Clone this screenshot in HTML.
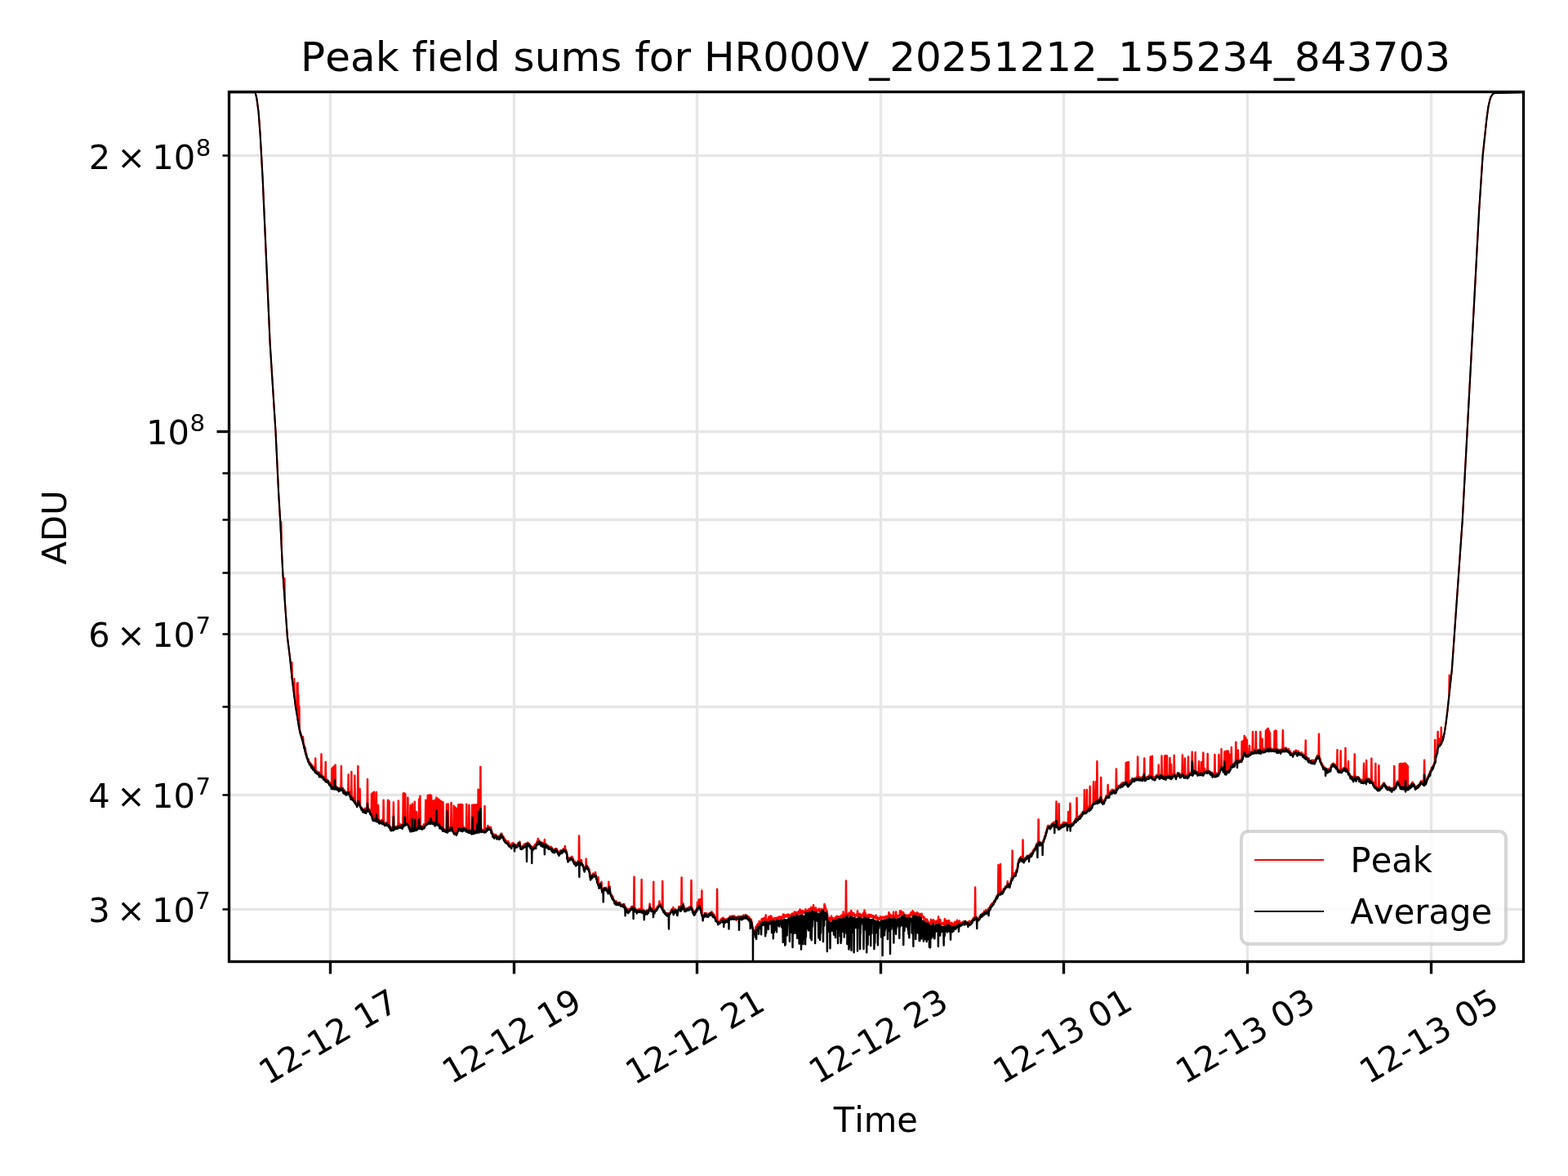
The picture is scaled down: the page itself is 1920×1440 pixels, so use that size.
<!DOCTYPE html>
<html lang="en"><head><meta charset="utf-8"><title>Peak field sums for HR000V_20251212_155234_843703</title>
<style>html,body{margin:0;padding:0;background:#fff;overflow:hidden}svg{display:block}text{font-family:'DejaVu Sans','Liberation Sans',sans-serif;fill:#000;font-kerning:none;font-variant-ligatures:none;font-feature-settings:"kern" 0,"liga" 0,"clig" 0}.t10{font-size:41.667px}.t12{font-size:50px}.t7{font-size:29.167px}.grid line{stroke:#e6e6e6;stroke-width:3.333}.sp{stroke:#000;stroke-width:3.333;fill:none;stroke-linecap:square}.mj line{stroke:#000;stroke-width:3.333}.mn line{stroke:#000;stroke-width:2.5}</style></head><body>
<svg width="1920" height="1440" viewBox="0 0 1920 1440">
<rect width="1920" height="1440" fill="#fff"/>
<defs><clipPath id="ax"><rect x="279.63" y="112.0" width="1584.9699999999998" height="1065.42"/></clipPath></defs>
<g class="grid" clip-path="url(#ax)">
<line x1="404.5" y1="112.0" x2="404.5" y2="1177.42"/>
<line x1="629.5" y1="112.0" x2="629.5" y2="1177.42"/>
<line x1="853.5" y1="112.0" x2="853.5" y2="1177.42"/>
<line x1="1078.5" y1="112.0" x2="1078.5" y2="1177.42"/>
<line x1="1302.5" y1="112.0" x2="1302.5" y2="1177.42"/>
<line x1="1527.5" y1="112.0" x2="1527.5" y2="1177.42"/>
<line x1="1752.5" y1="112.0" x2="1752.5" y2="1177.42"/>
<line x1="279.63" y1="528.5" x2="1864.6" y2="528.5"/>
<line x1="279.63" y1="1113.5" x2="1864.6" y2="1113.5"/>
<line x1="279.63" y1="973.5" x2="1864.6" y2="973.5"/>
<line x1="279.63" y1="865.5" x2="1864.6" y2="865.5"/>
<line x1="279.63" y1="776.5" x2="1864.6" y2="776.5"/>
<line x1="279.63" y1="701.5" x2="1864.6" y2="701.5"/>
<line x1="279.63" y1="636.5" x2="1864.6" y2="636.5"/>
<line x1="279.63" y1="579.5" x2="1864.6" y2="579.5"/>
<line x1="279.63" y1="190.5" x2="1864.6" y2="190.5"/>
</g>
<g clip-path="url(#ax)" fill="none" stroke-linejoin="round" stroke-linecap="round">
<polyline stroke="#f00" stroke-width="2.083" points="279.63,113.0 311.73,113.0 312.63,113.3 314.43,120.8 316.53,136.6 318.63,164.5 321.63,218.3 330.63,420.2 337.53,528.6 341.13,603.5 343.23,638.7 344.13,657.3 344,660.3 344.40,639.0 344.80,660.3 344.43,663.4 346.23,700.6 348.33,729.0 348.10,731.0 348.50,708.0 348.90,731.0 348.63,733.0 351.93,780.2 355.23,807.0 357.33,827.7 357.10,829.2 357.50,811.0 357.90,829.2 357.63,830.6 360.33,851.7 359.98,853.0 360.38,831.0 360.77,853.0 360.63,854.4 361.23,858.7 361.83,864.2 362.13,865.5 362.43,868.2 362.73,869.4 363.33,872.9 363.10,873.6 363.50,836.6 363.90,873.6 363.63,874.3 363.93,876.8 364.53,880.1 364.35,880.9 364.75,836.0 365.15,880.9 364.83,881.6 365.13,883.1 365.43,885.9 365.10,886.3 365.50,851.0 365.90,886.3 365.73,886.8 366.03,888.1 365.85,889.1 366.25,864.8 366.33,890.2"/>
<polyline stroke="#f00" stroke-width="2.45" points="365.90,886.3 365.73,886.8 366.03,888.1 365.85,889.1 366.25,864.8 366.65,889.1 366.33,890.2 366.63,891.0 367.23,896.2 367.53,896.1 367.83,897.6 368.13,897.7 368.73,900.8 369.03,900.6 369.33,901.5 369.63,903.7 369.93,904.1 370.53,906.2 370.83,906.2 370.60,906.7 371,902.2 371.40,906.7 371.13,907.2 371.43,908.4 371.73,911.3 372.03,911.4 372.33,912.4 373.23,917.7 373.53,917.2 373.75,915.4 374.15,918.9 373.83,920.6 374.13,919.9 374.43,921.8 374.73,922.6 375.03,922.9 375.33,925.1 376.23,928.8 376.53,929.7 376.83,929.5 377.13,930.0 377.73,929.6 378.03,931.9 378.33,931.8 378.63,932.8 378.93,933.2 379.23,934.3 379.53,934.0 379.83,936.7 380.43,935.2 381.03,937.5 381.33,935.8 381.63,937.3 381.93,937.1 382.23,938.0 382.53,938.0 382.83,938.9 383.43,940.0 383.73,938.7 384.03,940.8 384.63,940.5 384.93,941.3 385.23,943.1 385.53,942.0 385.83,941.8 386.13,943.5 385.85,943.3 386.25,928.5 386.65,943.3 386.43,943.1 386.73,944.2 387.03,944.2 387.33,945.5 387.63,944.2 387.93,944.7 388.23,946.1 388.53,946.9 388.83,945.9 389.13,947.0 389.43,946.7 389.73,946.6 390.03,945.5 390.33,948.8 390.63,948.3 390.93,945.8 391.23,948.5 391.53,947.7 391.83,947.6 392.13,948.2 392.43,949.5 392.73,949.1 393.03,949.2 393.33,949.5 393.10,949.5 393.50,923.5 393.90,949.5 393.63,949.5 393.93,950.5 394.23,948.6 394.53,949.4 394.83,950.6 395.13,950.0 395.43,951.3 395.73,951.1 396.03,951.9 396.33,951.7 396.63,952.6 396.93,952.3 397.23,953.1 397.83,951.6 398.13,953.2 398.43,953.5 398.73,953.3 398.35,954.0 398.75,932.9 399.15,954.0 399.03,954.7 399.33,954.6 399.63,955.6 399.93,954.3 400.23,954.6 400.83,956.7 401.13,955.2 401.43,956.5 401.73,956.4 402.03,956.6 402.33,958.0 402.93,958.9 403.23,958.3 403.53,959.3 403.83,958.4 404.13,960.6 404.43,959.4 405.03,961.9 405.33,961.3 405.63,962.0 405.93,961.7 406.10,963.3 406.50,941.0 406.90,963.3 406.53,962.0 407.13,963.5 407.43,966.1 407.73,963.6 407.35,963.8 407.75,939.8 408.15,963.8 408.03,964.1 408.33,964.6 408.63,962.2 408.93,964.6 408.60,964.4 409,938.5 409.40,964.4 409.23,964.2 409.53,965.1 409.83,965.0 409.50,964.6 410,954.0 410.50,964.6 410.13,964.2 410.43,964.6 410.23,963.9 410.62,936.6 411.02,963.9 410.73,963.2 411.03,962.7 411.33,963.4 411.63,963.7 411.93,963.3 412.23,964.2 412.53,964.6 412.83,965.7 413.13,964.4 413.43,964.4 413.73,965.4 414.03,965.5 414.33,966.0 414.63,967.1 414.93,965.3 415.23,966.6 415.53,967.0 415.83,966.8 416.13,964.5 416.73,966.5 417.03,965.4 417.33,965.6 417.63,965.1 417.48,965.6 417.88,937.9 418.27,965.6 417.93,966.1 418.23,965.2 418.53,964.7 418.83,965.0 419.13,966.6 419.43,966.3 419.73,965.1 420.03,965.2 420.33,968.0 420.63,966.6 420.93,968.4 421.23,968.0 421.53,969.1 421.83,968.7 422.13,967.7 422.43,971.1 422.73,970.3 423.03,970.6 423.33,972.3 423.63,972.0 423.93,972.3 424.23,970.9 424.83,970.8 425.13,969.7 425.43,970.5 425.73,969.9 426.03,969.0 426.33,968.9 426.23,969.6 426.62,948.5 427.02,969.6 426.63,970.4 426.93,970.0 427.23,970.9 427.53,971.3 427.83,971.4 428.13,969.5 428.43,972.8 428.73,973.7 429.03,973.0 429.33,973.4 429.63,975.1 429.93,973.9 430.23,976.2 429.98,976.2 430.38,945.0 430.77,976.2 430.53,976.1 430.83,977.2 431.13,976.5 431.73,977.6 432.03,976.5 432.33,977.5 432.63,979.5 432.93,978.6 433.23,978.8 433.83,981.7 434.13,981.0 433.98,981.2 434.38,949.8 434.77,981.2 434.43,981.3 435.03,982.8 435.33,981.7 435.63,983.7 435.93,984.2 436.23,985.1 436.53,985.5 436.83,985.6 437.13,987.1 437.73,984.7 438.03,984.6 438.33,981.9 437.98,980.9 438.38,938.1 438.77,980.9 438.63,979.8 438.93,979.8 439.23,981.1 439.53,981.0 439.83,983.7 440.13,984.1 440.43,985.8 440.23,985.3 440.62,966.0 441.02,985.3 440.73,984.8 441.03,986.3 441.33,986.8 441.63,988.2 441.93,988.6 442.23,989.4 442.53,989.8 442.83,988.9 443.13,990.4 443.73,991.2 444.03,992.1 444.33,990.6 444.63,991.6 444.93,991.9 445.23,991.4 445.53,991.0 445.83,992.6 446.13,992.5 446.43,993.1 446.73,991.0 447.03,989.8 447.33,992.1 447.93,990.6 448.23,991.8 448.53,991.3 448.83,990.0 449.13,991.3 449.43,989.9 449.73,991.6 449.50,990.9 450,954.1 450.40,986.8 450,982.8 450.50,990.9 450.03,990.1 450.33,989.9 450.63,991.6 450.93,991.7 451.53,990.0 451.83,991.3 452.13,991.5 452.43,992.2 452.73,992.3 453.03,992.0 453.33,993.4 453.63,995.5 453.93,994.4 454.53,996.3 454.83,998.0 454.60,998.2 455,972.2 455.40,998.2 455.13,998.3 455.43,998.7 455.73,1001.4 456.03,1001.0 456.33,1002.0 456.10,1002.0 456.50,970.8 456.90,1002.0 456.63,1002.1 456.93,1002.1 457.23,1003.5 457.53,1002.6 457.83,1003.0 457.73,1001.9 458.12,969.8 458.52,1001.9 458.13,1000.8 458.43,1003.7 458.73,1002.2 459.03,1002.8 459.33,1001.5 459.63,1002.5 459.93,1002.6 460.23,1003.5 460.53,1003.3 460.83,1001.2 460.38,1002.1 460.48,999.3 460.88,970.0 461.27,999.3 460.88,996.5 461.38,1002.1 461.13,1003.1 461.43,1003.1 461.73,1002.9 462.63,1004.3 462.93,1002.9 462.73,1003.2 463.12,986.0 463.52,1003.2 463.23,1003.4 463.83,1005.2 464.13,1004.2 464.43,1005.3 464.73,1004.6 465.03,1005.9 465.33,1005.7 465.93,1007.0 466.23,1005.3 466.53,1006.2 466.83,1004.6 467.43,1007.3 467.73,1004.7 468.03,1005.5 468.33,1003.4 468.63,1006.2 468.93,1007.8 469.23,1005.6 469.53,1006.9 469.23,1007.5 469.62,979.8 470.02,1007.5 469.83,1008.1 470.13,1006.7 470.43,1007.7 470.73,1007.3 471.33,1008.5 471.63,1009.5 472.23,1008.9 472.53,1008.8 472.83,1009.7 473.13,1009.2 473.43,1009.0 473.73,1007.2 474.03,1008.4 474.33,1007.7 474.63,1009.9 474.93,1008.9 474.60,1009.5 475,979.8 475.40,1009.5 475.23,1010.0 475.53,1008.7 475.83,1008.7 476.13,1009.8 476.43,1011.5 476.10,1011.2 476.50,981.0 476.90,1011.2 476.73,1011.0 477.03,1012.6 477.33,1013.7 477.63,1012.9 477.93,1014.5 478.23,1012.3 478.53,1013.2 478.83,1013.7 479.13,1014.0 479.43,1013.2 480.03,1015.3 480.33,1015.3 480.63,1015.0 480.93,1013.7 481.23,1015.3 481.53,1014.5 481.83,1013.0 481.38,1013.6 481.88,982.5 482.27,1006.3 481.88,999.0 482.38,1013.6 482.13,1014.3 482.43,1013.0 482.73,1013.5 483.03,1013.2 483.33,1013.3 483.93,1014.8 484.23,1013.1 484.83,1012.8 485.13,1013.2 485.43,1013.3 485.73,1011.8 486.03,1012.9 486.33,1014.6 486.63,1013.2 486.93,1013.3 487.23,1012.2 487.53,1013.8 487.83,1012.4 487.48,1011.9 487.88,980.4 488.27,1011.9 488.13,1011.5 488.43,1010.9 489.03,1012.6 489.33,1010.5 489.63,1010.2 489.93,1009.1 490.23,1011.5 490.53,1010.1 490.83,1010.4 491.13,1010.1 491.43,1010.3 491.73,1011.6 492.03,1010.3 492.33,1011.1 492.63,1010.3 492.93,1010.3 493.23,1010.8 493.53,1010.6 493.35,1009.7 493.75,971.6 494.15,1009.7 493.83,1008.9 494.13,1009.6 494.43,1008.5 494.73,1009.6 494.60,1008.9 495,971.2 495.40,1008.9 495.03,1008.3 495.33,1007.8 495.12,1008.3 495.62,999.6 496.12,1008.3 495.63,1008.9 495.93,1007.5 496.23,1007.8 495.85,1007.9 496.25,972.2 496.65,1007.9 496.53,1008.0 496.83,1006.8 497.13,1007.1 497.43,1008.0 497.73,1009.5 498.03,1008.3 498.33,1008.6 498.63,1008.2 498.93,1008.4 499.23,1009.8 498.98,1009.0 499.38,976.6 499.77,1009.0 499.53,1008.2 499.83,1008.4 500.13,1010.6 500.43,1009.7 500.73,1010.2 501.03,1012.5 501.93,1016.5 502.23,1013.0 502.10,1013.9 502.50,986.0 502.90,1013.9 502.53,1014.8 502.83,1014.9 503.13,1015.6 503.43,1014.8 503.73,1015.6 504.03,1016.0 504.33,1016.1 504.63,1015.1 504.25,1015.4 504.75,1002.1 504.60,1008.8 505,984.1 505.40,1008.8 505.25,1015.4 504.93,1015.7 505.23,1014.7 505.53,1014.5 505.83,1014.7 506.13,1015.4 506.43,1013.0 507.03,1015.7 507.33,1014.6 507.63,1014.0 507.93,1014.6 507.62,1015.1 507.35,1008.9 507.75,981.6 508.15,1008.9 508.12,1002.8 508.62,1015.1 508.23,1015.6 508.53,1014.2 508.83,1013.7 509.13,1014.8 509.43,1013.9 509.73,1013.5 509.60,1014.1 510,994.1 510.40,1014.1 510.03,1014.7 510.33,1013.2 510.63,1013.5 510.93,1014.7 511.23,1013.6 511.53,1014.4 511.83,1011.8 512.13,1011.9 512.73,1012.8 513.03,1011.2 512.62,1012.0 513.12,978.5 513.52,1007.1 513.12,1002.1 513.62,1012.0 513.33,1012.8 513.63,1012.0 513.93,1011.9 514.23,1012.2 513.98,1012.1 514.38,974.8 514.77,1012.1 514.53,1012.0 514.83,1011.3 515.13,1012.1 515.43,1011.4 515.73,1013.5 516.03,1012.2 516.33,1012.4 516.63,1012.2 516.93,1012.7 517.23,1012.7 517.53,1012.1 517.83,1011.2 518.13,1012.7 518.43,1011.5 518.73,1009.8 519.03,1009.2 519.33,1009.9 519.63,1009.6 519.93,1009.0 520.23,1009.2 520.53,1010.0 520.83,1010.4 521.13,1009.3 520.85,1009.2 521.25,979.8 521.65,1009.2 521.43,1009.1 521.73,1009.5 522.03,1010.0 522.33,1008.9 523.23,1006.3 523.53,1007.2 523.35,1007.5 523.75,974.1 524.15,1007.5 523.83,1007.7 524.43,1005.9 524.73,1006.6 525.03,1005.9 524.85,1005.6 525.25,973.8 525.65,1005.6 525.33,1005.3 525.63,1004.0 525.93,1005.9 526.23,1004.7 526.53,1006.2 526.35,1005.5 526.75,973.5 527.15,1005.5 526.83,1004.8 527.13,1005.5 527.43,1005.0 527,1006.0 527.50,1000.9 528,1006.0 527.73,1006.9 528.03,1006.7 527.73,1006.1 528.12,974.1 528.52,1006.1 528.33,1005.6 528.63,1006.8 528.93,1004.7 529.23,1006.3 529.53,1005.4 529.83,1005.8 530.13,1005.6 530.43,1006.6 530.23,1005.7 530.62,980.4 531.02,1005.7 530.73,1004.8 531.33,1007.7 531.63,1004.9 531.93,1006.7 532.23,1005.9 532.10,1005.5 532.50,979.8 532.90,1005.5 532.53,1005.0 532.83,1007.6 533.13,1007.1 533.43,1008.6 533.73,1006.3 534.03,1008.1 534.33,1009.2 533.88,1007.9 534.38,976.6 534.77,999.7 534.38,991.5 534.88,1007.9 534.63,1006.5 534.93,1008.6 535.23,1008.7 535.53,1008.4 535.83,1009.4 535.60,1009.2 536,977.9 536.40,1009.2 536.13,1008.9 536.43,1008.0 536.73,1008.3 537.03,1009.1 537.33,1010.8 537.10,1010.3 537.50,979.1 537.90,1010.3 537.63,1009.7 537.93,1010.8 538.23,1010.3 538.53,1011.2 538.83,1011.4 538.60,1011.9 539,980.4 539.40,1011.9 539.13,1012.3 539.43,1013.1 539.73,1011.5 540.03,1011.3 540.33,1012.4 540.23,1012.6 540.62,981.2 541.02,1012.6 540.63,1012.8 540.93,1013.3 541.23,1014.2 541.53,1013.4 541.83,1014.0 542.13,1014.2 542.43,1015.3 542.10,1014.8 542.50,982.2 542.90,1014.8 542.73,1014.2 543.03,1015.7 543.33,1016.5 543.63,1014.9 543.93,1016.5 544.23,1015.9 544.53,1015.6 544.83,1017.5 545.13,1017.0 545.43,1015.9 545.73,1016.8 546.03,1015.9 546.33,1015.5 546.63,1017.6 546.48,1017.3 546.88,984.8 547.27,1017.3 546.93,1016.9 547.23,1018.4 547.53,1017.3 547.25,1017.3 547.75,992.1 548.25,1017.3 547.83,1017.2 548.13,1016.7 548.43,1016.8 548.73,1015.8 548.35,1015.9 548.75,984.5 549.15,1015.9 549.03,1016.0 549.33,1014.6 549.63,1014.3 549.93,1014.5 550.23,1014.9 550.53,1015.1 550.83,1014.9 551.43,1016.6 551.73,1012.4 552.03,1015.4 552.33,1014.8 552.10,1014.0 552.50,982.9 552.90,1014.0 552.63,1013.3 552.93,1013.7 553.23,1012.1 553.83,1016.2 554.13,1014.5 555.03,1017.8 555.33,1017.9 555.23,1018.0 555.62,986.6 556.02,1018.0 555.63,1018.0 555.93,1019.6 556.23,1019.2 556.53,1021.7 557.13,1020.0 556.85,1019.7 557.25,988.5 557.65,1019.7 557.43,1019.3 557.73,1019.6 558.03,1019.5 558.33,1019.9 558.63,1020.6 558.35,1019.8 558.75,989.8 559.15,1019.8 558.93,1018.9 559.23,1019.4 559.53,1018.6 559.83,1017.2 560.13,1018.3 560.43,1017.0 560.73,1016.2 561.03,1014.8 560.85,1014.4 561.25,985.4 561.65,1014.4 561.33,1014.0 561.63,1014.0 561.93,1012.3 562.23,1013.9 562.10,1013.4 562.50,985.0 562.90,1013.4 562.53,1012.9 562.83,1014.0 563.13,1014.7 563.43,1014.1 563.73,1014.0 563.35,1014.1 563.75,985.2 564.15,1014.1 564.03,1014.1 564.33,1015.0 564.63,1014.2 564.93,1015.2 564.60,1015.6 565,985.1 565.40,1015.6 565.23,1016.0 565.53,1013.5 566.13,1015.0 565.85,1014.4 566.25,985.4 566.65,1014.4 566.43,1013.8 566.73,1013.7 567.03,1013.5 567.33,1015.0 567.63,1012.5 567.93,1014.0 568.23,1013.9 568.53,1014.3 568.83,1013.8 569.13,1014.7 569.43,1014.4 569.73,1014.3 570.03,1017.2 570.63,1014.6 570.93,1015.1 571.23,1016.2 570.85,1016.7 571.25,984.8 571.65,1016.7 571.83,1016.0 572.13,1016.9 572.43,1016.6 572.73,1017.5 573.03,1016.3 573.33,1016.3 573.63,1017.3 573.93,1017.4 574.23,1017.4 573.98,1017.9 574.38,985.8 574.77,1017.9 574.53,1018.5 575.13,1017.9 575.43,1016.9 575.73,1018.4 576.03,1018.6 576.33,1017.5 576.63,1018.0 576.93,1017.2 577.23,1018.3 577.53,1018.1 577.83,1016.9 577.73,1017.6 578.12,985.8 578.52,1017.6 578.13,1018.4 578.43,1018.1 578,1018.1 578.50,999.6 579,1018.1 578.73,1018.1 579.03,1019.2 579.33,1018.8 579.63,1019.1 579.35,1018.6 579.75,985.5 580.15,1018.6 579.93,1018.1 580.23,1019.4 580.53,1017.6 580.83,1018.6 581.13,1016.7 580.85,1017.4 581.25,985.4 581.65,1017.4 581.43,1018.0 581.73,1016.9 582.03,1016.4 582.33,1018.0 582.10,1017.7 582.50,985.5 582.90,1017.7 582.63,1017.5 582.93,1017.6 583.23,1017.2 583.53,1017.3 583.35,1017.1 583.75,985.4 584.15,1017.1 583.83,1017.0 584.13,1016.8 583.88,1016.9 584.38,1007.8 584.88,1016.9 584.43,1017.0 584.73,1018.7 585.03,1016.0 585.23,1015.7 585.62,966.6 586.02,1015.7 585.63,1015.9 585.93,1016.1 586.23,1017.0 585.75,1017.2 586.25,992.8 586.75,1017.2 586.53,1017.4 586.83,1017.3 586.60,1016.8 587,967.2 587.40,1016.8 587.13,1016.2 587.73,1017.7 588.03,1016.7 588.33,1017.2 588,1016.2 587.98,1002.6 588.38,938.9 588.77,1002.6 589,1016.2 588.63,1015.3 588.93,1016.7 589.23,1016.6 589.53,1015.0 589.83,1016.2 590.13,1016.7 590.43,1015.6 590.73,1017.2 591.03,1017.4 591.33,1017.0 591.63,1016.8 591.93,1016.8 592.53,1018.1 592.83,1016.0 593.13,1017.2 593.43,1017.2 593.10,1016.7 593.50,987.0 593.90,1016.7 593.73,1016.2 594.03,1015.8 594.33,1016.5 594.63,1015.3 594.93,1016.7 595.23,1016.0 595.53,1014.9 595.83,1015.3 596.13,1014.2 596.43,1013.8 596.73,1014.9 597.33,1011.0 597.63,1013.1 597.93,1012.1 598.23,1012.4 598.53,1014.5 598.83,1013.4 599.13,1014.2 599.43,1012.6 600.03,1013.4 600.33,1014.8 600.93,1012.9 601.23,1015.2 601.53,1015.2 602.13,1018.3 602.43,1020.5 602.73,1019.8 603.03,1022.1 603.33,1020.8 603.63,1023.1 603.93,1023.5 604.23,1021.4 604.53,1022.3 604.83,1022.4 605.13,1023.2 605.43,1022.3 605.73,1022.2 606.03,1021.9 606.33,1022.7 606.63,1022.2 606.93,1022.1 607.23,1022.4 607.53,1023.5 607.83,1022.7 608.13,1023.6 608.43,1024.0 609.03,1025.5 609.33,1025.4 609.63,1024.4 609.93,1026.6 610.23,1026.7 610.53,1026.4 610.83,1025.8 611.13,1023.5 611.43,1024.4 611.73,1024.8 612.03,1024.6 612.33,1023.5 612.63,1023.4 612.93,1022.1 613.23,1023.0 613.53,1020.8 613.83,1021.9 614.13,1022.6 614.43,1020.7 614.73,1023.3 615.03,1024.4 615.33,1023.8 615.63,1023.5 615.93,1024.1 616.23,1024.0 616.53,1026.1 616.83,1025.2 617.13,1026.8 617.43,1026.3 617.73,1028.2 618.03,1027.2 618.33,1028.6 618.63,1028.4 618.93,1030.1 619.23,1029.3 619.53,1029.7 619.83,1031.1 620.13,1029.6 620.43,1029.8 620.73,1031.0 621.03,1030.5 621.33,1033.0 621.63,1032.1 621.93,1032.5 622.23,1032.3 622.53,1030.3 622.83,1034.2 623.13,1033.4 623.43,1032.1 624.33,1035.6 624.63,1035.2 624.93,1035.5 625.23,1035.5 625.53,1034.3 625.83,1034.4 626.13,1034.8 626.43,1033.5 626.73,1034.5 627.03,1034.8 627.33,1032.2 627.63,1033.8 627.93,1033.6 628.23,1033.8 628.53,1034.9 628.83,1032.4 629.13,1035.2 629.43,1034.4 629.73,1036.1 630.03,1034.0 630.33,1034.8 630.63,1034.6 630.93,1035.3 631.23,1034.4 631.53,1034.7 632.13,1036.2 632.43,1034.8 632.73,1035.4 633.03,1034.7 633.33,1035.1 633.63,1035.1 633.93,1032.8 634.23,1032.8 634.53,1032.9 634.83,1032.0 635.13,1033.6 635.43,1033.4 635.73,1032.2 636.03,1031.6 635.85,1031.1 636.25,1031.0 636.65,1031.1 636.33,1030.5 636.63,1032.4 637.23,1038.0 637.53,1038.1 637.83,1038.4 638.13,1039.3 638.43,1039.2 638.73,1036.8 639.03,1037.6 639.33,1037.8 639.63,1035.7 639.93,1036.4 640.23,1036.7 640.53,1036.0 640.83,1036.6 641.43,1034.4 641.73,1034.5 642.03,1033.5 642.33,1033.9 642.63,1035.2 642.93,1034.8 643.23,1034.7 643.53,1035.1 643.83,1032.9 644.43,1033.5 644.73,1034.7 645.03,1033.6 645.33,1033.3 645.63,1033.6 646.23,1031.8 645.85,1032.8 646.25,1031.6 646.65,1032.8 646.53,1033.7 646.83,1033.0 647.13,1033.9 647.43,1032.8 647.73,1033.3 648.03,1034.9 648.33,1034.7 648.63,1035.5 648.93,1034.5 649.53,1036.0 649.83,1036.4 650.13,1036.0 650.43,1036.5 650.73,1036.5 651.33,1037.1 651.63,1037.9 651.93,1036.7 652.23,1038.1 652.53,1037.5 652.83,1038.0 653.13,1037.5 653.43,1037.5 653.73,1036.9 654.03,1036.7 654.33,1035.4 654.63,1037.3 654.93,1034.8 655.23,1034.1 655.53,1035.6 655.83,1035.4 656.43,1033.9 656.73,1032.7 657.03,1034.5 657.33,1031.0 657.63,1033.7 657.93,1029.9 658.23,1029.8 658.53,1029.8 658.35,1029.5 658.75,1027.0 659.15,1029.5 658.83,1029.2 659.13,1030.2 659.43,1029.3 659.73,1029.9 660.03,1029.1 660.33,1031.6 660.63,1030.6 660.93,1030.4 661.53,1032.1 661.83,1031.9 662.13,1031.2 662.43,1032.1 663.03,1032.6 663.33,1032.1 663.63,1033.0 663.93,1031.7 664.23,1032.8 664.53,1032.1 664.83,1032.9 665.13,1032.5 665.43,1033.6 665.73,1032.9 666.03,1034.2 666.33,1032.7 666.63,1034.4 666.48,1033.7 666.88,1027.9 667.27,1033.7 666.93,1033.0 667.23,1031.9 667.83,1034.9 668.13,1034.5 668.43,1034.8 668.73,1034.3 669.03,1035.1 669.33,1034.2 669.63,1036.6 669.93,1036.7 670.53,1035.4 670.83,1035.5 671.13,1036.7 671.43,1036.7 671.73,1035.9 672.03,1037.4 672.33,1037.7 673.53,1037.5 674.13,1037.2 674.43,1038.8 674.73,1036.7 675.03,1038.1 675.33,1038.8 675.63,1040.1 675.93,1038.1 676.23,1039.5 676.83,1040.9 677.13,1042.6 677.43,1040.7 677.73,1042.8 678.03,1041.8 678.33,1042.0 678.93,1040.6 679.23,1039.6 679.53,1041.2 679.83,1040.5 680.13,1039.4 680.43,1040.2 680.73,1039.2 681.03,1039.2 681.63,1041.1 681.93,1039.5 682.23,1041.6 682.53,1042.7 682.83,1041.8 683.73,1045.4 684.03,1043.6 684.33,1043.0 684.63,1043.6 684.93,1043.5 685.23,1043.7 685.53,1043.5 685.83,1041.7 686.13,1043.6 686.43,1041.5 686.73,1042.9 687.03,1042.9 687.63,1042.3 687.93,1042.2 688.23,1041.0 688.53,1040.8 688.83,1043.0 689.13,1042.3 689.43,1042.0 689.73,1041.3 690.03,1039.2 690.33,1041.8 690.63,1039.9 690.93,1039.8 691.23,1040.3 691.53,1039.4 691.83,1041.3 691.48,1039.9 691.88,1036.0 692.43,1041.8 692.73,1041.5 693.03,1040.7 693.33,1042.4 693.63,1043.0 693.93,1044.2 694.23,1046.7 694.53,1048.2 694.83,1051.6 695.13,1052.9 695.43,1053.0 695.73,1052.3 696.03,1050.3 696.33,1051.9 696.63,1050.3 697.23,1050.9 697.53,1051.0 697.83,1050.5 698.13,1050.8 698.43,1050.8 698.73,1050.4 699.03,1050.1 699.63,1050.3 699.93,1048.9 700.23,1048.8 700.53,1051.5 700.83,1051.3 701.13,1050.0 701.43,1053.3 701.73,1053.9 702.03,1052.1 702.63,1054.3 702.93,1054.2 703.53,1056.0 703.83,1057.3 704.13,1055.0 704.43,1057.5 704.73,1058.8 705.03,1056.3 705.33,1058.2 705.93,1056.9 706.23,1057.7 706.53,1057.9 706.83,1057.4 707.13,1057.9 707.43,1055.3 707.73,1054.1 708.03,1055.2 708.33,1055.7 708.63,1056.4 708.93,1055.8 708.73,1055.3 709.12,1023.5 709.52,1055.3 709.23,1054.8 709.53,1056.3 709.83,1055.4 710.13,1055.2 710.43,1054.7 710.73,1055.1 711.03,1055.1 711.33,1054.7 711.88,1052.9 712.27,1054.1 711.93,1054.9 712.53,1057.8 712.83,1057.9 713.13,1058.3 713.43,1059.3 713.73,1058.9 714.03,1060.4 714.33,1061.1 714.63,1061.5 714.93,1061.6 715.23,1062.0 715.53,1064.7 715.83,1063.2 716.13,1063.5 716.43,1063.6 716.73,1061.9 717.03,1062.6 717.63,1059.9 717.35,1060.2 717.75,1051.6 718.15,1060.2 717.93,1060.5 718.23,1060.4 718.53,1059.9 718.83,1061.2 719.13,1060.3 719.43,1061.8 719.73,1062.5 720.03,1061.9 720.63,1064.9 720.93,1063.6 721.23,1063.7 721.53,1065.0 721.83,1067.1 722.43,1069.6 722.73,1072.7 723.03,1074.4 723.33,1073.6 723.93,1074.5 724.23,1073.7 724.53,1073.2 724.83,1073.2 725.13,1071.8 725.43,1072.7 725.73,1073.1 726.03,1070.7 726.33,1069.4 726.63,1070.4 726.93,1070.1 727.53,1071.9 727.83,1071.4 728.13,1072.4 728.43,1071.3 728.73,1071.0 728.60,1070.2 729,1067.9 729.40,1070.2 729.03,1069.4 729.33,1071.3 729.63,1071.5 730.23,1074.2 730.53,1076.9 731.13,1078.0 731.43,1077.9 731.73,1079.7 732.03,1080.9 732.33,1082.8 732.10,1083.2 732.50,1074.1 732.90,1083.2 732.63,1083.5 732.93,1084.5 733.23,1083.8 733.83,1086.2 734.13,1082.6 734.43,1082.6 735.03,1083.6 735.33,1082.7 735.63,1082.3 735.93,1084.8 736.10,1084.4 736.50,1079.8 736.90,1084.4 736.53,1084.7 736.83,1086.6 737.13,1089.9 737.43,1091.4 738.03,1089.1 738.33,1089.2 738.63,1089.9 738.93,1090.0 739.23,1088.3 739.83,1087.4 740.13,1087.2 740.43,1087.9 740.73,1087.3 741.03,1087.6 741.33,1087.6 741.63,1087.8 741.93,1086.7 742.23,1087.1 742.53,1088.4 742.83,1088.6 743.13,1089.3 743.43,1088.8 743.73,1088.7 744.03,1089.7 744.33,1090.2 744.63,1091.3 744.93,1091.3 745.23,1090.7 744.98,1089.9 745.38,1079.8 745.77,1089.9 745.53,1089.1 746.13,1085.8 746.43,1085.1 746.73,1089.0 747.03,1091.5 747.33,1092.9 747.63,1095.0 747.93,1094.7 748.23,1094.5 748.53,1096.0 748.83,1096.1 749.13,1096.7 749.43,1098.7 749.73,1097.3 750.03,1099.5 750.33,1098.7 750.63,1098.4 750.93,1101.0 751.23,1101.1 751.83,1102.4 752.13,1103.7 752.43,1103.7 752.73,1103.5 753.03,1103.9 753.33,1104.6 753.63,1104.0 753.93,1105.0 754.23,1103.2 754.53,1105.0 754.83,1105.3 755.13,1106.1 755.43,1104.7 756.03,1106.0 756.33,1108.0 756.63,1105.9 756.93,1106.3 757.23,1105.4 757.53,1107.6 757.83,1105.8 758.13,1105.8 758.43,1106.2 758.73,1105.0 759.03,1105.6 759.33,1106.4 759.63,1106.3 759.93,1108.0 760.23,1107.1 760.53,1109.6 760.83,1108.3 761.13,1107.8 761.43,1108.6 761.73,1108.9 762.03,1108.2 762.33,1108.3 762.93,1107.1 763.23,1107.5 763.53,1108.8 763.83,1107.1 764.13,1107.9 764.43,1107.2 765.03,1109.7 765.33,1109.7 765.63,1111.4 765.93,1111.8 766.23,1111.2 766.53,1112.0 766.83,1113.1 767.13,1113.4 767.43,1113.4 767.73,1112.7 768.03,1115.8 768.33,1115.3 768.63,1115.9 768.93,1115.2 769.23,1116.7 769.53,1115.1 769.83,1115.0 770.13,1113.0 770.43,1113.9 771.03,1114.0 771.33,1113.9 771.63,1112.9 771.93,1113.6 772.23,1112.5 772.53,1112.3 772.83,1112.2 773.13,1110.7 773.43,1110.1 773.73,1113.2 774.03,1110.1 774.63,1111.6 774.93,1110.4 775.23,1111.8 775.53,1109.4 775.83,1111.0 776.13,1111.4 776.43,1112.6 776.10,1112.4 776.50,1073.8 776.90,1112.4 776.73,1112.1 777.03,1110.7 777.33,1112.5 777.63,1112.6 777.93,1112.1 778.23,1113.2 778.53,1115.1 778.83,1114.6 779.13,1114.7 779.43,1115.4 779.73,1114.7 780.03,1114.3 780.33,1115.6 780.63,1115.5 780.93,1115.8 781.23,1113.6 781.53,1113.7 781.83,1114.7 782.43,1113.9 782.73,1113.1 783.03,1113.8 783.33,1113.0 783.63,1115.4 783.93,1114.8 784.23,1113.5 784.53,1115.3 784.83,1113.6 785.13,1114.9 785.43,1114.6 785.23,1114.4 785.62,1077.0 786.02,1114.4 785.73,1114.2 786.03,1115.6 786.33,1113.3 786.63,1114.5 786.93,1114.6 787.23,1113.6 787.53,1114.0 787.83,1115.4 788.13,1115.6 788.43,1114.7 788.73,1116.1 789.03,1116.2 789.33,1116.5 789.63,1115.9 789.93,1116.1 790.23,1116.8 790.53,1116.0 790.83,1115.7 791.13,1115.3 791.43,1116.6 791.73,1117.0 792.03,1114.5 792.33,1115.6 792.93,1116.8 793.53,1114.7 793.83,1115.6 794.13,1116.0 794.43,1113.6 794.73,1112.9 795.03,1112.8 795.33,1109.4 795.23,1109.9 795.62,1106.6 796.02,1109.9 795.63,1110.4 795.93,1111.5 796.23,1111.7 796.53,1111.7 796.83,1111.9 797.13,1112.3 797.43,1112.3 797.73,1113.2 798.03,1112.9 798.33,1113.9 798.63,1114.0 798.93,1113.9 799.23,1114.2 799.53,1114.7 799.83,1113.9 800.13,1115.5 799.85,1115.4 800.25,1079.8 800.65,1115.4 800.43,1115.3 800.73,1115.8 801.03,1115.2 801.33,1115.5 801.63,1116.0 801.93,1116.0 802.23,1115.1 802.83,1114.1 803.13,1113.7 803.43,1112.9 804.03,1111.8 804.33,1113.1 804.63,1111.1 804.93,1111.0 805.23,1109.9 805.83,1110.7 806.13,1108.7 806.43,1109.0 806.73,1108.3 807.03,1108.6 807.33,1107.4 807.10,1107.4 807.50,1103.5 807.90,1107.4 807.63,1107.3 807.93,1107.5 808.23,1106.5 808.53,1109.0 808.83,1109.8 809.13,1108.2 809.43,1109.8 809.73,1109.5 810.03,1110.9 810.33,1110.0 810.93,1112.7 811.23,1112.7 810.85,1112.8 811.25,1078.9 811.65,1112.8 811.53,1113.0 811.83,1113.4 812.13,1113.6 812.43,1114.8 812.73,1114.4 813.03,1116.7 813.33,1116.3 813.63,1116.1 813.93,1115.5 814.23,1117.8 814.53,1118.4 814.83,1118.1 815.13,1118.7 815.43,1118.9 815.73,1118.4 816.03,1118.4 816.33,1118.9 816.63,1119.9 816.93,1118.7 817.23,1118.1 817.53,1119.6 817.83,1119.7 818.43,1119.8 818.73,1118.5 819.03,1118.6 819.33,1118.7 819.63,1118.8 819.93,1119.0 820.23,1118.8 820.83,1117.1 821.13,1116.0 821.43,1115.9 821.73,1114.6 822.03,1114.8 822.33,1115.1 822.63,1114.8 822.93,1113.1 823.23,1114.7 823.53,1113.0 823.83,1116.1 824.13,1116.6 823.98,1116.8 824.38,1111.0 824.77,1116.8 824.43,1117.1 824.73,1117.2 825.03,1116.3 825.33,1118.0 825.63,1115.7 825.93,1115.5 826.23,1115.7 826.53,1113.6 826.83,1114.7 827.13,1113.5 827.43,1115.2 827.73,1114.3 828.03,1115.3 828.33,1114.7 828.63,1118.1 828.93,1116.2 829.23,1117.1 829.53,1117.3 829.83,1115.0 830.43,1114.0 830.73,1113.9 831.03,1112.7 831.33,1110.1 831.63,1110.6 831.93,1111.5 832.23,1111.9 832.53,1110.3 832.83,1110.8 833.43,1111.1 833.73,1110.8 834.03,1112.3 834.23,1111.3 834.62,1074.5 835.02,1111.3 834.63,1111.9 834.93,1111.4 835.23,1113.0 835.53,1110.5 835.83,1107.0 836.13,1108.1 836.43,1106.2 836.73,1109.7 837.33,1108.9 837.93,1112.0 838.23,1114.3 838.53,1114.1 838.83,1115.0 839.13,1113.8 839.43,1113.7 839.73,1112.6 840.03,1113.1 840.63,1113.1 840.93,1112.3 841.23,1112.6 841.53,1112.3 841.83,1112.7 842.13,1111.8 842.43,1111.7 842.73,1111.3 843.03,1111.3 843.33,1111.5 843.63,1110.8 843.93,1112.4 844.23,1112.0 844.53,1111.4 844.83,1111.5 845.13,1109.9 845.43,1110.2 845.73,1110.1 846.33,1111.0 846.10,1111.4 846.50,1077.9 846.90,1111.4 846.63,1111.7 846.93,1110.6 847.53,1113.9 847.83,1113.5 848.13,1114.7 848.43,1113.7 848.73,1115.6 849.03,1116.1 849.33,1115.4 849.63,1118.2 849.93,1119.3 850.23,1118.6 850.53,1117.3 850.83,1116.9 851.13,1116.1 851.43,1116.6 851.73,1116.0 852.03,1116.2 852.33,1114.7 852.63,1114.9 852.93,1113.5 853.23,1112.7 853.53,1112.7 853.83,1111.6 853.60,1111.4 854,1104.8 854.40,1111.4 854.13,1111.1 854.43,1111.9 854.73,1111.3 855.03,1109.7 855.33,1109.2 855.23,1109.2 855.62,1101.6 856.02,1109.2 855.63,1109.2 855.93,1108.3 856.23,1108.9 856.53,1109.0 856.83,1109.1 857.13,1110.3 857.43,1112.2 857.10,1113.3 857.50,1101.0 857.90,1113.3 857.73,1114.4 858.03,1114.1 858.33,1113.5 858.63,1114.8 858.93,1116.7 859.23,1117.6 858.98,1118.4 859.38,1090.4 859.77,1118.4 859.53,1119.1 859.83,1121.7 860.13,1120.6 860.73,1123.1 861.33,1122.4 861.63,1122.4 861.93,1121.3 862.23,1121.6 862.53,1120.4 862.83,1120.1 863.13,1118.0 863.43,1118.2 863.73,1118.1 864.03,1119.1 864.33,1118.3 864.63,1118.3 864.93,1118.7 865.23,1120.9 865.53,1118.6 865.83,1120.2 866.13,1120.3 866.43,1121.6 866.73,1121.3 867.03,1120.5 867.33,1121.1 867.63,1121.2 868.23,1118.4 868.53,1118.5 868.83,1119.2 869.13,1118.2 869.73,1119.3 870.03,1118.3 870.33,1119.6 870.63,1117.6 870.93,1116.5 871.53,1118.3 871.83,1116.8 872.43,1120.0 872.73,1119.3 873.03,1120.9 873.33,1118.8 873.63,1120.7 873.93,1119.4 874.23,1119.8 874.53,1120.4 874.83,1122.7 875.13,1122.6 875.43,1124.1 875.73,1122.9 876.03,1122.9 876.33,1125.5 876.63,1124.9 876.93,1124.8 877.23,1127.2 877.53,1128.0 877.73,1127.3 878.12,1088.8 878.52,1127.3 878.13,1127.8 878.43,1128.3 878.73,1127.4 879.03,1127.7 879.63,1130.1 879.93,1128.3 880.23,1130.0 880.53,1130.0 881.13,1128.9 881.43,1128.0 881.73,1128.8 882.03,1127.9 882.33,1125.7 882.63,1127.5 882.93,1126.3 883.23,1126.4 883.53,1127.8 884.13,1124.4 884.43,1125.7 884.73,1125.2 885.03,1126.9 885.33,1123.6 885.63,1126.7 886.23,1126.1 886.53,1126.8 886.83,1127.9 887.13,1125.1 887.43,1126.2 887.73,1126.7 888.03,1126.8 888.33,1126.6 888.63,1127.3 888.93,1127.1 889.23,1126.7 889.53,1125.6 889.83,1127.7 890.13,1128.2 890.43,1127.7 890.73,1126.8 891.03,1127.1 891.33,1124.7 891.63,1126.2 892.23,1124.9 892.53,1125.6 892.83,1124.3 893.13,1123.8 893.73,1122.0 894.03,1123.0 894.33,1124.7 894.63,1124.7 894.93,1122.6 895.23,1123.1 895.53,1124.1 895.83,1122.0 896.13,1122.3 896.43,1121.5 896.73,1123.8 897.03,1121.9 897.33,1122.0 897.63,1122.3 897.93,1121.8 898.23,1124.6 898.53,1123.7 898.83,1124.6 899.13,1121.4 899.43,1123.8 900.03,1122.6 900.63,1125.1 900.93,1124.9 901.23,1123.7 901.53,1126.8 902.13,1123.1 902.43,1122.9 902.73,1122.9 903.03,1123.2 903.33,1122.7 903.63,1122.4 903.93,1123.6 904.23,1122.2 904.53,1122.6 904.83,1121.9 905.13,1122.1 905.43,1123.4 905.73,1122.6 906.03,1123.3 906.33,1122.7 906.63,1123.8 906.93,1122.9 907.23,1124.0 907.53,1122.1 907.83,1124.2 908.13,1123.7 908.43,1122.7 908.73,1123.0 909.03,1121.8 909.33,1123.0 909.63,1123.1 909.93,1122.3 910.23,1123.4 910.53,1120.6 910.83,1122.0 911.13,1120.9 911.43,1121.3 911.73,1122.2 912.03,1121.3 912.33,1122.3 912.63,1120.8 912.93,1120.8 913.23,1121.3 913.53,1120.5 914.13,1122.0 914.43,1123.0 914.73,1121.7 915.03,1121.9 915.33,1121.6 915.63,1121.9 915.93,1123.2 916.23,1123.5 916.53,1123.9 916.83,1123.7 917.13,1125.0 917.43,1123.0 917.73,1124.6 918.03,1125.4 918.33,1124.9 918.63,1125.7 918.93,1125.5 919.23,1125.6 919.53,1126.3 919.83,1125.9 920.13,1127.2 920.43,1129.4 920.73,1129.7 921.03,1132.8 921.63,1136.7 921.93,1136.6 922.23,1139.2 922.53,1138.4 922.83,1139.8 923.13,1140.8 923.43,1139.7 923.73,1139.6 924.03,1139.4 924.33,1139.8 924.93,1138.9 925.23,1137.5 925.53,1134.7 925.83,1136.3 926.13,1134.9 926.43,1135.3 926.73,1134.3 927.03,1132.5 927.33,1133.0 927.63,1132.0 927.93,1132.6 928.23,1131.1 928.53,1132.8 929.13,1130.9 929.43,1131.2 929.73,1127.9 930.03,1130.4 930.33,1130.0 930.63,1130.1 930.93,1129.1 931.23,1130.0 932.43,1127.9 932.73,1125.3 933.03,1129.0 933.33,1125.7 933.63,1125.3 934.23,1127.1 934.53,1124.6 934.83,1127.0 935.13,1125.1 935.43,1127.4 935.73,1127.0 936.03,1124.5 936.33,1126.2 936.63,1123.3 936.93,1124.4 937.23,1124.6 937.53,1125.5 937.35,1125.1 937.75,1120.4 938.15,1125.1 937.83,1124.8 938.43,1126.7 938.73,1127.1 939.03,1125.4 939.33,1126.4 939.63,1126.1 939.93,1128.6 940.23,1126.8 940.53,1129.3 940.83,1128.0 941.13,1128.4 941.43,1122.4 941.73,1127.7 942.03,1127.6 942.33,1126.4 942.63,1126.9 942.93,1126.8 943.23,1126.3 943.53,1121.4 943.83,1125.3 944.13,1124.9 944.43,1126.2 944.73,1122.0 945.03,1127.1 945.33,1126.6 945.63,1126.9 945.93,1126.8 946.23,1125.2 946.53,1125.5 946.83,1124.7 947.13,1126.5 947.43,1125.8 947.73,1126.2 948.03,1126.3 948.33,1125.4 948.63,1124.7 948.35,1125.2 948.75,1124.1 949.15,1125.2 948.93,1125.7 949.23,1124.8 949.53,1124.7 949.83,1124.2 950.13,1125.0 950.43,1125.6 950.73,1123.8 951.03,1125.0 951.33,1124.8 951.63,1124.8 951.93,1124.4 952.23,1125.4 952.53,1123.5 952.83,1124.8 953.13,1125.5 953.43,1124.6 953.73,1124.6 954.03,1122.4 954.33,1124.6 954.63,1124.5 954.93,1124.3 955.53,1124.5 956.13,1122.5 956.73,1123.4 957.03,1125.3 957.63,1123.1 957.93,1122.5 958.53,1123.8 959.13,1119.4 959.43,1121.6 959.73,1122.7 960.03,1119.8 960.33,1122.2 960.63,1122.5 960.93,1121.9 961.23,1122.9 961.83,1121.8 962.13,1122.6 962.43,1121.9 962.73,1120.2 963.03,1120.9 963.33,1121.0 963.63,1122.2 963.93,1120.2 964.23,1122.5 964.83,1120.8 965.13,1119.5 965.73,1123.0 966.03,1120.9 966.33,1121.5 966.63,1120.3 966.93,1121.6 967.23,1121.7 967.53,1122.2 967.83,1121.0 968.13,1122.8 968.43,1121.6 968.73,1121.4 969.03,1121.8 969.33,1119.5 969.63,1118.9 970.23,1120.1 970.53,1119.6 970.83,1118.4 971.13,1121.1 971.43,1121.4 972.03,1120.1 972.33,1121.2 972.93,1116.6 973.23,1119.3 973.83,1119.9 974.13,1119.8 974.43,1119.9 974.73,1117.3 975.03,1116.9 975.33,1119.3 975.63,1118.9 975.93,1117.5 976.23,1118.9 976.83,1116.9 977.13,1119.0 977.43,1119.0 977.73,1118.4 978.03,1116.1 978.33,1118.5 978.63,1118.3 978.93,1117.1 979.23,1118.4 979.53,1113.6 979.83,1118.3 980.13,1116.9 980.43,1118.1 980.73,1117.1 981.03,1114.9 981.33,1118.6 981.93,1116.8 982.23,1116.8 982.53,1118.8 982.83,1115.0 983.13,1117.0 983.43,1115.4 983.73,1117.8 984.03,1115.7 984.33,1116.6 984.63,1117.0 984.93,1116.7 985.23,1115.9 985.53,1116.6 985.83,1117.9 986.13,1116.9 986.43,1113.3 986.73,1116.1 987.03,1115.4 987.33,1116.7 987.63,1115.1 987.93,1115.8 988.23,1116.2 988.53,1116.1 988.83,1115.1 989.13,1114.6 989.43,1116.5 989.73,1114.7 990.03,1115.1 990.63,1112.9 990.93,1115.2 991.23,1114.5 991.53,1114.4 991.83,1113.5 992.13,1114.4 992.43,1112.8 992.73,1111.9 993.03,1115.0 993.33,1111.0 993.63,1113.5 993.93,1114.8 994.23,1114.3 994.53,1112.0 994.83,1113.4 995.13,1115.6 995.43,1113.9 995.73,1113.0 996.03,1108.2 996.63,1112.6 996.93,1114.1 997.23,1114.7 997.53,1112.1 997.83,1114.8 998.13,1111.9 998.73,1114.4 999.03,1111.6 999.33,1114.5 999.93,1115.6 1000.23,1114.7 1000.53,1114.6 1000.83,1114.7 1001.13,1115.7 1001.43,1114.1 1001.73,1113.8 1002.03,1113.7 1002.33,1115.1 1002.63,1115.2 1002.93,1112.8 1003.23,1113.5 1003.53,1113.0 1003.83,1116.8 1004.13,1113.9 1004.73,1114.5 1005.03,1115.4 1005.33,1113.6 1005.63,1113.5 1005.93,1114.6 1006.23,1113.2 1006.83,1114.9 1007.13,1114.2 1007.43,1114.0 1007.73,1114.2 1008.33,1113.3 1008.63,1113.2 1008.93,1113.8 1009.23,1111.9 1009.53,1106.9 1009.83,1112.3 1010.13,1113.7 1009.85,1112.4 1010.25,1108.9 1010.65,1112.4 1010.43,1111.2 1010.73,1112.4 1011.03,1111.7 1011.33,1113.7 1011.63,1114.3 1011.93,1115.5 1012.23,1114.7 1012.83,1116.9 1013.13,1119.1 1013.43,1122.7 1013.73,1125.1 1014.03,1125.6 1014.33,1126.5 1014.63,1125.1 1014.93,1128.5 1015.23,1123.8 1015.53,1126.4 1015.83,1126.9 1016.13,1126.7 1016.73,1124.0 1017.03,1126.8 1017.33,1126.1 1017.63,1126.5 1017.93,1125.7 1017.73,1125.8 1018.12,1121.6 1018.52,1125.8 1018.23,1125.9 1018.53,1126.2 1018.83,1123.7 1019.13,1125.5 1019.43,1126.4 1019.73,1126.4 1020.03,1124.3 1020.33,1126.2 1020.63,1126.5 1020.93,1125.7 1021.23,1125.6 1021.53,1125.3 1021.83,1125.4 1022.13,1124.6 1022.43,1125.3 1022.73,1124.7 1023.03,1122.9 1023.33,1125.0 1023.63,1125.2 1023.93,1123.6 1024.53,1123.5 1024.83,1121.7 1025.13,1123.5 1025.43,1124.3 1025.73,1122.5 1026.03,1122.3 1026.33,1125.7 1026.63,1123.9 1026.93,1123.1 1027.23,1123.9 1027.53,1122.6 1028.13,1123.4 1028.43,1123.4 1028.73,1122.0 1029.03,1123.2 1029.33,1123.0 1029.63,1122.0 1029.93,1122.2 1030.23,1122.9 1030.53,1120.4 1030.83,1123.7 1031.13,1122.3 1031.43,1123.2 1031.73,1120.9 1032.03,1121.5 1032.33,1121.5 1032.63,1116.4 1032.93,1120.4 1033.23,1120.4 1033.53,1122.7 1033.83,1120.1 1034.13,1122.5 1034.43,1122.7 1034.73,1121.4 1035.03,1123.0 1035.33,1119.5 1035.63,1121.0 1035.93,1119.1 1035.60,1120.2 1036,1078.5 1036.40,1120.2 1036.23,1121.2 1036.53,1120.0 1036.83,1121.8 1037.13,1120.2 1037.43,1121.2 1037.73,1121.0 1038.03,1119.2 1038.33,1120.2 1038.63,1120.7 1038.93,1120.3 1039.23,1121.1 1039.53,1120.5 1039.83,1117.4 1040.13,1119.6 1040.43,1121.1 1040.73,1121.8 1041.03,1121.1 1041.33,1118.7 1041.63,1118.8 1041.93,1120.3 1042.23,1119.4 1041.85,1120.3 1042.25,1115.0 1042.65,1120.3 1042.53,1121.2 1042.83,1120.9 1043.13,1120.4 1043.43,1121.3 1043.73,1119.8 1044.03,1117.8 1044.33,1121.2 1044.63,1120.2 1044.93,1120.3 1045.53,1118.1 1045.83,1120.4 1046.13,1121.0 1046.43,1119.6 1046.73,1120.9 1047.03,1121.4 1047.33,1120.8 1047.63,1120.5 1047.93,1121.7 1048.23,1121.5 1048.83,1120.5 1049.13,1121.0 1049.43,1121.2 1049.73,1120.6 1049.60,1118.8 1050,1115.4 1050.40,1118.8 1050.03,1117.0 1050.33,1120.2 1050.63,1121.8 1051.53,1119.8 1052.13,1121.8 1052.43,1119.0 1053.03,1121.8 1053.33,1118.9 1053.63,1121.0 1053.93,1121.7 1054.23,1120.3 1054.53,1120.3 1054.83,1120.8 1055.13,1121.6 1055.43,1120.6 1055.73,1120.8 1056.03,1121.8 1056.33,1121.4 1056.63,1121.7 1056.93,1118.2 1057.23,1121.8 1057.53,1120.1 1057.83,1122.0 1058.13,1123.1 1058.43,1121.6 1058.10,1121.1 1058.50,1114.5 1058.90,1121.1 1058.73,1120.6 1059.03,1123.7 1059.63,1117.9 1059.93,1121.1 1060.23,1123.2 1060.53,1122.1 1060.83,1121.5 1061.13,1122.3 1061.43,1121.7 1061.73,1120.7 1062.03,1120.8 1062.33,1123.2 1063.23,1120.4 1063.53,1122.8 1064.13,1119.8 1064.43,1120.9 1064.73,1120.9 1065.03,1120.6 1065.33,1121.2 1065.63,1122.3 1065.93,1121.4 1066.23,1120.1 1066.53,1123.0 1066.83,1122.2 1067.13,1122.0 1067.43,1121.2 1067.73,1121.9 1068.03,1120.9 1068.33,1122.8 1068.63,1121.7 1068.93,1121.8 1069.23,1121.2 1069.53,1123.7 1069.83,1122.7 1070.13,1124.3 1070.43,1123.7 1070.73,1122.5 1071.03,1123.4 1071.33,1122.6 1071.63,1122.8 1071.93,1123.9 1072.23,1124.1 1072.53,1120.6 1072.83,1124.9 1073.13,1124.9 1073.43,1124.5 1073.73,1123.6 1074.03,1124.2 1074.33,1124.0 1074.63,1123.1 1074.93,1126.2 1075.23,1125.4 1075.53,1124.1 1075.83,1125.2 1076.13,1125.7 1076.43,1124.5 1076.73,1124.1 1077.03,1125.4 1077.33,1125.6 1077.63,1124.5 1077.93,1122.1 1078.23,1124.0 1078.53,1124.8 1079.13,1125.0 1079.43,1124.4 1079.73,1124.0 1080.33,1124.1 1080.63,1122.4 1080.93,1122.8 1081.23,1124.0 1081.53,1124.1 1081.83,1124.0 1082.13,1123.9 1082.73,1122.8 1083.03,1123.7 1083.33,1123.2 1083.63,1123.4 1083.93,1124.3 1084.23,1124.2 1084.53,1122.0 1084.83,1122.9 1085.13,1122.5 1085.43,1122.6 1085.73,1121.8 1086.03,1124.6 1086.33,1122.6 1086.63,1121.9 1086.93,1121.6 1087.23,1122.8 1087.53,1123.0 1087.83,1121.9 1088.13,1121.4 1088.43,1117.1 1088.73,1122.7 1089.03,1120.9 1089.33,1122.4 1089.63,1121.6 1089.93,1120.3 1090.23,1119.7 1090.53,1121.3 1090.83,1121.4 1091.13,1121.9 1091.43,1123.1 1092.03,1121.0 1092.33,1121.2 1092.63,1122.5 1092.93,1123.3 1093.23,1122.2 1093.53,1123.5 1093.83,1123.9 1094.13,1116.6 1094.43,1123.0 1094.73,1122.1 1095.03,1123.1 1095.63,1123.6 1095.93,1122.0 1096.23,1122.1 1096.53,1123.0 1096.83,1122.7 1097.13,1116.4 1097.43,1123.9 1097.73,1120.3 1098.33,1122.9 1098.63,1121.6 1098.93,1122.1 1099.23,1122.2 1099.53,1121.4 1099.83,1121.5 1100.13,1121.1 1100.73,1122.1 1101.03,1122.1 1101.33,1121.3 1101.63,1120.9 1101.93,1115.4 1102.23,1119.4 1102.53,1120.6 1102.83,1119.9 1103.13,1118.6 1103.43,1115.5 1103.73,1118.9 1104.03,1119.0 1104.33,1118.3 1104.63,1117.0 1104.93,1119.4 1105.23,1119.2 1105.83,1119.7 1106.13,1119.3 1105.85,1120.0 1106.25,1117.2 1106.65,1120.0 1106.43,1120.6 1106.73,1120.1 1107.03,1122.0 1107.33,1120.1 1107.63,1119.8 1107.93,1120.0 1108.23,1121.8 1108.53,1121.9 1108.83,1121.6 1109.13,1120.5 1109.43,1121.4 1109.73,1121.6 1110.03,1123.7 1110.33,1122.5 1110.63,1123.4 1111.23,1120.4 1111.83,1121.5 1112.13,1121.3 1112.43,1122.6 1112.73,1120.5 1113.03,1121.9 1113.33,1121.8 1113.63,1121.1 1113.93,1121.8 1114.23,1119.8 1114.53,1120.6 1114.83,1119.3 1115.13,1121.2 1115.43,1117.2 1115.73,1120.2 1116.03,1120.4 1116.33,1119.5 1116.63,1119.6 1116.93,1118.0 1117.23,1120.2 1117.53,1115.3 1117.83,1118.9 1118.13,1120.0 1118.43,1119.6 1119.03,1117.5 1119.33,1117.2 1119.63,1118.9 1119.93,1119.0 1120.23,1118.6 1120.53,1118.2 1120.83,1120.0 1121.13,1119.8 1121.43,1119.2 1122.33,1119.0 1122.63,1119.3 1122.93,1117.2 1123.23,1119.3 1123.53,1120.3 1123.83,1120.0 1124.13,1118.4 1124.43,1121.5 1124.73,1120.5 1125.03,1118.7 1125.63,1120.8 1125.93,1120.4 1126.23,1122.4 1126.53,1121.6 1127.13,1119.1 1127.43,1121.2 1127.73,1120.6 1128.03,1122.5 1128.33,1121.4 1128.63,1118.8 1128.93,1122.7 1129.23,1123.1 1129.53,1122.7 1129.83,1121.9 1130.13,1122.5 1130.43,1122.6 1130.73,1124.3 1131.03,1125.0 1131.33,1124.5 1131.63,1122.9 1131.93,1125.1 1132.23,1125.6 1132.53,1124.8 1132.83,1125.0 1133.13,1126.2 1133.43,1127.8 1134.03,1126.2 1134.33,1125.9 1134.63,1126.2 1134.93,1127.4 1135.23,1125.7 1135.53,1129.4 1136.13,1128.9 1136.43,1128.2 1136.73,1129.7 1137.03,1130.6 1137.33,1130.4 1137.63,1130.5 1137.93,1131.5 1138.23,1132.1 1138.53,1130.8 1138.83,1130.8 1139.13,1131.1 1139.43,1131.3 1139.73,1131.1 1140.03,1125.8 1140.33,1129.9 1140.63,1130.7 1140.93,1127.2 1141.23,1130.2 1141.83,1129.3 1142.13,1129.7 1142.43,1128.7 1142.73,1130.4 1143.03,1126.2 1143.33,1129.9 1143.63,1127.9 1143.93,1129.7 1144.53,1128.8 1144.83,1130.8 1145.13,1128.0 1145.43,1128.2 1146.03,1130.5 1146.33,1130.9 1146.63,1130.6 1146.93,1129.0 1147.23,1128.7 1147.53,1127.2 1147.83,1129.2 1148.13,1128.8 1148.43,1127.9 1148.73,1129.0 1149.03,1122.5 1149.33,1127.9 1149.63,1129.6 1150.23,1128.4 1150.53,1128.6 1150.83,1129.6 1151.13,1129.3 1151.43,1126.1 1151.73,1131.8 1152.03,1129.4 1152.33,1130.6 1152.93,1130.8 1153.23,1130.8 1153.53,1131.5 1153.83,1131.7 1154.13,1131.3 1154.43,1131.2 1154.73,1129.9 1155.33,1132.0 1155.63,1132.3 1155.93,1132.3 1156.23,1129.7 1156.53,1130.1 1156.83,1125.1 1157.13,1131.5 1157.43,1132.4 1157.73,1130.8 1158.03,1130.6 1158.33,1132.4 1159.23,1127.2 1159.83,1130.8 1160.13,1130.8 1160.43,1129.5 1160.73,1129.6 1161.33,1130.3 1161.10,1128.7 1161.50,1127.2 1161.90,1128.7 1161.63,1127.1 1161.93,1130.4 1162.23,1127.3 1162.53,1130.9 1162.83,1131.7 1163.13,1131.9 1163.43,1130.2 1163.73,1130.9 1164.03,1132.4 1164.33,1133.0 1164.63,1132.1 1164.93,1130.0 1165.23,1131.9 1165.53,1129.8 1165.83,1132.4 1166.13,1133.7 1166.43,1132.5 1166.73,1133.0 1167.03,1133.3 1167.33,1134.3 1167.63,1130.9 1167.93,1132.8 1168.23,1133.6 1168.53,1132.9 1168.83,1133.8 1169.13,1128.7 1169.43,1132.1 1169.73,1129.5 1170.03,1130.0 1170.33,1130.9 1170.63,1132.6 1170.93,1131.5 1171.23,1128.5 1171.53,1132.3 1171.83,1130.9 1172.13,1126.8 1172.73,1129.9 1173.33,1129.4 1173.63,1130.4 1173.93,1130.8 1174.23,1129.8 1174.53,1129.1 1174.83,1127.5 1175.13,1130.4 1175.43,1131.9 1176.03,1129.9 1176.33,1130.3 1176.63,1130.4 1176.93,1131.4 1177.23,1129.9 1177.53,1131.8 1177.83,1130.4 1178.13,1130.4 1178.43,1129.1 1178.73,1130.2 1179.03,1130.0 1179.33,1130.2 1179.63,1129.0 1179.93,1129.6 1180.23,1128.1 1180.53,1128.4 1180.83,1130.9 1181.13,1128.6 1181.43,1128.2 1181.73,1129.4 1182.03,1128.5 1182.33,1130.6 1182.63,1128.6 1182.93,1129.3 1183.23,1128.8 1183.53,1130.1 1183.83,1129.5 1184.13,1131.9 1184.43,1129.3 1184.73,1130.5 1185.03,1130.9 1185.33,1129.3 1185.63,1129.8 1185.93,1129.5 1186.23,1128.7 1186.53,1130.3 1186.83,1127.7 1187.13,1128.9 1187.43,1129.0 1187.73,1130.1 1188.03,1129.7 1188.33,1130.6 1188.63,1130.7 1189.23,1128.0 1189.53,1128.9 1189.83,1127.2 1190.43,1126.7 1190.73,1127.4 1191.03,1127.8 1191.63,1124.6 1191.93,1125.5 1192.23,1125.6 1192.53,1123.6 1192.83,1124.2 1193.13,1123.3 1193.43,1123.1 1193.73,1123.4 1194.03,1123.2 1193.72,1122.7 1194.12,1086.6 1194.53,1122.7 1194.33,1122.2 1194.63,1123.1 1194.93,1122.4 1195.23,1123.5 1195.53,1124.1 1195.83,1123.9 1196.13,1123.3 1196.73,1125.5 1197.03,1126.2 1197.33,1126.5 1197.63,1126.6 1197.93,1126.8 1198.23,1124.6 1198.53,1125.5 1198.83,1123.5 1199.13,1125.2 1199.43,1124.1 1199.73,1122.1 1200.03,1123.1 1200.33,1123.0 1200.63,1121.1 1200.93,1121.6 1201.23,1121.7 1201.53,1122.2 1201.83,1120.0 1202.13,1121.4 1202.43,1119.1 1202.73,1119.0 1203.03,1120.5 1203.33,1119.8 1203.63,1118.3 1203.93,1119.9 1204.23,1118.9 1204.83,1117.7 1205.13,1115.7 1205.43,1117.6 1205.73,1118.1 1206.03,1117.1 1206.33,1117.6 1206.63,1116.7 1206.93,1117.7 1207.23,1114.1 1207.53,1116.6 1207.83,1115.3 1208.13,1116.0 1208.73,1116.4 1209.03,1115.9 1209.33,1116.1 1209.63,1114.1 1209.93,1114.8 1210.23,1112.5 1210.53,1114.1 1210.83,1112.0 1211.13,1113.7 1212.03,1110.8 1212.33,1110.9 1212.93,1108.6 1213.23,1109.6 1213.53,1108.1 1213.83,1108.7 1214.13,1107.1 1214.43,1106.5 1214.73,1108.9 1215.03,1107.2 1215.33,1107.3 1215.63,1105.7 1215.93,1105.5 1216.23,1105.1 1216.53,1106.3 1216.83,1104.8 1217.13,1104.0 1217.73,1103.1 1218.03,1103.4 1218.33,1102.1 1218.63,1101.6 1218.93,1102.1 1219.53,1100.7 1219.83,1101.1 1220.13,1099.0 1220.43,1097.6 1220.73,1096.7 1221.03,1097.5 1221.33,1097.2 1221.63,1097.4 1221.93,1095.0 1222.23,1094.6 1222.10,1094.8 1222.50,1059.1 1222.90,1094.8 1222.53,1095.1 1222.83,1094.6 1223.13,1093.2 1223.43,1093.7 1223.73,1094.0 1224.03,1093.1 1224.33,1095.1 1224.93,1092.3 1224.60,1092.5 1225,1057.9 1225.40,1092.5 1225.23,1092.7 1225.53,1091.6 1225.83,1094.4 1226.13,1092.4 1226.43,1092.2 1226.73,1093.0 1227.03,1092.0 1227.33,1091.6 1227.63,1091.8 1227.93,1092.2 1228.23,1091.7 1228.53,1089.3 1228.83,1088.6 1229.13,1089.8 1229.43,1088.6 1229.73,1088.0 1230.03,1088.7 1230.63,1086.5 1230.93,1086.9 1231.23,1085.3 1231.53,1085.2 1231.83,1086.8 1232.13,1084.8 1232.43,1085.1 1232.73,1084.2 1233.03,1083.8 1233.33,1082.9 1233.63,1082.6 1233.35,1083.4 1233.75,1079.1 1234.15,1083.4 1233.93,1084.2 1234.23,1084.7 1234.53,1083.2 1234.83,1082.8 1235.13,1082.0 1235.43,1083.0 1236.03,1086.3 1236.63,1083.6 1236.93,1083.2 1237.53,1079.6 1237.83,1078.4 1238.13,1077.9 1238.43,1076.7 1238.73,1074.1 1239.03,1074.0 1239.33,1075.7 1239.22,1075.5 1239.62,1041.6 1240.03,1075.5 1239.63,1075.4 1239.93,1074.8 1240.23,1073.5 1240.53,1072.7 1240.83,1072.7 1241.13,1072.6 1241.43,1071.6 1241.73,1072.6 1242.33,1069.2 1242.63,1071.3 1242.93,1071.2 1243.23,1070.0 1243.53,1070.7 1243.83,1070.4 1244.13,1066.3 1244.43,1067.7 1244.73,1065.4 1245.03,1066.0 1245.33,1064.6 1245.63,1064.1 1246.23,1058.7 1246.53,1057.3 1246.83,1057.0 1247.43,1052.9 1247.73,1053.3 1248.03,1052.6 1248.33,1053.4 1248.63,1052.0 1248.93,1051.1 1249.23,1051.1 1249.53,1049.8 1249.83,1050.3 1250.13,1049.0 1250.73,1050.9 1251.03,1050.1 1251.33,1050.6 1251.63,1051.5 1251.93,1053.8 1252.23,1053.7 1252.10,1053.6 1252.50,1028.5 1252.90,1053.6 1252.53,1053.5 1252.83,1054.1 1253.13,1053.8 1253.43,1052.5 1253.73,1051.9 1254.03,1053.7 1254.33,1052.0 1254.63,1052.9 1254.93,1051.0 1255.23,1051.8 1255.53,1050.4 1255.83,1051.5 1256.13,1051.1 1256.43,1050.4 1256.73,1050.2 1257.03,1048.7 1257.33,1049.0 1257.63,1048.9 1257.93,1047.7 1258.23,1048.9 1258.53,1048.7 1258.83,1048.8 1259.13,1048.2 1259.43,1048.4 1259.73,1048.8 1260.03,1048.5 1260.33,1048.6 1260.63,1046.7 1260.93,1048.3 1261.23,1046.6 1261.53,1047.8 1261.83,1045.4 1262.43,1046.2 1262.73,1046.0 1263.03,1045.0 1263.33,1044.4 1263.63,1045.3 1263.93,1045.2 1264.23,1043.2 1264.53,1042.4 1264.83,1042.4 1265.13,1042.3 1265.43,1040.5 1265.73,1040.6 1266.03,1041.4 1266.33,1039.7 1266.63,1039.2 1266.93,1040.6 1267.23,1039.8 1267.53,1039.7 1267.83,1037.8 1268.43,1036.2 1269.03,1033.7 1269.33,1034.7 1269.63,1033.5 1269.93,1034.1 1270.23,1034.0 1270.53,1031.7 1270.83,1031.5 1271.13,1032.5 1271.43,1033.2 1271.22,1033.1 1271.62,1003.2 1272.03,1033.1 1271.73,1033.0 1272.03,1030.9 1272.33,1031.2 1272.63,1032.3 1272.93,1030.8 1273.23,1030.9 1273.53,1033.1 1273.83,1031.7 1274.13,1031.6 1274.43,1034.2 1274.73,1032.8 1275.03,1033.1 1275.63,1033.9 1276.23,1032.2 1276.53,1032.0 1277.13,1031.2 1277.43,1029.2 1277.73,1030.5 1278.03,1028.8 1278.63,1026.8 1278.93,1025.4 1279.23,1024.8 1279.53,1023.6 1279.83,1023.1 1280.13,1023.3 1280.43,1020.1 1280.73,1020.9 1281.03,1020.6 1281.33,1017.8 1281.93,1015.7 1282.23,1014.9 1282.53,1012.8 1283.13,1011.0 1283.43,1011.2 1283.73,1012.4 1284.03,1011.0 1284.33,1012.3 1284.63,1012.4 1284.93,1012.0 1285.23,1012.2 1285.53,1011.5 1285.83,1011.8 1286.13,1012.8 1286.43,1012.8 1286.73,1012.6 1287.03,1013.3 1287.33,1011.4 1287.93,1009.1 1288.23,1009.4 1288.53,1009.0 1288.83,1008.9 1289.13,1007.7 1289.43,1010.2 1289.73,1007.8 1290.03,1009.3 1290.33,1008.1 1290.63,1007.9 1290.93,1006.6 1291.23,1009.3 1291.53,1009.5 1291.83,1009.1 1292.13,1009.1 1292.43,1008.4 1292.73,1009.5 1293.03,1009.4 1293.33,1008.7 1293,1009.3 1293.10,1006.7 1293.50,981.4 1293.90,1006.7 1293.50,1004.0 1294,1009.3 1293.63,1009.9 1293.93,1010.5 1294.23,1010.2 1294.53,1012.4 1294.83,1010.9 1295.13,1013.7 1295.43,1013.2 1295.73,1011.9 1296.03,1013.7 1296.22,1013.5 1296.62,984.1 1297.03,1013.5 1296.63,1013.6 1297.53,1011.0 1297.83,1012.7 1298.43,1011.5 1298.73,1013.4 1299.33,1010.0 1299.63,1010.9 1299.93,1011.2 1300.23,1009.5 1300.53,1010.4 1300.83,1009.7 1301.13,1008.6 1301.43,1009.9 1301.73,1009.8 1302.03,1007.0 1302.33,1009.2 1302.63,1008.2 1302.93,1008.1 1303.23,1006.8 1303.53,1007.1 1303.83,1009.2 1304.43,1007.9 1304.73,1008.2 1305.03,1007.6 1305.33,1008.3 1305.63,1007.8 1305.93,1008.8 1306.23,1007.8 1306.53,1009.0 1306.83,1009.6 1307.13,1008.8 1307.43,1009.3 1307.73,1009.5 1308.03,1009.0 1307.72,1008.7 1308.12,994.1 1308.53,1008.7 1308.33,1008.4 1308.63,1010.5 1308.93,1009.7 1309.23,1009.4 1309.53,1010.6 1309.83,1008.9 1309.97,1009.0 1310.38,983.8 1310.78,1009.0 1310.43,1008.9 1310.73,1008.6 1311.03,1009.3 1311.33,1008.8 1311.63,1010.4 1311.93,1008.7 1312.23,1010.2 1312.53,1008.5 1312.83,1008.9 1313.13,1009.2 1313.43,1008.4 1313.73,1009.6 1314.03,1008.1 1314.33,1007.5 1314.63,1008.0 1314.93,1006.3 1315.23,1006.9 1315.53,1006.7 1315.83,1005.9 1316.13,1005.9 1316.43,1003.9 1316.73,1004.7 1317.03,1003.0 1317.33,1002.1 1317.63,1003.3 1317.93,1005.0 1318.10,1003.7 1318.50,977.0 1318.90,1003.7 1318.53,1004.8 1318.83,1002.2 1319.13,1003.7 1319.43,1003.0 1319.73,1001.9 1320.03,1000.1 1320.33,1002.1 1320.93,1001.3 1321.23,1001.3 1321.53,999.5 1321.83,1001.4 1322.43,998.5 1322.73,1000.5 1323.03,998.5 1323.63,998.4 1323.93,996.7 1324.23,996.4 1324.53,996.6 1324.83,995.5 1325.13,995.9 1325.43,996.9 1325.73,994.5 1326.03,995.1 1326.33,994.3 1326.63,995.1 1326.93,993.1 1327.23,992.8 1327.53,993.3 1327.83,995.1 1327.47,993.9 1327.88,967.2 1328.28,993.9 1328.13,992.8 1328.43,992.2 1328.73,992.9 1329.03,994.3 1329.33,994.6 1329.63,993.9 1329.93,994.2 1330.23,992.5 1330.53,993.4 1330.83,992.4 1330.47,992.0 1330.88,967.0 1331.28,992.0 1331.13,991.5 1331.43,992.3 1331.73,991.8 1332.03,990.1 1332.33,990.1 1332.63,988.0 1332.93,988.7 1333.23,990.5 1333.53,988.5 1333.83,988.6 1334.13,990.2 1334.43,987.4 1334.22,988.0 1334.62,962.9 1335.03,988.0 1334.73,988.6 1335.03,989.7 1335.33,988.7 1335.63,988.3 1335.93,987.6 1336.23,988.0 1336.53,986.6 1336.83,987.0 1337.13,986.1 1337.43,985.7 1337.73,986.1 1338.03,984.3 1338.33,983.4 1338.63,983.6 1338.93,983.4 1338.60,983.2 1339,957.2 1339.40,983.2 1339.23,982.9 1339.53,981.5 1339.83,983.2 1340.13,981.0 1340.43,980.7 1340.73,982.8 1341.03,983.0 1341.33,981.4 1341.63,980.8 1341.47,981.6 1341.88,957.2 1342.28,981.6 1341.93,982.4 1342.23,980.0 1342.53,980.8 1342.83,980.4 1343.13,981.2 1342.97,981.1 1343.38,932.2 1343.78,981.1 1343.43,981.0 1343.73,980.1 1344.03,981.5 1344.33,981.2 1344.63,980.5 1344.93,980.2 1345.23,980.4 1345.53,979.4 1345.83,980.1 1346.43,980.1 1347.03,977.2 1347.33,976.7 1347.93,977.5 1347.72,977.6 1348.12,952.0 1348.53,977.6 1348.23,977.7 1348.53,978.3 1348.83,980.5 1349.43,980.0 1349.73,981.2 1350.03,979.8 1350.63,982.0 1350.93,981.5 1351.23,981.6 1351.53,982.6 1351.83,983.1 1352.13,980.7 1352.43,979.9 1352.73,979.4 1353.03,978.4 1353.33,978.9 1353.63,978.4 1354.23,975.4 1354.53,974.5 1354.83,975.4 1355.13,974.7 1355.43,975.4 1355.73,973.8 1356.03,974.1 1356.33,974.0 1356.22,974.5 1356.62,961.0 1357.03,974.5 1356.63,974.9 1357.53,973.5 1357.83,973.4 1358.13,970.9 1358.43,972.5 1358.73,971.0 1359.03,971.9 1359.33,970.9 1359.63,970.6 1359.93,968.6 1360.23,971.3 1360.53,969.3 1360.83,969.0 1361.13,968.2 1361.43,968.9 1361.73,966.8 1362.03,969.4 1362.33,968.7 1362.63,968.1 1362.93,969.2 1363.23,968.4 1363.53,968.3 1363.83,967.5 1364.13,968.5 1364.43,967.6 1364.73,968.0 1365.03,969.4 1365.63,968.8 1365.93,970.1 1366.23,968.1 1366.53,969.8 1366.83,966.8 1366.47,966.3 1366.88,941.6 1367.28,966.3 1367.43,966.8 1367.73,963.9 1368.03,963.1 1368.33,964.6 1368.63,964.1 1368.93,964.9 1369.53,962.3 1369.83,963.4 1370.13,962.9 1370.43,963.9 1371.03,961.6 1371.33,961.6 1371.63,961.8 1371.93,961.2 1372.23,961.4 1372.53,961.1 1372.83,959.7 1373.13,960.5 1373.43,960.7 1373.73,958.7 1374.03,958.5 1374.33,960.2 1374.63,959.9 1374.93,960.2 1375.23,960.8 1375.53,959.2 1375.83,958.4 1376.13,959.4 1376.43,958.6 1376.73,959.4 1377.03,959.5 1377.33,958.7 1377.63,958.8 1377.93,958.0 1378.23,957.9 1378.53,956.5 1378.35,957.6 1378.75,934.1 1379.15,957.6 1378.83,958.7 1379.13,957.4 1379.43,958.2 1379.73,958.6 1380.03,959.6 1379.85,959.8 1380.25,933.5 1380.65,959.8 1380.33,960.0 1380.63,959.4 1380.93,962.0 1381.23,960.9 1381.53,960.3 1381.83,960.3 1381.47,960.7 1381.88,932.9 1382.28,960.7 1382.13,961.0 1382.43,960.7 1382.73,960.1 1383.03,960.4 1383.33,957.3 1383.63,959.6 1383.93,958.2 1384.53,956.6 1384.83,957.0 1385.13,955.1 1385.43,956.2 1385.73,954.9 1386.03,955.6 1386.33,953.2 1386.63,954.9 1387.23,953.5 1387.53,955.4 1387.83,955.3 1388.13,953.6 1388.43,954.0 1388.73,955.4 1389.03,954.2 1389.33,953.6 1389.63,953.3 1389.93,953.4 1390.23,954.3 1390.53,954.4 1390.83,953.2 1391.13,952.5 1391.43,952.5 1391.73,951.5 1392.03,953.1 1392.33,952.6 1392.93,954.0 1392.72,953.6 1393.12,926.6 1393.53,953.6 1393.23,953.2 1393.53,952.0 1393.83,952.2 1394.43,951.1 1394.73,954.4 1395.33,951.9 1395.63,953.9 1395.93,951.6 1396.23,953.1 1396.53,953.4 1396.83,952.8 1397.13,952.9 1397.43,953.9 1397.73,952.9 1398.03,954.2 1398.33,951.8 1398.93,954.2 1399.23,951.2 1399.53,950.5 1399.83,950.6 1400.13,949.4 1400.73,949.1 1401.03,948.0 1400.85,948.1 1401.25,928.5 1401.65,948.1 1401.33,948.1 1401.93,954.6 1402.23,954.9 1402.53,953.2 1402.83,953.2 1403.13,952.4 1403.43,953.0 1403.73,952.8 1404.33,951.2 1404.63,951.2 1404.93,952.0 1405.23,950.9 1405.53,951.9 1405.83,950.7 1406.13,950.5 1406.43,951.6 1406.73,950.3 1407.03,951.8 1407.33,949.0 1407.63,950.7 1407.93,950.1 1408.23,950.2 1408.53,950.6 1408.35,949.7 1408.75,926.6 1409.15,949.7 1408.83,948.7 1409.13,952.0 1409.43,949.9 1409.73,952.4 1410.03,951.3 1410.33,951.0 1410.63,949.8 1410.47,951.3 1410.88,925.8 1411.28,951.3 1410.93,952.7 1411.23,952.0 1411.53,952.7 1411.83,950.7 1412.13,950.7 1412.73,953.0 1413.33,954.0 1413.63,952.5 1413.93,951.9 1414.23,953.1 1414.53,951.2 1414.83,951.5 1415.13,952.8 1415.43,950.3 1415.73,950.5 1416.33,949.2 1416.93,948.8 1417.23,948.7 1417.53,950.2 1417.83,950.0 1418.13,948.8 1418.43,951.1 1418.73,950.3 1418.35,950.3 1418.75,936.6 1419.15,950.3 1419.03,950.4 1419.33,950.2 1419.63,951.7 1419.93,951.4 1420.23,950.6 1420.53,950.4 1420.83,951.8 1421.13,950.3 1421.43,950.1 1421.73,952.2 1422.03,950.2 1422.33,950.2 1422.10,950.0 1422.50,925.4 1422.90,950.0 1422.63,949.8 1422.93,949.8 1423.23,949.2 1423.53,950.7 1423.83,950.5 1424.13,949.7 1424.43,950.5 1424.73,952.1 1425.03,951.1 1425.33,951.1 1425.63,950.7 1425.93,950.8 1426.23,951.9 1425.85,952.0 1426.25,925.4 1426.65,952.0 1426.53,952.1 1426.83,951.4 1427.13,951.9 1427.43,950.4 1427.22,950.5 1427.62,925.2 1428.03,950.5 1427.73,950.7 1428.33,951.7 1428.63,950.3 1428.93,951.3 1428.60,950.5 1429,925.4 1429.40,950.5 1429.53,951.3 1429.83,951.3 1430.13,950.0 1430.43,950.7 1430.73,951.1 1431.03,950.0 1431.33,950.4 1431.63,950.4 1431.93,951.3 1432.23,951.7 1432.10,951.0 1432.50,927.9 1432.90,951.0 1432.53,950.3 1432.83,950.6 1433.13,951.8 1433.43,950.9 1434.03,951.9 1433.72,951.5 1434.12,936.0 1434.53,951.5 1434.33,951.0 1434.63,951.6 1434.93,950.6 1435.23,950.1 1435.53,949.4 1435.83,947.9 1436.13,949.1 1436.43,947.7 1436.73,949.6 1437.03,949.3 1437.33,948.8 1437.63,949.1 1437.35,949.3 1437.75,925.0 1438.15,949.3 1437.93,949.6 1438.23,946.5 1438.53,948.3 1438.83,949.6 1439.13,949.2 1439.43,949.8 1439.73,951.3 1440.03,951.2 1440.33,949.3 1440.63,951.1 1440.93,948.8 1441.23,949.2 1441.53,949.0 1441.83,946.8 1442.13,949.1 1442.43,947.8 1442.73,947.6 1443.03,948.2 1443.33,947.6 1443.63,948.6 1443.93,948.8 1444.23,946.8 1444.53,947.9 1444.83,949.8 1445.13,948.5 1445.43,950.0 1445.73,949.7 1446.03,950.7 1446.33,948.6 1446.63,949.4 1446.93,948.6 1447.53,947.3 1447.83,947.5 1447.47,947.8 1447.88,924.5 1448.28,947.8 1448.13,948.1 1448.43,948.4 1448.73,947.9 1449.03,949.8 1449.33,949.0 1449.63,948.8 1449.93,950.1 1450.23,948.5 1450.53,950.5 1450.83,949.4 1450.47,949.6 1450.88,928.5 1451.28,949.6 1451.13,949.8 1451.43,949.8 1451.73,950.2 1452.03,949.3 1452.33,949.5 1452.63,950.2 1452.93,949.5 1453.23,949.9 1453.53,949.9 1454.13,949.5 1454.43,949.5 1454.73,949.8 1454.60,949.5 1455,926.6 1455.40,949.5 1455.03,949.2 1455.33,948.8 1455.63,951.4 1455.93,948.8 1456.23,949.1 1456.53,948.1 1456.83,948.0 1457.13,947.1 1457.43,947.4 1457.73,946.7 1458.03,946.8 1458.33,945.7 1458.63,947.5 1458.93,946.6 1459.23,946.8 1459.53,947.2 1459.83,947.1 1459.50,947.1 1459.35,939.3 1459.75,920.8 1460,931.5 1460.50,947.1 1460.13,947.0 1460.43,948.0 1461.03,944.9 1461.33,945.8 1461.63,943.8 1461.93,945.0 1462.23,945.7 1462.53,945.5 1462.83,942.9 1463.13,943.7 1463.43,942.7 1463.73,944.2 1463.35,944.8 1463.75,921.2 1464.15,944.8 1464.33,944.1 1464.63,946.1 1464.93,945.4 1465.23,947.6 1465.53,945.3 1465.83,945.4 1466.13,947.4 1466.73,947.1 1467.03,946.0 1467.33,946.8 1467.63,946.3 1467.93,948.0 1467.72,947.6 1468.12,932.2 1468.53,947.6 1468.23,947.3 1468.53,946.3 1468.83,946.2 1469.13,945.8 1469.43,946.5 1470.33,947.9 1470.63,946.7 1470.93,948.1 1471.23,945.6 1470.85,946.3 1471.25,932.9 1471.65,946.3 1471.53,947.0 1471.83,947.4 1472.13,946.4 1472.73,947.1 1473.03,945.9 1473.33,946.3 1472.97,946.6 1473.38,921.6 1473.78,946.6 1473.63,946.9 1473.93,944.9 1474.23,946.6 1474.83,944.3 1474.60,944.9 1475,941.0 1475.40,944.9 1475.13,945.6 1475.43,945.8 1475.73,945.0 1476.03,945.4 1476.33,945.4 1476.63,945.0 1476.93,945.0 1477.23,945.5 1477.53,945.3 1477.83,944.7 1478.13,943.1 1478.43,943.5 1478.73,944.1 1478.35,944.7 1478.75,922.9 1479.15,944.7 1479.03,945.3 1479.33,944.7 1479.63,945.6 1479.93,944.5 1480.23,944.7 1480.53,944.4 1480.83,945.9 1481.13,944.2 1481.43,945.8 1482.03,945.7 1482.33,947.2 1482.93,947.4 1483.23,947.1 1483.53,946.5 1483.83,946.8 1484.13,946.0 1485.03,949.3 1485.33,947.4 1485.63,949.4 1485.93,950.0 1486.23,949.5 1486.53,950.0 1486.83,948.7 1487.13,948.5 1487.43,949.1 1487.10,949.5 1487.50,924.1 1487.90,949.5 1487.73,949.8 1488.33,949.2 1488.63,949.6 1488.93,948.1 1489.23,949.3 1489.53,947.0 1489.83,949.6 1490.13,949.4 1490.43,950.0 1490.73,947.3 1491.03,947.5 1491.63,946.5 1491.93,945.7 1492.23,948.0 1492.10,947.5 1492.50,924.1 1492.90,947.5 1492.53,947.0 1492.83,946.2 1493.13,944.1 1493.73,945.4 1494.03,943.1 1494.33,942.8 1494.63,940.4 1494.93,941.3 1495.23,939.6 1495.53,938.9 1495.22,939.1 1495.62,917.2 1496.03,939.1 1495.83,939.2 1496.13,939.3 1496.43,940.7 1496.73,940.6 1497.03,941.0 1497.33,941.1 1497.63,941.5 1497.93,943.4 1498.23,943.9 1498.53,943.2 1498.83,943.5 1499.13,943.5 1498.88,943.9 1499.38,920.4 1499.78,937.7 1499.38,931.5 1499.88,943.9 1499.43,944.4 1499.73,945.6 1500.03,945.0 1500.33,944.7 1500.63,946.3 1500.93,945.9 1500.60,944.8 1501,920.0 1501.40,944.8 1501.23,943.7 1501.83,945.9 1502.13,945.1 1502.43,944.6 1502.10,944.7 1502.50,919.5 1502.90,944.7 1502.73,944.9 1503.03,943.5 1503.33,943.3 1503.63,944.0 1503.35,944.1 1503.75,919.8 1504.15,944.1 1503.93,944.1 1504.23,945.2 1504.53,943.7 1504.83,943.9 1505.13,944.5 1504.97,943.4 1505.38,923.5 1505.78,943.4 1505.43,942.2 1506.33,941.1 1506.63,940.4 1506.93,940.3 1507.23,938.1 1507.53,937.4 1507.83,937.8 1507.47,936.9 1507.88,915.0 1508.28,936.9 1508.13,936.0 1508.43,938.4 1508.73,936.4 1509.03,936.5 1509.33,937.3 1509.63,936.9 1509.93,937.0 1510.23,936.4 1510.53,935.3 1510.83,936.1 1511.13,935.5 1511.43,934.3 1512.03,935.4 1512.33,933.4 1512.93,932.5 1513.23,933.1 1512.97,931.7 1513.38,908.8 1513.78,931.7 1513.53,930.4 1513.83,932.0 1514.43,931.4 1514.73,930.7 1515.03,931.2 1515.33,932.9 1515.63,931.5 1515.93,930.9 1515.60,931.4 1516,918.5 1516.40,931.4 1516.23,931.9 1516.53,930.1 1516.83,932.0 1517.13,931.0 1517.43,933.0 1517.73,932.8 1518.03,931.5 1518.33,931.3 1518.63,930.7 1518.93,931.4 1519.23,931.6 1519.53,929.9 1519.83,929.8 1520.13,931.4 1520.43,930.5 1520.22,930.6 1520.62,907.9 1521.03,930.6 1520.73,930.7 1521.63,926.7 1522.23,925.7 1521.85,925.2 1522.25,907.2 1522.65,925.2 1522.53,924.6 1522.83,921.8 1523.13,921.1 1523.43,921.5 1523.73,920.8 1523.35,921.0 1523.75,901.0 1524.15,921.0 1524.03,921.2 1524.33,922.9 1524.93,924.6 1525.23,923.5 1524.85,924.1 1525.25,902.9 1525.65,924.1 1525.53,924.6 1525.83,924.0 1526.13,923.7 1526.43,924.8 1526.73,922.7 1526.47,922.5 1526.88,906.0 1527.28,922.5 1527.03,922.2 1527.33,925.6 1527.63,924.0 1527.93,924.7 1528.23,924.0 1529.13,922.6 1529.43,924.2 1529.73,922.9 1529.60,923.1 1530,912.9 1530.40,923.1 1530.03,923.3 1530.33,923.3 1530.63,922.7 1530.93,922.6 1531.23,923.4 1531.53,922.1 1531.83,921.8 1532.13,921.2 1532.43,922.2 1532.73,921.8 1533.03,920.2 1533.33,920.8 1533.93,919.9 1533.60,919.6 1534,896.0 1534.40,919.6 1534.23,919.3 1534.53,921.4 1534.83,920.2 1535.13,917.9 1535.43,920.3 1535.73,920.7 1536.03,919.3 1536.33,919.0 1536.63,919.3 1536.93,920.0 1537.23,918.9 1537.53,919.8 1537.83,918.4 1537.47,919.5 1537.88,896.0 1538.28,919.5 1538.13,920.6 1538.43,918.9 1539.33,920.9 1539.63,919.6 1539.93,919.7 1540.23,921.3 1540.53,919.3 1540.83,918.8 1541.13,918.8 1541.43,919.4 1541.73,919.1 1542.03,919.1 1542.63,917.3 1542.93,917.7 1543.23,918.4 1542.97,918.5 1543.38,896.0 1543.78,918.5 1543.53,918.7 1543.83,920.4 1544.13,920.7 1544.43,921.8 1544.73,920.0 1545.03,920.1 1545.22,919.9 1545.62,904.8 1546.03,919.9 1545.63,920.0 1545.93,920.0 1546.53,916.8 1546.83,919.5 1547.13,917.0 1547.43,918.7 1547.73,918.7 1548.03,918.9 1548.33,917.4 1548.63,918.4 1548.93,918.6 1549.23,918.6 1549.53,918.9 1549.83,917.0 1549.60,917.2 1550,894.8 1550.40,917.2 1550.13,917.4 1550.73,917.6 1551.03,918.4 1551.33,918.1 1551.10,917.8 1551.50,892.9 1551.90,917.8 1551.63,917.5 1551.93,918.7 1552.23,917.7 1552.53,916.3 1552.35,917.3 1552.75,892.0 1553.15,917.3 1552.83,918.3 1553.13,916.2 1553.43,916.3 1553.73,917.0 1553.60,917.0 1554,894.8 1554.40,917.0 1554.03,917.0 1554.33,917.3 1554.63,917.4 1554.93,916.8 1554.60,916.9 1555,897.2 1555.40,916.9 1555.23,916.9 1555.53,918.1 1556.43,917.0 1556.73,917.7 1557.03,916.9 1557.33,916.7 1557.63,918.6 1557.93,918.4 1558.23,917.5 1558.53,919.1 1558.83,917.7 1559.13,918.3 1559.43,918.2 1559.73,917.9 1560.03,917.9 1560.22,918.8 1560.62,895.4 1561.03,918.8 1560.63,918.6 1560.93,916.3 1561.23,918.3 1561.53,916.1 1561.83,917.0 1561.47,917.6 1561.88,894.5 1562.28,917.6 1562.43,917.0 1562.73,918.9 1562.35,918.3 1562.75,895.0 1563.15,918.3 1563.03,917.7 1563.33,918.6 1563.63,918.5 1564.23,919.5 1564.53,917.4 1564.83,918.7 1565.13,919.0 1565.43,919.8 1565.73,919.5 1566.33,918.2 1566.63,918.1 1566.93,918.8 1567.23,919.8 1567.53,919.8 1567.83,920.6 1568.13,919.5 1568.43,919.7 1568.73,917.7 1569.03,918.8 1569.33,918.0 1569.63,917.7 1569.93,919.0 1570.23,917.7 1570.53,917.5 1570.83,917.3 1570.47,916.7 1570.88,894.1 1571.28,916.7 1571.13,916.0 1571.43,915.6 1571.73,918.2 1572.03,916.6 1572.33,916.6 1572.63,916.8 1572.93,916.2 1573.23,916.4 1573.53,915.9 1573.83,916.8 1574.13,916.5 1574.43,917.4 1574.73,917.8 1575.03,915.7 1575.33,917.4 1575.63,916.8 1575.93,919.1 1576.23,917.8 1576.53,918.6 1576.83,917.7 1577.13,919.4 1577.43,918.0 1577.73,917.9 1578.03,917.1 1578.33,919.3 1578.63,919.3 1578.93,920.0 1579.23,919.4 1579.53,920.4 1579.83,920.7 1580.13,920.2 1580.43,922.9 1580.73,923.5 1581.03,922.2 1581.93,923.5 1582.23,922.5 1582.83,925.2 1583.13,923.9 1583.43,923.3 1583.73,922.3 1584.03,922.2 1584.33,920.2 1584.63,921.4 1584.93,921.8 1585.23,920.7 1585.53,920.0 1585.83,919.9 1586.13,920.0 1586.73,918.8 1587.03,921.9 1587.33,921.0 1587.63,919.0 1587.93,922.2 1588.23,920.7 1588.53,922.0 1588.83,921.2 1589.13,921.0 1589.43,922.3 1589.73,921.4 1590.03,919.8 1590.33,922.3 1590.63,921.9 1590.93,922.0 1591.23,921.9 1591.83,923.5 1592.43,922.7 1592.73,922.6 1593.03,922.1 1593.33,924.2 1593.63,921.3 1594.23,923.2 1594.83,924.2 1595.13,923.9 1595.43,926.1 1595.73,925.8 1596.03,923.6 1596.33,924.7 1596.63,924.6 1596.93,927.2 1597.23,925.8 1597.53,925.0 1597.83,926.1 1598.13,925.4 1598.43,926.6 1598.73,927.3 1598.35,926.6 1598.75,906.6 1599.15,926.6 1599.03,925.9 1599.33,927.2 1599.63,927.3 1599.93,926.6 1600.23,928.0 1600.53,927.5 1600.83,928.9 1601.13,928.7 1601.43,928.9 1601.73,930.8 1602.03,930.9 1602.33,930.3 1602.63,928.4 1602.93,931.6 1603.23,931.2 1603.53,932.0 1604.13,931.6 1604.43,931.6 1604.73,933.1 1605.03,933.2 1605.33,933.1 1605.63,931.2 1606.23,932.3 1606.53,930.7 1606.83,933.3 1607.13,931.6 1607.43,933.4 1607.73,932.2 1608.03,933.1 1608.33,931.5 1608.63,930.9 1608.93,932.4 1609.23,932.0 1609.53,932.2 1609.83,932.9 1610.13,933.3 1610.43,933.0 1610.73,930.8 1611.03,929.6 1611.33,929.9 1611.63,928.4 1611.93,927.5 1612.23,927.4 1612.53,928.0 1612.83,927.1 1613.13,924.9 1613.43,928.0 1613.73,925.1 1614.03,926.0 1614.33,925.0 1614.63,926.3 1614.93,925.6 1614.60,926.3 1615,898.8 1615.40,926.3 1615.23,927.0 1615.53,927.2 1615.83,928.0 1616.13,930.2 1616.43,928.6 1616.73,930.2 1617.03,931.1 1617.33,933.2 1617.63,933.8 1617.93,933.9 1618.23,935.7 1618.53,936.0 1619.13,935.4 1619.43,938.8 1619.73,937.8 1620.03,937.5 1620.33,938.6 1620.63,939.3 1620.93,938.7 1621.23,940.1 1621.83,939.7 1622.13,941.2 1622.43,940.2 1622.73,941.9 1623.03,941.2 1623.33,941.2 1623.63,942.6 1623.93,941.6 1624.53,943.6 1624.83,942.4 1625.13,942.5 1625.43,943.9 1625.73,944.2 1626.03,941.4 1626.33,943.4 1626.63,943.7 1626.93,942.2 1627.23,943.3 1627.53,942.0 1627.83,941.6 1628.13,941.7 1628.43,942.4 1629.03,940.5 1629.33,940.3 1629.63,940.3 1629.93,937.3 1630.23,939.2 1630.53,938.8 1630.83,936.1 1631.13,936.3 1631.43,936.0 1631.73,935.1 1632.03,936.3 1632.33,935.1 1632.63,934.8 1632.93,935.2 1633.23,936.0 1633.53,935.4 1634.13,936.0 1634.43,938.1 1634.73,937.5 1635.03,936.3 1635.33,938.1 1635.63,936.1 1635.93,938.7 1636.23,939.7 1636.53,940.0 1636.83,940.7 1637.13,940.9 1637.43,940.7 1637.10,941.1 1637.50,918.2 1637.90,941.1 1637.73,941.6 1638.03,942.1 1638.33,941.6 1638.63,943.3 1638.93,942.7 1639.53,945.3 1639.83,945.2 1640.13,945.6 1640.43,943.2 1640.73,943.1 1641.03,944.0 1641.33,942.8 1641.22,943.4 1641.62,919.5 1642.03,943.4 1641.63,944.0 1641.93,943.0 1642.23,943.8 1642.53,943.2 1642.83,944.8 1643.13,944.4 1643.43,943.9 1643.73,942.0 1644.03,943.7 1644.33,942.2 1644.63,941.2 1644.93,942.3 1645.23,942.6 1645.53,940.3 1645.83,941.9 1646.13,940.8 1646.43,940.6 1646.73,940.9 1647.03,940.3 1647.33,940.4 1647.10,941.3 1647.50,916.0 1647.90,941.3 1647.63,942.2 1647.93,939.7 1648.23,942.8 1648.53,941.3 1648.83,943.7 1649.13,942.1 1649.43,944.6 1649.73,942.4 1650.03,945.7 1650.33,944.8 1650.63,945.0 1650.93,945.5 1650.60,946.3 1651,932.2 1651.40,946.3 1651.23,947.1 1651.53,946.6 1651.83,947.7 1652.13,947.8 1652.43,947.3 1652.73,950.1 1653.03,949.1 1653.33,950.0 1653.63,950.4 1653.93,950.6 1654.23,952.1 1654.53,951.3 1654.83,950.9 1655.13,951.4 1655.43,951.3 1655.73,950.8 1656.03,952.9 1656.33,951.4 1656.63,953.3 1656.93,952.6 1657.23,953.4 1657.83,952.2 1658.13,954.0 1658.43,951.4 1658.73,950.5 1658.35,950.9 1658.75,923.5 1659.15,950.9 1659.03,951.2 1659.33,951.6 1659.63,950.1 1660.23,953.7 1660.53,954.7 1660.83,954.3 1661.13,953.0 1661.43,953.0 1661.73,951.8 1662.03,952.2 1662.33,951.3 1662.63,951.4 1662.93,951.4 1663.23,952.5 1663.83,952.0 1664.13,954.1 1664.43,953.5 1664.73,953.4 1665.03,953.9 1665.33,955.5 1665.63,954.8 1665.93,955.3 1666.23,954.7 1666.53,955.3 1667.43,955.1 1667.73,955.9 1668.03,955.2 1668.33,956.9 1668.63,957.2 1668.93,956.0 1669.23,957.2 1669.53,956.4 1669.83,957.4 1669.60,957.4 1670,934.8 1670.40,957.4 1670.13,957.5 1670.43,955.6 1670.73,954.7 1671.03,956.8 1671.33,956.6 1671.93,955.4 1672.23,955.0 1672.53,953.3 1672.83,956.3 1672.72,954.7 1673.12,931.0 1673.53,954.7 1673.13,953.1 1673.43,954.9 1673.73,954.3 1674.03,954.5 1674.33,953.0 1674.63,953.4 1674.93,954.6 1675.23,953.4 1675.53,954.5 1675.83,953.5 1676.13,954.8 1676.43,955.2 1676.73,954.9 1677.03,955.5 1677.33,954.2 1677.63,954.9 1677.93,955.3 1678.23,956.9 1678.53,955.5 1678.83,956.2 1679.13,957.4 1678.97,957.1 1679.38,928.8 1679.78,957.1 1679.43,956.8 1679.73,957.6 1680.03,956.3 1680.33,958.3 1680.63,958.0 1681.23,959.5 1681.53,957.8 1681.83,960.7 1682.13,959.9 1682.43,961.6 1682.73,960.9 1683.03,961.8 1683.33,960.8 1683.63,961.6 1683.93,963.6 1684.23,962.4 1683.97,963.0 1684.38,935.0 1684.78,963.0 1684.53,963.5 1684.83,963.5 1685.13,962.9 1685.43,963.9 1685.73,964.2 1686.03,965.0 1686.33,964.5 1686.63,964.6 1686.93,966.4 1687.23,966.7 1687.83,964.8 1687.97,965.3 1688.38,937.2 1688.78,965.3 1688.43,964.9 1688.73,966.2 1689.03,964.9 1689.33,964.3 1689.63,964.3 1689.93,963.7 1690.23,964.2 1690.53,963.1 1690.83,964.1 1691.13,964.4 1691.43,963.9 1691.73,962.7 1692.03,963.3 1692.63,960.9 1692.93,961.4 1693.23,961.6 1694.13,958.9 1694.73,958.7 1695.03,959.0 1695.33,960.4 1695.63,960.7 1695.93,961.5 1696.23,961.1 1696.53,962.3 1696.83,962.6 1697.13,963.5 1697.43,964.0 1697.73,965.9 1698.03,963.2 1698.33,964.5 1698.63,963.9 1698.93,964.8 1699.23,964.7 1699.53,965.8 1699.83,964.6 1700.13,964.3 1700.43,965.2 1700.73,965.3 1701.03,963.5 1701.33,966.7 1701.63,964.6 1701.93,966.5 1702.23,966.4 1702.53,966.5 1703.13,964.9 1703.43,965.0 1703.73,966.6 1704.03,965.3 1704.33,966.1 1704.63,965.5 1704.93,965.4 1705.23,966.5 1705.53,964.8 1705.83,965.2 1706.13,964.9 1706.43,965.0 1706.73,964.6 1707.03,963.7 1706.85,963.9 1707.25,937.9 1707.65,963.9 1707.93,965.5 1708.53,963.5 1708.83,963.3 1709.13,962.2 1709.43,963.0 1709.73,960.8 1710.03,959.4 1710.33,962.6 1710.63,958.1 1710.93,957.5 1711.23,956.4 1711.53,957.9 1711.83,957.6 1712.13,958.0 1712.43,959.9 1712.73,960.7 1713.03,960.4 1713.33,959.8 1713.63,961.5 1713.35,961.3 1713.75,935.4 1714.15,961.3 1713.93,961.1 1714.23,962.3 1714.53,962.8 1714.83,962.2 1714.60,963.1 1715,935.0 1715.40,963.1 1715.13,964.1 1715.43,963.4 1715.73,963.3 1716.03,962.6 1715.85,963.3 1716.25,935.2 1716.65,963.3 1716.33,964.1 1716.63,962.8 1716.93,963.5 1717.23,962.6 1717.10,962.5 1717.50,935.0 1717.90,962.5 1717.53,962.4 1717.83,962.3 1718.13,961.9 1718.43,962.8 1718.73,964.0 1718.35,963.9 1718.75,935.2 1719.15,963.9 1719.03,963.7 1719.33,962.1 1719.63,962.3 1719.93,964.3 1720.23,963.9 1719.85,963.7 1720.25,934.5 1720.65,963.7 1720.53,963.5 1720.83,963.4 1720.50,963.5 1721,955.2 1721.50,963.5 1721.13,963.6 1721.43,962.2 1721.73,963.7 1721.35,964.8 1721.75,935.4 1722.15,964.8 1722.03,965.9 1722.33,965.6 1722.63,964.2 1722.93,965.2 1722.72,965.1 1723.12,937.2 1723.53,965.1 1723.23,965.0 1723.53,963.9 1723.35,963.7 1723.75,937.9 1724.15,963.7 1723.83,963.4 1724.13,963.5 1724.43,963.9 1724.73,964.6 1725.03,963.5 1725.63,962.7 1725.93,963.7 1726.23,963.8 1726.53,962.5 1726.83,962.0 1727.13,962.1 1727.43,962.0 1727.73,962.2 1728.03,961.7 1728.33,960.1 1728.63,960.3 1728.93,959.7 1729.23,960.3 1728.97,959.4 1729.38,957.9 1729.78,959.4 1729.53,958.6 1729.83,957.8 1730.13,959.2 1730.43,959.3 1731.03,960.4 1731.33,960.3 1731.63,961.5 1731.93,961.0 1732.23,961.4 1732.53,963.2 1732.83,963.0 1733.13,964.5 1733.73,964.0 1734.03,964.0 1734.33,963.3 1734.63,963.9 1734.93,964.1 1735.23,963.4 1735.53,963.3 1735.83,962.2 1736.13,963.7 1736.43,962.9 1736.73,963.0 1737.03,961.0 1737.33,961.2 1737.63,960.3 1737.93,961.6 1738.23,959.8 1738.53,961.2 1738.83,959.3 1739.13,958.0 1739.43,959.0 1739.73,958.9 1739.35,957.9 1739.75,956.6 1740.15,957.9 1740.03,957.0 1740.33,956.9 1740.63,957.5 1740.93,956.8 1741.23,957.1 1741.53,956.4 1741.83,957.9 1742.13,957.5 1742.43,958.8 1742.73,959.1 1743.03,959.9 1743.33,959.5 1743.63,959.3 1743.93,960.4 1743.62,959.5 1744.12,930.8 1744.53,953.6 1744.12,947.8 1744.62,959.5 1744.23,958.6 1744.53,957.2 1745.43,958.3 1745.73,958.4 1746.03,956.5 1746.33,957.7 1746.63,956.4 1746.93,955.9 1747.23,953.9 1747.53,953.7 1747.83,951.5 1748.13,952.5 1748.43,951.3 1748.73,951.4 1749.03,951.1 1749.33,948.9 1749.63,949.6 1749.93,949.1 1750.23,947.4 1750.53,948.4 1750.83,945.7 1751.13,944.5 1751.73,945.6 1752.03,944.1 1752.33,941.8 1752.63,942.2 1752.93,943.0 1753.23,941.0 1753.53,940.9 1753.83,939.7 1754.13,941.4 1754.43,940.7 1754.73,937.9 1755.03,936.9 1755.33,937.8 1755.93,935.6 1756.23,934.8 1756.53,933.6 1756.83,933.6 1757.13,932.7 1756.85,932.4 1757.25,906.0 1757.65,932.4 1757.43,932.1 1757.73,930.4 1758.03,927.8 1757.62,927.1 1758.12,924.0 1758.62,927.1 1758.33,926.4 1758.93,923.8 1759.53,920.1 1759.83,919.0 1760.43,916.2 1760.22,916.1 1760.62,896.0 1761.03,916.1 1760.73,916.0 1761.03,914.3 1761.33,911.9 1761.63,912.2 1762.23,911.4 1762.10,911.7 1762.50,904.8 1762.90,911.7 1762.53,912.1 1762.83,910.5 1763.13,911.6 1763.43,911.2 1763.73,910.6 1764.03,911.0 1764.33,910.7 1764.63,909.7 1764.35,909.5 1764.75,890.8 1765.15,909.5 1764.93,909.2 1765.23,908.1 1765.53,908.1 1765.83,907.9 1766.13,906.4 1766.43,906.7 1766.73,904.1 1767.03,903.8 1767.33,902.2"/>
<polyline stroke="#f00" stroke-width="2.083" points="1768.53,897.9 1770.63,884.5 1772.43,870.3 1774.53,849.4 1774.22,847.9 1774.62,826.6 1775.03,847.9 1774.83,846.4 1777.83,820.1 1790.73,637.2 1811.13,257.8 1815.63,190.1 1820.43,145.2 1822.53,129.9 1824.33,122.1 1825.53,118.6 1827.33,115.7 1827.63,115.4 1830.03,113.7 1864.53,113.0"/>
<polyline stroke="#000" stroke-width="2.083" points="279.63,113.2 311.73,113.2 312.63,113.6 314.43,121.0 316.53,136.9 318.63,164.8 321.63,218.5 330.63,420.5 337.53,528.9 341.13,603.8 343.23,638.9 346.23,700.8 351.93,780.4 354.93,804.4 357.63,831.0 361.23,859.7 361.83,865.0 362.13,866.0 363.33,873.9 363.63,875.0 363.93,877.2 364.23,878.3 364.83,883.4 365.13,884.5 365.43,886.3 366.03,888.8"/>
<polyline stroke="#000" stroke-width="2.45" points="366.03,888.8 366.63,892.7 366.93,893.9 367.23,895.6 367.53,898.2 367.83,897.6 368.73,901.4 369.03,902.3 369.33,902.5 369.63,904.4 369.93,905.2 370.23,906.5 370.53,906.4 370.83,908.6 371.13,909.9 371.43,910.6 371.73,912.3 372.03,913.4 372.33,916.2 372.63,914.0 372.93,916.7 373.23,917.7 373.53,919.9 373.83,920.6 374.13,921.9 374.43,923.9 374.73,922.9 375.33,926.3 375.63,926.4 375.93,928.6 376.23,929.2 376.83,928.8 377.13,932.6 377.43,932.3 377.73,932.9 378.03,933.3 378.33,934.0 378.63,935.5 379.23,935.1 379.53,936.7 379.83,936.5 380.13,936.1 380.43,936.4 380.73,938.7 381.03,938.6 381.33,940.2 381.63,938.4 381.93,938.6 382.53,941.3 382.83,940.9 383.13,941.2 383.43,942.9 383.73,940.9 384.03,940.8 385.23,944.3 385.53,944.2 385.83,945.5 386.13,943.8 386.43,946.6 386.73,944.6 387.03,946.7 387.33,945.2 387.63,946.7 387.93,946.7 388.53,947.8 388.83,947.2 389.43,948.2 389.73,947.0 390.03,947.8 390.33,947.3 390.93,951.3 391.53,949.0 391.83,949.4 392.13,951.2 392.73,949.3 393.03,950.1 393.63,950.6 393.93,952.3 394.23,952.0 394.53,950.8 394.83,951.9 395.13,951.6 395.43,951.7 395.73,951.7 396.03,954.8 396.33,953.2 396.63,954.2 396.93,954.7 397.23,953.8 397.53,954.9 397.83,955.1 398.13,955.0 398.43,957.0 398.73,955.6 399.03,955.3 399.63,957.6 399.93,957.1 400.23,956.0 400.53,956.0 400.83,956.2 401.13,956.8 401.43,958.0 401.73,958.7 402.03,956.3 402.33,958.9 402.63,958.4 402.93,960.5 403.23,961.2 403.53,960.2 403.83,960.9 404.13,960.8 404.43,962.4 404.73,960.9 405.33,962.5 405.63,964.5 405.93,966.0 406.23,964.2 406.53,963.4 406.83,964.9 407.13,964.4 407.43,966.0 407.73,964.6 408.03,965.2 408.33,965.5 408.63,965.9 408.93,965.4 409.23,966.5 409.53,965.4 409.83,963.7 409.50,964.9 410,955.0 410.50,964.9 410.13,966.1 410.43,964.9 410.73,964.6 411.03,966.5 411.33,964.2 411.63,965.1 411.93,964.4 412.23,966.5 412.53,965.2 412.83,966.0 413.13,964.8 413.43,967.5 413.73,965.5 414.03,967.5 414.63,968.3 414.93,969.1 415.23,966.4 415.53,967.7 415.83,967.3 416.13,967.5 416.43,968.0 417.03,966.1 417.33,966.6 417.63,968.0 417.93,965.5 418.23,966.5 418.53,965.4 418.83,967.4 419.13,965.4 419.43,967.1 420.03,968.5 420.33,971.0 420.63,970.8 420.93,968.8 421.23,972.0 421.53,969.4 421.83,969.1 422.13,969.8 422.43,971.7 422.73,972.4 423.03,970.3 423.33,973.0 423.63,972.7 423.93,973.6 424.23,972.3 424.53,973.2 424.83,972.6 425.13,970.7 425.43,972.7 425.73,971.3 426.03,971.5 426.33,971.9 426.63,970.4 426.93,971.6 427.23,971.5 427.53,971.8 427.83,973.4 428.13,973.9 428.43,975.3 428.73,975.8 429.03,975.1 429.33,974.8 429.63,978.9 429.93,978.3 430.23,976.7 430.53,976.4 431.43,979.5 431.73,979.8 432.03,979.7 432.33,979.5 432.63,980.4 432.93,980.4 433.23,981.2 433.53,981.6 433.83,982.6 434.13,980.9 434.43,982.8 434.73,983.3 435.03,983.0 435.33,984.4 435.63,984.1 436.23,985.5 436.53,986.0 436.83,986.1 437.13,988.0 437.43,987.6 437.73,986.6 438.03,985.1 438.63,981.1 438.93,982.5 439.23,982.4 439.53,982.0 439.83,982.5 440.13,985.6 440.43,985.6 440.73,987.1 441.03,987.6 441.63,989.2 441.93,988.7 442.53,991.7 442.83,991.9 443.13,990.2 443.43,991.0 443.73,991.5 444.33,994.4 444.63,994.0 444.93,992.1 445.23,993.6 445.53,994.2 445.83,993.1 446.13,995.1 446.43,992.8 446.73,994.3 447.03,995.3 447.33,992.0 447.93,993.6 448.23,995.9 448.53,991.4 448.83,993.4 449.13,993.1 449.43,992.5 449.73,992.1 449.50,992.2 450,983.8 450.50,992.2 450.03,992.3 450.33,992.4 450.63,991.5 450.93,994.1 451.23,991.6 451.53,992.2 451.83,991.9 452.13,992.6 452.43,993.7 452.73,993.5 453.03,994.6 453.33,997.0 453.63,997.0 453.93,996.4 454.23,998.0 454.53,997.3 454.83,999.1 455.13,998.5 455.73,1000.8 456.03,1003.6 456.33,1003.6 456.63,1004.8 456.93,1005.1 457.23,1005.1 457.53,1004.9 457.83,1005.1 458.13,1004.3 458.43,1003.1 458.73,1003.1 459.03,1004.9 459.33,1005.2 459.63,1004.5 459.93,1002.7 460.23,1005.7 460.53,1004.6 460.83,1004.4 460.38,1004.5 460.88,997.5 461.38,1004.5 461.13,1004.6 461.43,1004.3 461.73,1006.3 462.03,1006.4 462.33,1004.0 462.93,1005.7 463.23,1006.9 463.53,1003.8 463.83,1007.2 464.13,1008.1 464.43,1006.6 464.73,1007.2 465.03,1008.6 465.33,1007.8 465.63,1006.3 466.23,1006.6 466.53,1006.2 466.83,1007.5 467.13,1007.0 467.73,1008.1 468.03,1009.1 468.63,1005.8 468.93,1008.9 469.23,1007.9 469.53,1009.3 469.83,1008.2 470.13,1009.1 470.43,1009.0 470.73,1009.4 471.03,1010.9 471.33,1009.5 471.63,1010.5 471.93,1010.8 472.23,1010.2 472.53,1008.5 472.83,1010.7 473.13,1007.8 473.73,1009.8 474.03,1010.6 474.33,1010.9 474.63,1010.8 474.93,1010.5 475.23,1010.1 475.53,1012.0 475.83,1011.2 476.13,1013.0 476.43,1010.5 476.73,1012.2 477.33,1014.2 477.63,1012.6 477.93,1016.0 478.23,1016.5 478.53,1016.4 478.83,1015.3 479.13,1017.2 479.43,1015.4 479.73,1016.8 480.03,1016.0 480.33,1016.1 480.93,1016.0 481.23,1016.8 481.53,1016.9 481.83,1016.6 481.38,1016.3 481.88,1000.0 482.38,1016.3 482.13,1015.9 482.73,1015.1 483.03,1016.0 483.33,1014.0 483.63,1013.8 483.93,1014.4 484.23,1012.9 484.53,1014.1 484.83,1014.3 485.13,1013.4 485.43,1013.8 485.73,1015.0 486.03,1014.2 486.33,1014.4 486.63,1015.1 486.93,1013.4 487.23,1012.7 487.53,1013.6 487.83,1013.8 488.13,1011.6 488.43,1013.6 488.73,1012.6 489.03,1012.3 489.33,1011.7 489.63,1012.3 489.93,1013.4 490.23,1013.0 490.53,1013.2 490.83,1012.2 491.13,1013.9 491.43,1013.6 491.73,1012.5 492.03,1010.1 492.63,1014.9 492.93,1012.1 493.23,1010.9 493.53,1013.1 493.83,1010.8 494.13,1011.5 494.43,1011.5 494.73,1009.3 495.03,1010.4 495.33,1011.1 495.12,1010.3 495.62,1000.6 496.12,1010.3 495.63,1009.5 495.93,1010.1 496.23,1009.3 496.83,1010.5 497.13,1007.9 497.73,1009.6 498.03,1008.9 498.33,1008.9 498.63,1009.5 498.93,1009.7 499.23,1009.6 499.53,1010.6 500.13,1011.7 500.43,1012.5 500.73,1013.9 501.03,1012.5 501.33,1014.5 501.93,1016.8 502.23,1015.0 502.53,1018.3 502.83,1015.9 503.13,1017.1 503.73,1018.2 504.03,1016.7 504.33,1017.0 504.63,1017.7 504.25,1017.7 504.75,1003.1 505.25,1017.7 504.93,1017.7 505.23,1017.8 506.13,1015.1 506.43,1017.8 506.73,1014.9 507.03,1016.8 507.33,1016.3 507.63,1016.7 507.93,1016.8 507.62,1017.0 508.12,1003.8 508.62,1017.0 508.23,1017.1 508.53,1015.8 508.83,1016.2 509.13,1014.0 509.43,1015.8 509.73,1014.9 510.03,1015.5 510.33,1016.6 510.63,1015.5 510.93,1016.2 511.23,1014.9 511.53,1015.3 511.83,1014.5 512.13,1012.4 512.43,1013.9 513.03,1014.5 512.62,1014.3 513.12,1003.1 513.62,1014.3 513.33,1014.2 513.63,1014.0 513.93,1014.8 514.23,1014.4 514.53,1013.4 514.83,1014.7 515.13,1012.2 515.43,1013.8 515.73,1014.0 516.03,1015.3 516.33,1013.8 516.63,1013.0 517.23,1015.6 517.53,1013.7 517.83,1013.5 518.13,1013.2 518.43,1013.2 518.73,1014.1 519.03,1014.4 519.33,1012.8 519.63,1012.1 519.93,1013.6 520.23,1011.7 520.53,1011.4 520.83,1010.7 521.13,1010.5 521.43,1010.7 521.73,1009.9 522.03,1010.2 522.33,1009.6 522.63,1009.8 522.93,1008.6 523.23,1008.5 523.53,1008.7 523.83,1008.4 524.13,1008.3 524.43,1009.0 524.73,1006.8 525.03,1005.9 525.33,1008.1 525.63,1007.0 525.93,1008.3 526.23,1006.8 526.53,1005.9 526.83,1009.0 527.13,1007.4 527.43,1006.7 527,1006.6 527.50,1001.9 528,1006.6 527.73,1006.5 528.03,1007.7 528.33,1006.6 528.93,1008.4 529.23,1006.1 529.83,1007.9 530.13,1009.1 530.43,1008.6 530.73,1007.5 531.03,1009.3 531.33,1007.9 531.63,1008.2 531.93,1008.8 532.23,1007.6 532.53,1011.5 532.83,1010.0 533.43,1008.7 533.73,1008.3 534.03,1009.8 534.33,1010.2 533.88,1009.7 534.38,992.5 534.88,1009.7 534.63,1009.2 534.93,1009.5 535.23,1010.3 535.53,1009.8 535.83,1008.2 536.13,1010.6 536.43,1010.4 536.73,1011.1 537.33,1009.2 537.63,1010.3 538.23,1013.9 538.53,1014.4 539.13,1011.6 539.73,1013.9 540.03,1014.2 540.33,1014.2 540.63,1015.6 540.93,1013.9 541.23,1013.0 541.53,1014.5 541.83,1014.5 542.13,1017.8 542.43,1015.8 542.73,1014.9 543.03,1016.9 543.33,1017.4 543.63,1016.7 543.93,1017.0 544.23,1018.0 544.53,1017.7 544.83,1016.8 545.13,1018.1 545.43,1018.6 545.73,1018.2 546.03,1018.8 546.33,1018.7 546.63,1018.1 546.93,1018.3 547.23,1019.2 547.53,1018.2 547.25,1018.9 547.75,993.1 548.25,1018.9 547.83,1019.6 548.13,1019.4 548.43,1016.3 548.73,1017.9 549.03,1017.1 549.33,1017.0 549.63,1017.5 549.93,1017.0 550.23,1017.4 550.53,1017.0 550.83,1016.9 551.13,1015.6 551.43,1015.8 551.73,1017.2 552.03,1013.5 552.33,1017.1 552.63,1014.8 552.93,1016.2 553.23,1012.9 553.53,1015.4 553.83,1017.2 554.13,1017.1 554.43,1018.5 554.73,1017.4 555.03,1018.3 555.33,1018.8 555.63,1020.5 555.93,1021.0 556.83,1021.1 557.13,1021.5 557.43,1020.7 557.73,1021.6 558.03,1021.6 558.33,1021.3 558.63,1021.3 558.93,1022.8 559.23,1020.3 559.83,1020.7 560.43,1018.2 560.73,1018.4 561.03,1015.6 561.33,1015.1 561.63,1015.2 561.93,1014.8 562.23,1015.1 562.53,1017.1 562.83,1017.1 563.13,1015.7 563.43,1016.2 563.73,1015.3 564.03,1016.6 564.33,1015.3 564.63,1017.9 564.93,1016.4 565.23,1017.3 565.53,1015.5 565.83,1017.8 566.13,1017.0 566.43,1018.1 567.03,1014.6 567.33,1015.2 567.63,1014.7 567.93,1017.1 568.23,1015.1 568.53,1015.2 568.83,1016.6 569.13,1016.5 569.43,1016.9 569.73,1016.1 570.03,1015.0 570.33,1015.7 570.63,1015.2 570.93,1018.5 571.23,1018.3 571.53,1017.3 571.83,1018.4 572.43,1018.7 572.73,1018.7 573.03,1019.2 573.33,1018.6 573.63,1016.7 573.93,1016.3 574.23,1020.1 574.53,1019.7 574.83,1017.0 575.13,1019.6 575.43,1018.7 575.73,1019.0 576.03,1017.2 576.33,1020.3 576.63,1019.6 576.93,1020.5 577.53,1021.0 577.83,1021.4 578.13,1020.3 578.43,1020.2 578,1019.8 578.50,1000.6 579,1019.8 578.73,1019.4 579.03,1020.5 579.63,1018.9 579.93,1021.1 580.23,1020.6 580.53,1017.4 580.83,1018.0 581.13,1019.4 581.43,1018.2 581.73,1020.4 582.03,1019.4 582.93,1020.0 583.23,1018.5 583.53,1019.2 583.83,1018.9 584.13,1019.3 583.88,1019.1 584.38,1008.8 584.88,1019.1 584.43,1019.0 584.73,1019.7 585.33,1017.9 585.63,1018.4 585.93,1017.2 586.23,1018.4 585.75,1018.9 586.25,993.8 586.75,1018.9 586.53,1019.5 586.83,1017.5 587.13,1016.5 587.43,1017.8 587.73,1017.4 588.03,1017.8 588.33,1017.2 588,1017.5 588.50,990.0 589,1017.5 588.63,1017.7 588.93,1016.7 589.23,1019.0 589.53,1017.4 589.83,1018.2 590.13,1018.5 590.43,1017.8 590.73,1018.5 591.03,1018.0 591.33,1017.9 591.63,1018.2 591.93,1019.0 592.23,1017.5 592.53,1017.9 592.83,1018.0 593.13,1018.1 593.43,1019.6 593.73,1018.4 594.03,1018.1 594.33,1018.4 594.63,1019.2 594.93,1017.5 595.23,1018.7 595.53,1015.2 595.83,1016.1 596.13,1017.8 596.43,1017.4 596.73,1015.7 597.03,1014.7 597.33,1015.4 597.63,1014.1 597.93,1016.0 598.53,1015.6 598.83,1014.3 599.13,1016.1 599.43,1015.2 599.73,1015.3 600.03,1015.3 600.33,1015.7 600.63,1016.4 600.93,1016.9 601.23,1017.1 601.53,1020.3 601.83,1018.0 602.13,1020.4 602.43,1019.8 602.73,1021.3 603.03,1021.5 603.33,1024.7 603.93,1025.1 604.23,1024.8 604.53,1025.6 604.83,1024.2 605.13,1024.9 605.43,1026.7 605.73,1024.1 606.33,1023.1 606.63,1024.7 606.93,1023.9 607.23,1023.6 607.53,1023.9 607.83,1025.0 608.13,1024.4 608.43,1027.6 608.73,1025.9 609.33,1026.7 609.63,1025.5 610.23,1027.0 610.53,1027.0 610.83,1025.6 611.13,1028.0 611.43,1026.6 611.73,1027.0 612.03,1026.6 612.33,1025.0 612.63,1027.1 613.23,1022.6 613.53,1021.9 613.83,1023.7 614.13,1024.2 614.43,1023.4 614.73,1025.4 615.03,1024.1 615.33,1025.5 615.63,1026.2 615.93,1025.1 616.23,1026.9 616.53,1027.5 616.83,1028.7 617.13,1029.3 617.43,1029.7 617.73,1028.7 618.03,1030.6 618.33,1031.2 618.63,1030.6 618.93,1031.6 619.23,1031.9 619.53,1032.5 619.83,1031.8 620.13,1032.5 620.43,1032.6 620.73,1032.7 621.03,1032.4 621.33,1033.0 621.63,1032.6 622.23,1034.8 622.53,1035.0 622.83,1035.4 623.13,1035.0 623.43,1036.6 623.73,1035.3 624.03,1036.7 624.33,1036.6 624.63,1035.9 624.93,1036.2 625.23,1037.5 625.53,1036.7 625.83,1036.8 626.13,1039.1 626.43,1036.7 626.73,1036.2 627.03,1036.6 627.33,1035.2 627.63,1035.5 627.93,1035.9 628.23,1034.6 628.53,1035.1 628.83,1035.0 629.13,1035.4 629.43,1033.9 629.73,1037.3 629.75,1038.9 630,1042.5 630.25,1038.9 630,1041.2 630.25,1036.6 630.03,1035.8 630.33,1036.6 630.63,1035.4 630.93,1035.3 631.23,1036.7 631.53,1036.6 631.83,1037.7 632.13,1036.5 632.43,1036.6 632.73,1037.6 633.03,1037.5 633.33,1037.3 633.63,1036.0 633.93,1035.9 634.23,1034.5 634.53,1036.0 635.13,1035.1 635.43,1032.2 635.73,1034.1 636.03,1032.2 636.63,1035.2 636.93,1037.7 637.23,1038.3 637.53,1039.7 637.83,1038.9 638.13,1038.6 638.43,1040.0 638.73,1038.4 639.03,1039.6 639.33,1038.5 639.63,1038.1 639.93,1039.3 640.23,1039.0 640.53,1037.1 640.83,1037.7 641.13,1037.6 641.43,1038.0 641.73,1036.5 642.33,1036.6 642.63,1037.1 642.93,1037.0 643.23,1035.5 643.53,1037.3 644.13,1034.5 644.43,1033.7 644.73,1034.6 645,1055.0 645.25,1033.8 645.03,1032.9 645.33,1035.2 645.63,1035.5 645.93,1036.2 646.23,1035.5 646.53,1033.5 647.13,1035.9 647.43,1033.5 648.03,1036.5 648.33,1036.3 648.63,1034.6 648.93,1036.2 649.23,1036.9 649.53,1039.0 649.83,1037.0 650.13,1036.9 650.43,1038.2 651.03,1039.1 651.25,1056.9 651.50,1039.6 651.93,1038.2 652.23,1039.8 652.53,1040.0 652.83,1040.6 653.13,1040.2 653.43,1038.5 653.73,1039.5 654.03,1039.4 654.33,1038.0 654.63,1038.8 654.93,1037.8 655.23,1037.5 655.53,1036.9 655.83,1037.4 656.13,1039.0 656.43,1036.1 656.73,1034.3 657.03,1034.5 657.33,1033.6 657.63,1033.8 657.93,1032.8 658.23,1034.6 658.53,1032.4 658.83,1033.0 659.13,1030.9 659.43,1031.6 659.73,1033.8 660.03,1030.6 660.33,1032.5 660.63,1031.2 660.93,1034.1 661.23,1031.7 661.53,1032.9 661.83,1033.2 662.13,1032.0 662.43,1036.0 662.73,1033.7 663.03,1035.5 663.33,1033.4 663.63,1032.9 663.93,1034.5 664.23,1034.5 664.53,1037.1 664.83,1033.6 665.13,1033.3 665.73,1035.1 666.03,1035.5 666.33,1034.4 666.63,1034.9 666.88,1046.2 667.12,1035.4 666.93,1035.9 667.23,1036.5 667.53,1035.1 667.83,1035.9 668.13,1033.5 668.73,1036.7 669.03,1036.5 669.33,1036.5 669.63,1038.3 669.93,1036.8 670.23,1036.3 670.53,1037.7 670.83,1037.9 671.13,1036.8 671.43,1039.0 671.73,1039.8 672.03,1037.9 672.33,1037.9 672.63,1038.8 672.93,1040.0 673.23,1038.5 673.53,1038.5 673.83,1038.7 674.13,1039.5 674.43,1039.6 674.73,1039.4 675.33,1041.8 675.63,1039.3 675.93,1040.9 676.23,1040.3 676.53,1043.6 676.83,1041.0 677.43,1043.7 677.73,1042.3 678.33,1043.9 678.63,1041.7 679.23,1044.2 679.53,1041.9 679.83,1041.4 680.13,1039.8 680.43,1041.7 680.73,1040.2 681.03,1041.9 681.33,1042.9 681.63,1042.5 681.93,1041.9 682.23,1043.8 682.53,1043.4 682.83,1043.4 683.43,1045.9 683.73,1045.9 684.03,1046.6 684.33,1047.8 684.63,1046.2 684.93,1046.2 685.23,1044.7 685.53,1046.3 685.83,1045.2 686.13,1045.6 686.43,1043.8 686.73,1044.5 687.03,1042.0 687.33,1043.6 687.63,1042.9 687.93,1042.6 688.23,1044.9 688.53,1041.7 688.83,1042.8 689.13,1042.6 689.43,1043.0 689.73,1043.2 690.03,1040.6 690.33,1041.4 690.63,1041.1 690.93,1042.1 691.23,1042.1 691.53,1041.2 691.83,1041.4 692.13,1041.2 692.73,1044.2 693.33,1042.7 693.63,1042.9 694.23,1046.1 694.53,1051.6 695.13,1053.4 695.43,1055.6 695.73,1053.6 696.03,1054.6 696.33,1053.3 696.63,1053.9 696.93,1052.9 697.23,1052.3 697.53,1052.9 698.13,1053.2 698.43,1052.2 698.73,1051.7 699.03,1051.4 699.33,1051.9 699.63,1051.0 699.93,1051.0 700.23,1052.2 700.83,1053.4 701.13,1052.8 701.43,1052.8 701.73,1055.0 702.03,1055.4 702.33,1055.6 702.93,1057.7 703.23,1057.2 703.53,1058.2 703.83,1057.4 704.13,1058.5 704.73,1058.3 705.03,1060.4 705.33,1057.1 705.63,1059.3 705.93,1059.8 706.23,1059.1 706.53,1057.1 706.83,1058.4 707.13,1056.2 707.43,1056.8 707.73,1058.7 708.03,1057.5 708.33,1058.3 708.63,1056.1 708.93,1055.2 709.23,1056.3 709.12,1057.1 709.38,1073.8 709.62,1057.1 709.53,1058.0 709.83,1057.6 710.13,1057.6 710.43,1056.4 710.73,1056.3 711.03,1056.1 711.33,1059.0 711.63,1056.9 711.93,1058.9 712.23,1057.6 712.53,1059.4 712.83,1057.7 713.43,1059.8 713.73,1059.5 714.33,1061.8 714.63,1062.5 714.93,1065.3 715.23,1066.0 715.53,1064.7 715.38,1066.0 715.62,1067.5 715.88,1066.0 715.83,1067.4 716.13,1065.2 716.73,1063.9 717.03,1064.2 717.33,1063.5 717.63,1061.8 717.93,1061.7 718.23,1060.3 718.53,1063.6 718.83,1061.6 719.43,1062.7 720.03,1065.0 720.33,1064.5 720.63,1065.3 720.93,1065.5 721.23,1067.4 721.53,1068.0 721.83,1067.8 722.13,1072.3 722.43,1072.9 722.73,1075.9 723.03,1075.2 722.88,1075.4 723.12,1077.5 723.33,1075.6 723.63,1075.5 723.93,1074.0 724.23,1074.6 724.53,1075.7 724.83,1074.9 725.13,1071.7 725.43,1074.7 725.73,1073.5 726.03,1073.5 726.33,1072.6 726.63,1072.7 726.93,1072.6 727.23,1072.6 727.53,1071.6 727.83,1073.5 728.13,1072.7 728.43,1072.9 728.73,1072.8 729.03,1072.3 729.33,1072.5 729.63,1072.3 729.93,1075.0 730.23,1076.2 730.53,1076.9 730.83,1076.8 731.13,1080.8 731.43,1080.5 731.73,1081.6 732.33,1083.1 732.63,1084.3 732.93,1084.6 733.23,1085.7 733.53,1087.7 733.83,1086.6 734.13,1087.1 734.43,1084.4 734.73,1083.0 735.03,1083.2 735.33,1081.7 735.63,1084.8 735.93,1086.3 736.23,1086.7 736.83,1089.7 737.13,1090.7 737.43,1092.9 737.73,1091.3 738.03,1091.5 738.33,1091.4 738.63,1089.6 738.50,1089.8 738.75,1104.4 739,1089.8 738.93,1089.9 739.23,1090.9 739.53,1090.4 739.83,1087.5 740.13,1090.2 740.43,1089.3 740.73,1089.5 741.03,1088.9 741.33,1089.7 741.63,1088.1 741.93,1089.2 742.23,1088.6 742.53,1089.3 742.83,1090.9 743.13,1091.5 743.43,1090.6 743.73,1090.6 744.03,1092.2 744.33,1092.5 744.63,1094.3 744.93,1093.6 745.23,1089.8 745.53,1090.3 746.13,1086.2 747.03,1091.4 747.33,1095.2 747.93,1096.3 748.23,1096.6 748.53,1098.2 748.83,1096.7 749.13,1099.4 749.43,1098.7 749.73,1100.8 750.03,1101.4 750.63,1100.9 750.93,1102.1 751.23,1102.8 751.53,1101.8 751.83,1103.4 752.13,1103.7 752.43,1106.1 752.73,1106.7 753.03,1104.8 753.33,1105.2 753.63,1104.7 753.93,1106.3 754.23,1107.1 754.53,1108.2 754.83,1105.6 755.13,1107.8 755.43,1106.8 755.73,1106.4 756.03,1106.8 756.33,1106.4 756.63,1107.6 756.93,1107.2 757.23,1108.3 757.83,1105.7 758.13,1106.5 758.43,1107.8 758.73,1106.2 759.03,1107.1 759.33,1108.6 759.63,1107.2 759.93,1109.5 760.23,1109.3 760.53,1108.8 760.83,1109.6 761.13,1109.5 761.43,1109.6 761.73,1109.5 762.03,1109.6 762.33,1109.4 762.63,1108.7 762.93,1108.3 763.23,1110.9 763.53,1107.9 763.83,1108.8 764.13,1110.5 764.43,1110.9 764.73,1109.8 765.03,1112.8 765.33,1113.1 765.38,1112.4 765.62,1121.2 765.88,1112.4 765.63,1111.8 765.93,1111.5 766.23,1113.7 766.53,1113.5 766.83,1113.9 767.13,1114.0 767.43,1114.7 768.03,1117.1 768.33,1114.9 768.63,1115.2 768.93,1118.2 769.23,1116.3 769.53,1117.4 769.83,1116.5 770.13,1117.3 770.43,1116.7 770.73,1115.3 771.03,1115.1 771.63,1115.3 771.93,1113.8 772.23,1112.8 772.53,1114.1 773.13,1113.5 773.43,1112.6 773.73,1113.8 774.03,1111.6 774.33,1112.5 774.63,1113.9 774.93,1111.6 775.23,1112.9 775.38,1112.9 775.62,1125.0 775.83,1112.9 776.13,1111.0 776.43,1113.4 776.73,1112.7 777.33,1113.7 777.63,1114.1 777.93,1115.7 778.23,1116.5 778.53,1114.2 779.13,1116.9 779.43,1115.5 779.73,1118.6 780.03,1116.4 780.33,1117.5 780.93,1116.4 781.23,1115.5 781.53,1115.9 781.83,1116.1 782.13,1116.6 782.43,1115.5 782.73,1115.3 783.03,1115.5 783.33,1117.0 783.93,1115.3 784.23,1114.8 784.53,1115.6 784.83,1115.2 785.13,1115.7 785.43,1117.4 786.03,1116.4 786.33,1116.7 786.63,1118.0 786.93,1115.6 787.23,1117.1 787.53,1116.6 787.83,1117.1 788.13,1117.2 788.43,1116.9 788.73,1117.8 788.50,1116.7 788.75,1126.2 789.03,1115.5 789.33,1117.9 789.63,1118.3 789.93,1117.0 790.23,1117.1 790.53,1119.8 790.83,1117.3 791.13,1117.6 791.43,1117.1 791.73,1117.2 792.03,1117.0 792.33,1115.6 792.63,1119.5 792.93,1116.6 793.23,1117.5 793.53,1116.9 793.83,1117.9 794.13,1116.4 794.43,1115.9 795.03,1113.8 795.33,1112.2 795.63,1112.1 795.93,1110.5 796.23,1113.3 796.53,1113.7 796.83,1114.0 797.13,1113.1 797.43,1116.1 797.73,1114.6 798.03,1115.9 798.33,1113.8 798.63,1115.5 798.93,1115.3 799.23,1115.3 799.53,1115.6 799.75,1117.2 800,1123.1 800.25,1117.2 800.13,1116.5 800.43,1117.0 800.73,1118.8 801.03,1115.8 801.33,1118.6 801.63,1117.1 802.23,1116.6 802.53,1114.9 803.13,1114.5 803.43,1114.5 803.73,1115.2 804.03,1115.0 804.33,1113.3 804.63,1113.4 804.93,1113.0 805.23,1112.0 805.53,1111.9 805.83,1110.7 806.13,1111.3 806.43,1110.2 807.03,1109.7 807.33,1109.2 807.63,1108.3 807.93,1108.0 808.23,1109.4 808.53,1109.3 808.83,1109.6 809.13,1110.3 809.43,1110.1 809.73,1111.4 810.03,1111.7 810.33,1111.1 810.63,1112.9 810.93,1112.3 811.23,1114.4 811.53,1114.9 811.83,1114.9 812.13,1116.3 812.43,1117.0 812.73,1117.0 813.03,1115.3 813.33,1117.4 813.63,1117.9 813.93,1118.8 814.23,1117.5 814.53,1119.4 814.83,1119.5 815.13,1119.8 815.43,1118.5 815.73,1119.1 816.03,1121.0 816.33,1120.9 816.63,1120.3 816.93,1121.5 817.53,1120.5 817.83,1119.7 818.13,1122.2 818.43,1120.9 818.73,1121.1 819,1137.5 819.25,1120.1 819.03,1119.0 819.33,1120.0 819.63,1120.5 820.53,1118.2 820.83,1118.9 821.13,1117.9 821.73,1117.0 822.03,1116.2 822.33,1116.0 822.63,1115.2 822.93,1115.3 823.23,1114.1 823.53,1115.2 823.83,1117.1 824.43,1118.8 824.73,1120.2 825.03,1118.8 825.33,1118.8 826.23,1116.2 826.53,1114.9 826.83,1115.0 827.13,1113.9 827.43,1114.7 827.73,1114.7 828.33,1117.5 828.63,1117.9 828.93,1119.7 829.23,1120.5 829.12,1120.4 829.38,1121.2 829.62,1120.4 829.53,1120.3 830.43,1115.3 830.73,1115.0 831.03,1113.2 831.33,1112.3 831.63,1112.9 831.93,1111.5 832.23,1111.0 832.83,1114.1 833.13,1113.5 833.43,1115.8 833.73,1111.2 834.03,1111.9 834.33,1110.4 834.63,1111.7 834.93,1114.2 835.23,1113.2 835.53,1110.0 835.83,1109.7 836.13,1108.4 836.43,1108.1 836.73,1110.0 837.03,1110.8 837.93,1114.4 838.23,1115.9 838.53,1115.5 838.83,1116.0 839.13,1115.9 839.43,1116.0 840.03,1114.1 840.33,1114.4 840.63,1115.3 840.93,1113.6 841.23,1115.1 841.53,1113.0 841.83,1114.6 842.13,1114.5 842.43,1113.6 842.73,1113.6 843.03,1113.3 843.33,1114.8 843.63,1112.8 843.93,1112.4 844.23,1113.2 844.53,1113.7 844.83,1112.9 845.13,1112.3 845.43,1113.2 845.73,1111.5 846.03,1111.3 846.33,1110.9 846.63,1113.8 846.93,1111.4 847.53,1114.9 847.83,1115.7 848.13,1117.5 848.43,1117.0 848.73,1116.8 849.03,1119.1 849.33,1119.5 849.93,1120.8 850.23,1120.1 850.53,1117.9 850.83,1117.7 851.13,1119.9 851.73,1115.6 852.03,1116.8 852.33,1117.1 852.93,1115.3 853.23,1112.8 853.53,1114.4 853.83,1113.7 854.13,1114.9 854.43,1112.9 854.73,1112.4 855.03,1111.6 855.63,1111.2 855.93,1110.1 856.23,1109.2 856.53,1109.7 856.83,1111.8 857.13,1112.3 857.43,1113.3 857.73,1113.1 858.03,1114.6 858.33,1114.5 858.63,1118.0 858.93,1119.3 859.53,1120.5 859.83,1122.2 860.13,1121.7 860.43,1123.0 860.38,1124.4 860.62,1127.5 860.88,1124.4 860.73,1125.9 861.03,1123.4 861.33,1123.8 861.63,1122.8 861.93,1120.7 862.53,1122.7 862.83,1122.6 863.13,1118.7 863.73,1119.5 864.03,1121.1 864.63,1122.1 864.93,1122.4 865.23,1120.8 865.53,1120.5 865.83,1122.5 866.13,1121.7 866.43,1122.2 867.03,1122.0 867.33,1122.9 867.63,1120.9 867.93,1120.0 868.23,1120.7 868.53,1121.2 868.83,1120.5 869.13,1120.4 869.43,1118.5 869.73,1119.3 870.03,1120.7 870.33,1119.4 870.63,1118.7 870.93,1120.0 871.23,1118.2 871.53,1119.8 871.83,1119.7 872.13,1120.3 872.43,1121.2 872.73,1122.7 873.03,1122.2 873.33,1120.7 873.63,1120.9 873.93,1122.0 874.23,1122.5 874.53,1123.7 874.83,1123.5 875.13,1124.2 875.43,1123.1 875.73,1125.1 876.03,1126.2 876.33,1127.9 876.63,1127.7 876.93,1127.7 877.23,1127.1 877.53,1128.7 877.83,1129.0 878.13,1129.1 878.73,1130.1 879.03,1130.3 879.33,1132.2 879.63,1129.5 879.93,1129.2 880.23,1131.2 880.53,1130.0 880.83,1130.8 881.13,1130.5 881.43,1129.5 881.73,1130.6 882.03,1130.1 882.33,1129.3 882.63,1129.3 882.93,1129.2 883.23,1127.8 883.53,1128.2 883.83,1127.6 884.13,1127.5 884.43,1127.2 884.73,1129.2 885.33,1126.5 885.63,1128.3 885.93,1125.6 886.23,1128.2 886,1128.4 886.25,1135.0 886.53,1128.7 886.83,1129.3 887.43,1127.6 887.73,1130.0 888.03,1129.2 888.33,1129.5 888.63,1128.2 888.93,1129.0 889.23,1127.0 889.53,1129.0 889.83,1126.8 890.13,1127.6 890.43,1126.9 890.73,1129.0 891.03,1128.5 891.33,1126.8 891.63,1128.2 891.93,1126.8 892.23,1124.7 892.50,1137.5 892.75,1125.2 892.53,1125.8 892.83,1124.3 893.13,1125.6 893.43,1125.6 893.73,1124.3 894.03,1125.6 894.33,1125.7 894.63,1123.8 894.93,1125.1 895.23,1124.4 895.53,1124.1 895.83,1125.8 896.13,1123.5 896.73,1123.9 897.03,1124.4 897.33,1124.4 897.63,1122.9 897.93,1125.1 898.23,1125.7 898.53,1126.0 898.83,1124.5 899.43,1123.7 899.73,1125.1 900.03,1124.9 900.33,1125.1 900.63,1124.7 900.93,1123.4 901.23,1125.3 901.53,1125.3 901.83,1125.0 902.13,1123.9 902.43,1124.7 902.73,1124.7 903.03,1123.7 903.33,1125.1 903.63,1124.4 904.23,1124.4 904.53,1123.7 904.83,1123.7 904.75,1124.0 905,1138.8 905.25,1124.0 905.13,1124.2 905.73,1124.8 906.03,1123.9 906.33,1124.8 906.63,1125.3 906.93,1123.1 907.23,1124.1 907.53,1124.5 907.83,1124.7 908.13,1126.4 908.43,1125.9 908.73,1124.8 909.03,1124.7 909.33,1123.3 909.63,1123.5 909.93,1125.4 910.23,1122.4 910.53,1124.3 910.83,1122.9 911.13,1123.1 911.43,1123.1 911.73,1124.6 912.03,1123.1 912.33,1123.0 912.63,1123.5 912.93,1120.8 913.23,1124.6 913.53,1121.7 914.13,1124.2 914.43,1122.7 914.73,1122.4 915.03,1125.2 915.33,1124.1 915.63,1125.4 915.93,1125.2 916.23,1124.8 916.53,1126.7 916.83,1125.2 917.13,1127.5 917.43,1125.2 917.73,1125.3 918.03,1125.9 918.33,1126.9 918.50,1126.3 918.75,1136.9 919,1126.3 918.93,1126.6 919.23,1128.8 919.53,1127.9 919.83,1129.0 920.13,1129.2 920.43,1130.0 920.73,1131.4 921.03,1134.0 921.33,1135.5 921.63,1136.4 921.93,1137.9 921.88,1139.6 922,1176.9 922.12,1139.6 922.23,1141.2 922.53,1142.3 922.83,1142.7 923.13,1142.0 923.43,1141.8 923.73,1143.8 924.03,1141.3 924.33,1143.7 924.63,1140.9 924.93,1140.0 924.75,1141.3 925,1147.5 925.23,1142.6 925.53,1142.4 925.83,1141.0 926.13,1149.9 926.43,1138.2 927.03,1139.0 927.33,1138.0 927.63,1136.0 927.93,1135.2 928.23,1135.9 928.53,1134.7 928.83,1135.3 928.75,1136.8 929,1143.8 929.25,1136.8 929.13,1138.3 929.43,1135.3 929.73,1134.5 930.03,1134.2 930.33,1135.2 930.63,1134.0 930.93,1133.3 931.23,1132.1 931.53,1136.1 931.83,1131.0 932.13,1144.3 932.43,1131.5 932.73,1131.1 933.33,1131.4 933.63,1130.9 933.93,1129.5 934.23,1131.6 934.53,1130.2 934.83,1133.0 935.13,1129.9 935.43,1128.9 935.73,1129.9 936.33,1128.6 936.63,1129.3 936.93,1131.8 937.23,1146.2 937.53,1128.9 937.83,1128.6 938.12,1142.5 938.38,1132.5 938.13,1136.4 938.43,1133.7 938.73,1129.0 939.03,1131.4 939.33,1131.1 939.63,1130.3 939.93,1133.1 940.23,1133.4 940.53,1130.3 940.83,1138.1 941.13,1130.4 941.43,1131.6 941.73,1129.5 942.03,1130.9 942.33,1130.6 942.63,1131.1 942.93,1128.2 943.23,1129.0 943.53,1129.3 943.83,1131.4 944.13,1129.4 944.43,1131.6 944.73,1131.6 944.75,1130.0 945,1141.9 945.25,1130.0 945.03,1128.4 945.33,1129.0 945.63,1128.8 945.93,1128.8 946.23,1128.2 946.53,1129.7 946.83,1149.2 947.13,1127.2 947.43,1137.0 947.73,1142.0 948.03,1137.5 948.33,1134.5 948.63,1128.7 948.93,1130.5 949.23,1128.8 949.53,1135.2 949.83,1138.9 950.13,1136.2 950.43,1127.8 950.73,1132.6 950.75,1130.5 951,1141.2 951.25,1130.5 951.03,1128.3 951.33,1127.4 951.63,1128.2 951.93,1128.0 952.23,1132.5 952.53,1127.5 952.83,1132.5 953.13,1128.0 953.43,1127.3 953.73,1129.0 954.03,1134.5 954.33,1132.7 954.63,1127.8 954.93,1129.5 955.23,1129.3 955.53,1130.5 955.83,1126.9 956.43,1126.8 957.03,1135.5 957.33,1126.7 957.93,1126.8 958.23,1135.1 958.53,1133.6 958.75,1153.8 959,1134.0 958.83,1134.5 959.13,1127.5 959.43,1132.0 959.73,1127.1 960.03,1127.2 960.33,1125.6 960.63,1126.8 960.93,1137.9 961.23,1157.6 961.53,1126.5 961.83,1126.4 961.62,1126.5 961.88,1156.2 962.13,1126.7 962.43,1129.3 963.03,1126.5 963.63,1145.6 964.23,1128.2 964.53,1131.0 964.83,1130.1 965.13,1125.4 965.43,1127.4 965.73,1125.0 966.03,1124.7 966.33,1128.8 966.63,1128.9 966.93,1152.8 967.23,1125.7 967.53,1124.6 967.83,1126.1 968.12,1141.9 968.38,1128.1 968.13,1130.0 968.43,1127.1 968.73,1128.8 969.03,1123.2 969.33,1122.2 969.63,1128.0 969.93,1123.6 970.23,1123.6 970.53,1159.9 970.83,1124.3 971.13,1123.4 971.43,1124.9 971.73,1129.8 971.62,1126.0 971.88,1143.1 972.12,1126.0 972.03,1122.2 972.33,1124.9 972.63,1128.7 972.93,1123.1 973.23,1136.3 973.53,1137.2 973.83,1125.0 974.13,1122.8 974.43,1142.7 975.03,1126.2 975.63,1120.4 975.93,1124.4 976.23,1122.1 976,1127.6 976.25,1148.8 976.50,1127.6 976.53,1133.2 976.83,1134.0 977.13,1122.6 977.43,1133.6 977.73,1121.7 978.03,1122.2 978.33,1142.4 978.63,1155.5 978.50,1141.9 978.75,1150.0 979,1141.9 978.93,1128.4 979.23,1121.2 979.53,1124.7 979.83,1121.0 980.13,1125.0 980.43,1122.5 980.73,1134.0 980.75,1127.3 981,1162.5 981.25,1127.3 981.03,1120.7 981.33,1122.7 981.63,1121.3 981.93,1130.3 982.23,1122.6 982.53,1120.9 982.83,1131.2 983.13,1121.4 983.43,1156.0 983.73,1125.4 984.03,1148.4 984.33,1127.9 984.63,1149.8 984.93,1122.1 985.23,1135.8 985.53,1127.6 985.83,1129.8 986.13,1156.3 986.43,1117.8 986.73,1120.1 986.62,1124.7 986.88,1147.5 987.12,1124.7 987.03,1129.2 987.33,1121.6 987.93,1118.0 988.53,1137.0 988.83,1125.6 989.13,1120.3 989.43,1120.0 989.73,1119.2 990.03,1139.4 990.33,1123.3 990.63,1116.9 990.93,1119.1 991.23,1135.5 991.53,1121.4 991.83,1117.4 992.13,1124.0 992.43,1123.9 992.25,1122.0 992.50,1148.8 992.73,1120.1 993.03,1116.7 993.33,1117.5 993.63,1117.3 993.50,1132.5 993.75,1151.2 994,1132.5 993.93,1147.7 994.23,1121.5 994.53,1115.5 994.83,1134.5 995.13,1123.0 995.43,1121.0 995.73,1126.1 996.03,1119.9 996.63,1116.9 997.53,1121.6 997.88,1118.1 998.12,1155.0 998.38,1118.1 998.13,1117.8 998.43,1117.3 998.73,1117.8 999.03,1117.3 999.33,1120.7 999.63,1119.1 999.93,1118.5 1000.23,1118.3 1000.53,1119.7 1000.83,1127.7 1001.13,1119.7 1001.43,1120.0 1001.73,1118.7 1002.03,1130.5 1002.33,1148.4 1002.63,1126.5 1002.93,1119.3 1003.23,1121.1 1003.53,1124.8 1003.83,1119.6 1004.13,1151.0 1004.73,1118.2 1004.75,1129.5 1005,1142.5 1005.33,1121.8 1005.63,1117.1 1005.93,1116.2 1006.23,1117.6 1006.83,1116.3 1007.13,1116.0 1007.43,1118.8 1007.73,1114.8 1008.03,1153.0 1008.33,1128.2 1008.63,1117.0 1008.93,1133.9 1009.23,1132.5 1009.53,1116.6 1009.83,1126.7 1010.13,1118.2 1010.43,1118.9 1010.73,1125.7 1011.03,1121.3 1011.33,1123.5 1011.63,1117.5 1011.93,1124.1 1012.23,1120.1 1012.53,1119.8 1012.83,1134.6 1012.62,1130.3 1012.88,1165.0 1013.13,1126.0 1013.43,1126.8 1013.73,1129.6 1014.03,1135.4 1014.33,1131.3 1014.63,1129.2 1014.93,1131.8 1015.23,1131.6 1015.53,1141.1 1015.83,1130.2 1016.13,1129.5 1016.43,1144.6 1016.25,1137.9 1016.50,1161.2 1016.75,1137.9 1016.73,1131.1 1017.03,1133.1 1017.33,1130.5 1017.63,1133.4 1017.93,1135.0 1018.23,1129.6 1018.53,1130.2 1018.83,1139.8 1019.13,1131.9 1019.43,1129.5 1019.73,1128.1 1020.03,1127.5 1020.33,1129.9 1020.63,1127.2 1020.93,1144.2 1021.23,1129.2 1021.53,1132.4 1021.83,1130.1 1021.62,1128.8 1021.88,1145.0 1022.13,1127.4 1022.43,1127.7 1022.73,1134.1 1023.03,1148.1 1023.33,1129.8 1023.63,1127.1 1023.93,1127.6 1024.23,1127.5 1024.53,1132.4 1024.83,1127.3 1025.13,1126.8 1025.43,1137.9 1025.75,1126.0 1026,1155.0 1026.25,1126.0 1026.03,1125.3 1026.33,1128.6 1026.63,1137.5 1026.93,1131.6 1027.23,1128.0 1027.83,1125.9 1028.13,1138.8 1028.43,1125.4 1028.73,1146.5 1029.33,1125.6 1029.63,1154.7 1029.93,1131.6 1029.75,1130.8 1030,1152.5 1030.23,1129.9 1030.53,1125.7 1030.83,1137.8 1031.13,1135.8 1031.43,1137.2 1031.73,1128.9 1032.03,1140.8 1032.33,1130.0 1032.63,1124.5 1032.93,1124.0 1033.23,1126.2 1033.53,1124.2 1033.50,1126.7 1033.75,1147.5 1034,1126.7 1033.83,1129.2 1034.13,1124.0 1034.43,1123.9 1034.73,1126.8 1035.03,1133.5 1035.33,1125.4 1035.63,1125.2 1035.93,1140.5 1036.23,1121.8 1036.53,1143.2 1036.83,1139.0 1037.13,1126.7 1037.43,1155.9 1037.73,1143.9 1038.03,1122.2 1038.33,1148.4 1038.63,1124.0 1038.93,1124.2 1039.12,1132.0 1039.38,1162.5 1039.62,1132.0 1039.53,1128.9 1039.83,1160.8 1040.13,1125.2 1040.43,1129.9 1040.73,1125.0 1041.03,1126.7 1041.33,1122.6 1041.63,1129.4 1041.93,1129.4 1042.23,1125.9 1042.50,1163.8 1042.75,1124.5 1042.53,1123.1 1042.83,1130.4 1043.13,1123.7 1043.43,1141.8 1043.73,1123.5 1044.33,1125.6 1044.63,1124.7 1044.93,1126.8 1045.23,1130.0 1045.53,1137.0 1045.38,1130.5 1045.62,1166.2 1045.88,1130.5 1045.83,1124.0 1046.13,1126.5 1046.43,1123.4 1046.73,1131.5 1047.03,1127.6 1047.33,1129.7 1047.63,1134.8 1047.93,1135.9 1048.23,1130.3 1048.53,1132.2 1048.83,1125.0 1049.43,1135.2 1049.73,1124.7 1050,1164.4 1050.25,1127.5 1050.03,1130.4 1050.33,1125.1 1050.63,1133.1 1050.93,1135.9 1051.23,1135.8 1051.53,1123.4 1051.83,1124.5 1052.13,1124.8 1052.43,1134.7 1052.73,1126.2 1053.03,1126.8 1052.88,1132.7 1053.12,1161.9 1053.33,1138.6 1053.63,1143.8 1053.93,1125.1 1054.23,1123.8 1054.53,1127.9 1054.83,1129.5 1055.13,1125.5 1055.43,1126.6 1055.73,1130.1 1056.03,1129.1 1056.33,1126.0 1056.63,1132.4 1056.93,1131.1 1057.23,1140.4 1057.25,1133.7 1057.50,1161.9 1057.75,1133.7 1057.53,1127.0 1057.83,1123.2 1058.13,1125.0 1058.43,1123.9 1058.73,1125.0 1059.03,1136.0 1059.33,1138.2 1059.93,1124.9 1060.23,1131.4 1060.53,1126.2 1060.83,1127.0 1061.13,1158.6 1061,1141.7 1061.25,1166.2 1061.50,1141.7 1061.43,1124.7 1061.73,1135.4 1062.03,1124.9 1062.33,1125.1 1062.63,1156.8 1062.93,1125.2 1063.23,1127.8 1063.53,1129.3 1063.83,1124.5 1064.13,1138.7 1064.43,1126.0 1064.73,1127.1 1065.03,1144.5 1065.33,1130.2 1065.63,1137.0 1065.93,1134.1 1066.23,1132.5 1066,1129.4 1066.25,1158.1 1066.53,1126.3 1066.83,1141.5 1067.13,1127.1 1067.43,1142.9 1067.73,1127.0 1068.03,1126.2 1068.33,1126.8 1068.63,1125.8 1068.93,1125.7 1069.23,1127.0 1069.53,1130.2 1069.83,1129.6 1070.13,1128.0 1070.43,1162.1 1070.38,1144.7 1070.62,1158.8 1070.88,1144.7 1070.73,1127.3 1071.03,1127.6 1071.33,1154.6 1071.63,1127.5 1071.93,1133.5 1072.23,1129.4 1072.53,1142.3 1073.13,1128.4 1073.43,1129.0 1073.73,1128.1 1074.03,1129.1 1074.33,1137.5 1074.63,1128.7 1074.93,1157.3 1074.75,1142.7 1075,1151.2 1075.25,1142.7 1075.23,1128.1 1075.53,1129.8 1075.83,1128.8 1076.13,1136.6 1076.43,1131.2 1076.73,1129.3 1077.03,1131.8 1077.33,1132.6 1077.63,1129.8 1077.93,1130.4 1078.23,1128.6 1078.53,1130.0 1078.83,1128.7 1079.13,1147.4 1079.43,1127.3 1079.73,1128.4 1080.03,1127.0 1080.38,1130.2 1080.62,1170.0 1080.88,1130.2 1080.63,1130.9 1080.93,1127.2 1081.23,1137.7 1081.53,1134.6 1081.83,1128.4 1082.13,1134.9 1082.43,1127.6 1082.73,1126.4 1083.03,1145.4 1083.33,1133.4 1083.63,1139.6 1083.93,1129.2 1084.23,1127.5 1084.53,1130.4 1084.83,1136.4 1085.13,1128.3 1085.43,1126.1 1085.73,1126.4 1086.03,1130.2 1086.33,1129.4 1086.62,1126.1 1086.88,1150.0 1087.12,1126.1 1086.93,1126.4 1087.23,1127.7 1087.83,1139.8 1088.13,1136.5 1088.43,1126.9 1089.03,1124.0 1089.63,1126.7 1089.93,1125.7 1089.75,1130.2 1090,1168.1 1090.23,1134.7 1090.53,1127.1 1090.83,1127.8 1091.13,1125.4 1091.43,1137.8 1091.73,1129.7 1092.03,1125.7 1092.33,1134.0 1092.63,1133.8 1092.93,1125.4 1093.23,1127.9 1093.53,1126.4 1093.83,1125.5 1094.13,1126.8 1094.12,1132.4 1094.38,1154.4 1094.62,1132.4 1094.43,1138.0 1094.73,1126.0 1095.03,1124.9 1095.33,1126.5 1095.63,1125.6 1095.93,1126.6 1096.23,1136.2 1096.53,1126.0 1096.83,1133.1 1097.13,1143.7 1097.43,1128.1 1097.73,1136.5 1098.03,1127.0 1098.33,1134.7 1098.63,1128.1 1098.93,1125.4 1099.23,1130.3 1099.53,1125.6 1099.83,1124.7 1100.13,1129.7 1100.43,1125.7 1100.73,1127.2 1101.03,1138.2 1101,1131.4 1101.25,1148.8 1101.50,1131.4 1101.33,1124.6 1101.63,1128.3 1101.93,1128.9 1102.23,1124.2 1102.53,1134.4 1102.83,1123.9 1103.13,1124.6 1103.73,1133.1 1104.03,1123.8 1104.33,1121.9 1104.63,1125.7 1104.93,1122.8 1105.23,1126.4 1105.53,1126.4 1105.83,1122.8 1106.25,1156.9 1106.50,1134.1 1106.43,1127.9 1106.73,1136.2 1107.03,1120.7 1107.33,1140.2 1107.63,1137.0 1107.93,1129.0 1108.23,1124.4 1108.53,1123.9 1108.83,1127.8 1109.13,1125.3 1109.43,1124.4 1109.73,1126.8 1110.03,1125.2 1110.33,1134.9 1110.63,1130.7 1110.93,1131.8 1111.23,1129.4 1111.53,1129.1 1111.83,1138.8 1112.13,1124.1 1112.43,1124.8 1112.25,1125.0 1112.50,1143.8 1112.73,1125.1 1113.03,1123.7 1113.33,1148.3 1113.63,1132.1 1113.93,1125.3 1114.23,1124.8 1114.53,1124.8 1114.83,1124.3 1115.13,1128.2 1115.43,1124.6 1115.73,1128.1 1116.03,1128.8 1116.33,1127.1 1116.63,1142.6 1116.93,1125.0 1117.23,1128.2 1117.53,1127.2 1117.83,1122.7 1118.13,1124.3 1118.38,1158.8 1118.62,1122.8 1118.43,1121.4 1118.73,1121.9 1119.03,1121.7 1119.33,1130.3 1119.63,1121.8 1119.93,1127.7 1120.23,1122.3 1120.53,1121.3 1120.83,1121.7 1121,1137.9 1121.25,1150.0 1121.50,1137.9 1121.43,1129.7 1121.73,1121.9 1122.03,1122.2 1122.33,1122.8 1122.93,1126.3 1123.23,1122.9 1123.53,1122.8 1123.83,1142.3 1124.43,1124.9 1124.73,1126.1 1125.03,1124.7 1125.33,1124.3 1125.63,1152.1 1125.93,1122.7 1126.23,1128.1 1126,1126.2 1126.25,1151.9 1126.53,1124.3 1126.83,1123.4 1127.13,1137.5 1127.43,1134.5 1127.73,1124.5 1128.03,1130.4 1128.33,1149.3 1128.93,1129.2 1129.23,1144.8 1129.53,1128.3 1129.83,1134.6 1130.13,1137.5 1130.43,1127.6 1130.73,1128.1 1130.62,1129.5 1130.88,1152.5 1131.12,1129.5 1131.03,1130.8 1131.33,1128.1 1131.63,1129.4 1131.93,1136.7 1132.23,1150.2 1132.53,1132.4 1132.83,1132.1 1133.13,1132.7 1133.43,1131.2 1133.73,1130.3 1134.03,1135.7 1134.33,1134.2 1134.63,1153.0 1134.93,1133.9 1135.23,1130.9 1135.53,1133.2 1135.83,1132.0 1136.13,1133.2 1136,1132.4 1136.25,1150.0 1136.50,1132.4 1136.43,1131.6 1136.73,1132.9 1137.03,1138.6 1137.33,1135.0 1137.63,1132.7 1137.93,1159.8 1138.23,1151.3 1138.53,1133.2 1138.83,1138.5 1139.13,1160.2 1139.43,1141.4 1139.73,1135.8 1140.03,1137.4 1140.33,1136.6 1140.38,1142.6 1140.62,1146.9 1140.88,1142.6 1140.63,1148.6 1140.93,1133.6 1141.23,1146.3 1141.53,1135.4 1141.83,1133.2 1142.13,1134.1 1142.43,1135.9 1142.73,1131.2 1143.03,1135.6 1143.33,1135.1 1143.25,1135.2 1143.50,1148.1 1143.75,1135.2 1143.63,1135.2 1143.93,1134.4 1144.23,1149.4 1144.53,1149.1 1144.83,1134.1 1145.13,1140.4 1145.43,1141.1 1145.73,1132.7 1146.03,1133.0 1146.33,1132.7 1146.63,1140.2 1146.93,1132.2 1147.23,1132.6 1147.53,1136.3 1147.83,1133.4 1148.13,1133.4 1148.73,1136.9 1148.62,1137.0 1148.88,1158.8 1149.12,1137.0 1149.03,1137.1 1149.33,1131.3 1149.63,1139.9 1149.93,1132.9 1150.23,1133.9 1150.53,1132.5 1150.83,1144.6 1151.13,1141.3 1151,1138.8 1151.25,1145.6 1151.50,1138.8 1151.43,1136.3 1151.73,1133.9 1152.03,1134.0 1152.63,1136.2 1152.93,1135.7 1153.23,1141.1 1153.53,1137.9 1153.83,1138.3 1154.13,1135.0 1154.43,1136.6 1155.03,1134.7 1155.33,1139.6 1155.63,1157.5 1155.93,1135.8 1156.23,1135.3 1156.53,1141.5 1156.83,1145.9 1157.13,1134.8 1157.43,1133.8 1157.73,1135.2 1157.62,1135.3 1157.88,1140.0 1158.12,1135.3 1158.03,1135.5 1158.33,1137.6 1158.63,1133.8 1158.93,1135.0 1159.23,1135.2 1159.53,1134.0 1159.83,1141.5 1160.13,1134.1 1160.43,1136.5 1160.73,1132.5 1161.03,1134.7 1161.33,1135.6 1161.63,1132.9 1161.93,1134.0 1162.23,1140.4 1162.53,1134.4 1162.83,1140.6 1163.13,1136.9 1163.43,1135.8 1163.73,1142.1 1163.75,1140.2 1164,1150.6 1164.25,1140.2 1164.03,1138.3 1164.33,1134.5 1164.63,1136.9 1164.93,1136.8 1165.23,1139.5 1165.53,1136.1 1165.83,1136.0 1166.13,1136.2 1166,1137.1 1166.25,1141.2 1166.43,1138.0 1166.73,1135.1 1167.03,1135.1 1167.33,1135.7 1167.63,1140.1 1167.93,1135.8 1168.23,1136.0 1168.53,1136.5 1168.83,1136.3 1169.13,1134.6 1169.43,1135.2 1169.73,1137.7 1170.03,1136.3 1170.33,1137.5 1170.93,1136.1 1171.23,1134.8 1171.53,1135.8 1171.83,1133.6 1172.13,1135.6 1172.43,1133.8 1172.73,1133.7 1173.03,1132.7 1173.33,1132.5 1173.63,1132.7 1173.93,1132.4 1173.75,1132.2 1174,1140.6 1174.23,1132.0 1174.53,1131.7 1175.13,1133.6 1175.43,1134.2 1176.03,1132.2 1176.33,1132.8 1176.63,1133.7 1176.93,1132.2 1177.23,1133.0 1177.53,1132.3 1177.83,1132.0 1178.13,1131.3 1178.43,1132.3 1178.73,1130.8 1179.03,1130.5 1179.33,1131.6 1179.63,1132.1 1180.23,1131.7 1180.53,1130.6 1180.83,1130.6 1181.43,1132.4 1181.73,1128.0 1182.03,1131.4 1182.33,1130.4 1182.63,1130.2 1182.93,1129.8 1183.23,1130.1 1183.53,1129.8 1183.83,1131.3 1184.13,1130.5 1184.43,1131.4 1184.73,1130.4 1185.03,1133.0 1185.33,1132.5 1185.12,1131.7 1185.38,1135.0 1185.63,1130.8 1185.93,1132.2 1186.23,1131.4 1186.53,1130.9 1187.43,1132.9 1187.73,1131.7 1188.03,1132.5 1188.33,1132.0 1188.93,1131.9 1189.23,1129.3 1189.53,1129.6 1189.83,1130.8 1190.13,1127.7 1190.43,1127.6 1190.73,1129.6 1191.03,1126.4 1191.33,1127.0 1191.63,1126.9 1191.93,1126.1 1192.23,1127.0 1192.53,1126.7 1192.83,1125.1 1193.13,1127.0 1193.43,1124.5 1194.33,1124.6 1194.63,1123.7 1194.93,1125.2 1195.23,1123.3 1195.53,1125.1 1195.83,1125.1 1196.13,1125.5 1196,1125.9 1196.25,1136.9 1196.50,1125.9 1196.43,1126.4 1196.73,1127.0 1197.03,1126.4 1197.33,1127.3 1197.63,1126.0 1198.23,1127.3 1198.53,1125.5 1199.13,1125.3 1199.43,1125.6 1200.03,1124.0 1200.33,1122.8 1200.63,1123.5 1200.93,1120.3 1201.23,1122.9 1201.53,1121.6 1201.83,1122.6 1202.13,1121.7 1202.43,1122.7 1203.03,1119.2 1203.33,1120.7 1203.63,1120.0 1203.93,1120.1 1204.23,1121.0 1204.53,1118.9 1204.83,1120.1 1205.43,1120.0 1205.73,1117.1 1206.03,1118.8 1206.33,1117.9 1206.63,1118.1 1206.93,1117.4 1207.23,1117.6 1207.53,1118.6 1207.83,1119.1 1208.13,1118.0 1208.43,1116.1 1208.73,1118.1 1209.03,1115.7 1209.33,1116.3 1209.63,1117.4 1209.93,1115.7 1210.23,1116.5 1210.53,1115.1 1210.38,1114.4 1210.62,1121.2 1210.88,1114.4 1210.83,1113.8 1211.13,1114.5 1211.43,1113.4 1211.73,1114.9 1212.03,1114.5 1212.33,1113.7 1212.63,1110.9 1212.93,1113.0 1213.23,1111.1 1213.53,1110.8 1214.13,1109.0 1215.03,1109.6 1215.33,1108.4 1215.93,1106.6 1216.23,1106.4 1216.53,1107.7 1216.83,1106.5 1217.13,1105.7 1217.43,1103.6 1217.73,1103.0 1218.03,1104.7 1218.33,1104.1 1218.63,1104.1 1219.53,1100.1 1219.83,1100.3 1220.13,1098.5 1220.43,1100.3 1220.73,1100.0 1221.03,1100.3 1221.33,1097.0 1221.63,1096.9 1221.93,1098.2 1222.23,1097.5 1222.53,1095.0 1222.83,1095.7 1223.13,1096.0 1223.43,1095.1 1223.73,1095.3 1224.33,1094.3 1224.63,1095.0 1224.93,1094.5 1225.23,1095.5 1225.53,1093.1 1225.83,1094.1 1226.13,1093.6 1226.43,1093.8 1226.73,1094.3 1227.03,1094.4 1227.33,1091.8 1227.63,1094.5 1227.93,1093.5 1228.23,1093.0 1228.53,1092.0 1228.83,1092.3 1229.13,1091.4 1229.43,1088.9 1229.73,1089.4 1230.03,1089.3 1230.63,1088.1 1230.93,1088.5 1231.23,1086.5 1231.53,1086.5 1231.83,1086.0 1232.13,1086.5 1232.43,1086.7 1232.73,1085.2 1233.03,1086.0 1233.33,1084.9 1233.63,1086.3 1233.93,1082.8 1234.23,1084.5 1234.53,1085.2 1234.83,1083.5 1235.13,1083.0 1235.43,1083.8 1235.73,1085.7 1236.03,1085.3 1236.33,1086.9 1236.93,1083.3 1237.23,1082.4 1237.53,1082.2 1237.83,1081.6 1238.13,1078.9 1238.73,1076.5 1239.33,1078.2 1239.63,1075.7 1239.93,1076.3 1240.23,1074.9 1240.53,1075.6 1240.83,1073.0 1241.13,1074.4 1241.43,1072.4 1241.73,1072.5 1242.03,1073.2 1242.33,1072.4 1242.63,1072.3 1242.93,1072.5 1243.23,1071.9 1243.53,1072.8 1243.83,1071.6 1244.13,1069.2 1244.43,1068.9 1244.73,1067.5 1245.03,1066.6 1245.33,1067.6 1245.63,1064.2 1245.93,1064.0 1246.23,1062.1 1246.53,1061.1 1246.83,1056.6 1247.43,1055.6 1247.73,1054.5 1248.03,1056.0 1248.33,1055.7 1248.63,1051.4 1248.93,1052.7 1249.23,1053.5 1249.53,1051.1 1249.83,1050.9 1250.43,1051.9 1250.73,1052.2 1251.03,1052.7 1251.33,1054.9 1251.63,1051.6 1251.93,1053.7 1252.23,1053.5 1252.53,1055.2 1252.83,1054.4 1253.13,1055.1 1253.43,1054.5 1253.73,1056.4 1254.03,1053.0 1254.33,1053.6 1254.63,1054.7 1254.93,1053.4 1255.23,1053.5 1255.53,1051.5 1255.83,1053.1 1256.13,1051.9 1256.43,1052.1 1256.73,1050.3 1257.03,1050.2 1257.33,1049.4 1257.63,1051.5 1257.93,1048.4 1258.23,1050.4 1258.53,1050.2 1258.83,1051.1 1259.43,1049.0 1259.73,1050.4 1259.75,1049.4 1260,1055.0 1260.25,1049.4 1260.03,1048.4 1260.33,1050.6 1260.63,1049.2 1260.93,1048.4 1261.23,1048.3 1261.53,1049.0 1261.83,1046.6 1262.13,1049.4 1262.43,1046.9 1262.73,1048.6 1263.03,1047.1 1263.33,1048.4 1263.63,1045.2 1263.93,1046.7 1264.53,1044.3 1264.83,1045.2 1265.13,1043.7 1265.43,1042.7 1265.73,1042.7 1266.03,1041.7 1266.33,1041.7 1266.63,1041.4 1266.93,1041.9 1267.53,1039.2 1267.83,1040.0 1268.43,1037.2 1268.73,1036.4 1269.03,1038.5 1269.33,1036.2 1269.63,1037.2 1269.93,1034.2 1270.23,1033.7 1270.12,1034.9 1270.38,1050.0 1270.62,1034.9 1270.53,1036.0 1270.83,1033.9 1271.43,1033.3 1271.73,1032.3 1272.03,1033.8 1272.33,1031.5 1272.63,1033.3 1272.93,1031.9 1273.23,1035.6 1273.53,1034.1 1273.83,1034.8 1274.13,1032.5 1274.43,1034.7 1274.73,1034.1 1275.03,1034.1 1275.33,1033.8 1275.63,1034.9 1276.23,1033.0 1276.53,1032.6 1276.38,1032.4 1276.62,1046.9 1276.83,1032.2 1277.13,1031.9 1277.43,1031.8 1277.73,1030.6 1278.03,1030.5 1278.33,1027.9 1278.63,1028.1 1278.93,1027.4 1279.23,1025.5 1279.53,1026.4 1279.83,1023.5 1280.13,1023.3 1280.43,1023.5 1281.03,1019.9 1281.33,1020.0 1281.63,1018.1 1281.93,1018.2 1282.53,1014.6 1282.83,1014.1 1283.13,1014.0 1283.43,1013.6 1283.73,1013.5 1284.03,1012.7 1284.33,1012.5 1284.63,1012.5 1284.93,1014.3 1285.23,1012.5 1285.83,1015.3 1286.13,1012.5 1286.43,1014.4 1286.73,1013.3 1287.03,1013.7 1287.33,1013.2 1287.63,1010.8 1287.93,1009.4 1288.23,1009.6 1288.53,1010.2 1289.13,1009.3 1289.43,1010.9 1289.73,1009.3 1290.03,1009.1 1290.63,1012.5 1290.93,1010.2 1291.23,1010.6 1291,1010.3 1291.25,1020.0 1291.53,1009.9 1291.83,1010.3 1292.13,1009.9 1292.43,1011.3 1292.73,1010.5 1293.03,1010.5 1293.33,1012.3 1293,1011.4 1293.50,1005.0 1294,1011.4 1293.63,1010.5 1293.93,1013.1 1294.23,1012.5 1294.53,1012.2 1294.83,1013.5 1295.13,1013.5 1295.43,1014.1 1295.73,1013.7 1296.03,1015.7 1296.33,1015.0 1296.63,1015.1 1296.93,1013.1 1297.23,1013.9 1297.53,1015.4 1298.13,1013.8 1298.43,1013.5 1298.73,1014.3 1299.03,1011.3 1299.33,1012.0 1299.63,1011.3 1299.93,1013.4 1300.23,1010.8 1300.53,1011.6 1300.83,1012.8 1301.13,1011.0 1301.43,1011.3 1301.73,1010.9 1302.03,1011.3 1302.33,1012.4 1302.63,1009.1 1302.93,1009.9 1303.23,1011.2 1303.53,1011.7 1303.83,1009.2 1304.13,1010.8 1304.43,1010.2 1304.73,1010.3 1305.03,1008.5 1305.33,1008.5 1305.63,1010.2 1305.93,1010.1 1306.23,1010.2 1306.53,1009.3 1306.83,1011.8 1306.62,1011.1 1306.88,1016.9 1307.13,1010.5 1307.43,1013.2 1307.73,1010.6 1308.33,1011.8 1308.63,1010.9 1308.93,1010.3 1309.53,1011.1 1309.83,1010.6 1310.13,1012.9 1310.38,1011.1 1310.62,1017.5 1310.88,1011.1 1310.73,1011.7 1311.03,1011.7 1311.33,1011.1 1311.63,1009.9 1311.93,1011.3 1312.23,1011.7 1312.53,1010.9 1312.83,1010.8 1313.13,1008.7 1313.73,1010.5 1314.03,1010.3 1314.33,1010.3 1314.63,1008.8 1314.93,1008.7 1315.23,1007.0 1315.53,1008.0 1315.83,1007.5 1316.13,1006.2 1316.43,1006.7 1316.73,1005.0 1317.03,1004.5 1317.33,1004.7 1317.63,1006.8 1317.93,1003.5 1318.23,1005.2 1318.53,1004.7 1318.83,1005.0 1319.13,1003.2 1319.43,1004.9 1319.73,1004.5 1320.03,1003.3 1320.33,1002.8 1320.63,1002.9 1320.93,1003.3 1321.23,1000.7 1321.53,1003.0 1321.83,1001.1 1322.13,1001.8 1322.43,1000.0 1322.73,1002.2 1323.03,1000.3 1323.33,1001.3 1323.63,998.8 1323.93,998.5 1324.23,999.7 1324.83,998.3 1325.13,998.8 1325.73,996.7 1326.03,995.0 1326.33,994.3 1326.63,996.6 1326.93,996.2 1327.23,994.5 1327.53,995.5 1327.83,994.9 1328.13,995.2 1328.43,996.2 1328.73,993.9 1329.03,995.7 1329.33,996.0 1329.63,995.4 1329.93,995.8 1330.23,994.2 1330.53,994.9 1330.83,994.8 1331.13,994.4 1331.43,992.5 1331.73,993.4 1332.03,992.4 1332.33,992.2 1332.63,991.2 1332.93,991.8 1333.23,991.3 1333.53,993.3 1333.83,990.8 1334.13,992.0 1334.73,989.5 1335.03,991.2 1335.33,991.8 1335.93,990.8 1336.23,988.8 1336.53,989.3 1336.83,987.2 1337.13,989.6 1337.43,988.8 1337.73,985.9 1338.03,986.0 1338.33,984.7 1338.93,984.5 1339.23,983.6 1339.53,984.1 1339.83,984.9 1340.13,983.9 1340.43,984.6 1340.73,983.6 1341.03,983.6 1341.33,982.2 1341.63,984.0 1341.93,981.9 1342.23,982.4 1342.53,981.4 1342.83,982.9 1343.13,981.5 1343.73,984.1 1344.03,982.6 1344.33,980.2 1344.63,983.1 1344.93,982.3 1345.23,982.6 1345.53,982.4 1345.83,983.0 1346.13,982.9 1346.73,979.1 1347.03,979.1 1347.33,978.8 1347.63,976.2 1347.93,978.8 1348.23,977.9 1348.53,981.3 1348.83,982.8 1349.13,982.7 1349.43,982.2 1349.73,983.4 1350.33,984.6 1350.93,984.3 1351.23,982.6 1351.83,984.2 1352.13,983.2 1352.43,980.6 1352.73,981.5 1353.03,980.3 1353.33,980.4 1353.63,979.7 1353.93,977.4 1354.23,977.2 1354.53,977.6 1354.83,976.2 1355.13,976.9 1355.43,975.9 1355.73,975.8 1356.03,977.0 1356.33,975.9 1356.63,975.2 1356.93,976.9 1357.23,975.0 1357.53,975.0 1357.83,974.5 1358.13,976.7 1358.43,974.0 1358.73,973.7 1359.03,972.0 1359.33,972.6 1359.63,972.3 1359.93,969.7 1360.53,972.0 1360.83,972.1 1361.13,970.5 1361.43,972.3 1361.73,969.5 1362.03,971.0 1362.33,970.4 1362.63,968.8 1362.93,970.6 1363.23,968.4 1363.83,969.4 1364.13,968.8 1364.43,971.3 1364.73,970.1 1365.03,969.7 1365.33,971.4 1365.63,971.5 1365.93,970.9 1366.23,970.7 1366.53,971.0 1366.83,969.9 1367.13,966.7 1367.43,968.1 1367.73,967.6 1368.03,967.5 1368.33,965.8 1368.63,965.3 1368.93,965.7 1369.23,964.9 1369.53,965.0 1369.83,964.5 1370.13,964.5 1370.43,964.1 1370.73,964.3 1371.03,964.2 1371.63,962.9 1371.93,964.6 1372.53,963.0 1372.83,961.4 1373.13,962.5 1373.43,961.5 1373.73,961.9 1374.03,961.5 1374.33,963.5 1374.63,961.2 1374.93,960.2 1375.23,962.0 1375.53,962.0 1375.83,962.1 1376.13,958.5 1376.43,959.9 1376.73,960.0 1377.03,959.0 1377.33,960.3 1377.93,960.6 1378.23,960.1 1378.53,959.0 1378.83,960.4 1379.13,959.8 1379.43,957.6 1379.73,960.4 1380.03,960.6 1380.33,962.2 1380.93,962.1 1381.23,963.5 1381.53,961.4 1381.83,960.6 1382.13,962.0 1382.43,962.2 1382.73,961.3 1383.03,961.3 1383.63,959.2 1383.93,959.3 1384.23,958.5 1384.53,960.1 1384.83,958.3 1385.13,959.3 1385.43,957.4 1385.73,956.2 1386.03,956.7 1386.33,956.4 1386.63,957.4 1386.93,954.3 1387.23,955.7 1387.53,956.4 1387.83,955.3 1388.13,956.0 1388.43,955.6 1388.73,957.1 1389.03,956.9 1389.33,953.8 1389.63,954.2 1390.23,955.4 1390.53,955.1 1390.83,954.6 1391.13,955.5 1391.43,955.5 1391.73,954.7 1392.03,954.1 1392.33,954.2 1392.63,953.3 1392.93,954.6 1393.23,954.5 1393.53,953.1 1393.83,955.4 1394.13,954.2 1394.43,955.1 1394.73,954.5 1395.03,954.5 1395.33,955.5 1395.63,954.1 1395.93,954.8 1396.23,953.9 1396.53,955.4 1396.83,954.8 1397.43,954.5 1397.73,955.6 1398.33,954.8 1398.63,954.6 1398.93,956.2 1399.23,955.2 1399.53,952.0 1399.83,953.4 1400.13,952.0 1400.43,951.1 1400.73,950.4 1401.03,948.0 1401.63,955.2 1401.93,956.2 1402.23,955.9 1402.53,955.7 1402.83,954.7 1403.13,955.5 1403.43,954.7 1403.73,953.4 1404.03,953.6 1404.33,953.2 1404.63,952.9 1404.93,952.9 1405.23,953.6 1405.83,951.4 1406.13,954.1 1406.43,952.2 1406.73,953.9 1407.03,952.7 1407.33,952.9 1407.63,951.6 1407.93,952.3 1408.23,951.8 1408.53,952.0 1408.83,952.4 1409.13,951.6 1409.43,952.6 1409.73,950.8 1410.03,951.3 1410.33,952.9 1410.63,953.2 1411.23,954.6 1411.53,953.8 1411.83,954.3 1412.13,954.1 1412.43,954.2 1412.73,954.2 1413.03,954.6 1413.33,954.2 1413.93,955.4 1414.23,954.7 1414.53,954.8 1414.83,952.8 1415.13,952.5 1415.43,952.7 1415.73,951.0 1416.03,950.5 1416.33,951.4 1416.63,950.1 1416.93,950.8 1417.23,950.4 1417.83,950.0 1418.13,952.3 1418.43,951.5 1418.73,951.0 1419.03,950.8 1419.33,951.3 1419.63,952.3 1419.93,954.1 1420.23,952.1 1420.53,952.9 1420.83,952.6 1421.13,949.2 1421.73,952.5 1422.03,949.7 1422.33,952.3 1422.93,949.9 1423.23,953.2 1423.53,951.6 1423.83,953.3 1424.13,952.2 1424.43,951.4 1424.73,953.3 1425.03,954.1 1425.33,953.7 1425.63,951.6 1425.93,953.4 1426.23,952.0 1426.53,952.4 1426.83,954.1 1427.13,951.4 1427.43,954.9 1427.73,951.1 1428.03,951.2 1428.33,953.0 1428.63,952.0 1428.93,952.0 1429.23,951.2 1429.53,952.6 1429.83,952.0 1430.13,951.7 1430.73,950.6 1431.03,952.1 1431.33,950.2 1431.93,953.0 1432.23,953.1 1432.53,952.2 1432.83,950.4 1433.13,953.3 1433.43,953.7 1433.73,953.1 1434.03,954.0 1434.33,953.5 1434.63,950.7 1434.93,951.8 1435.23,951.3 1435.53,952.9 1435.83,952.2 1436.13,951.1 1436.43,951.3 1436.73,951.3 1437.03,949.6 1437.33,949.8 1437.63,949.6 1437.93,949.1 1438.23,949.2 1438.53,950.2 1438.83,949.3 1439.13,949.9 1439.43,952.2 1439.73,953.4 1440.03,954.1 1440.33,950.3 1440.63,951.8 1440.93,950.2 1441.53,949.9 1441.83,950.0 1442.13,949.7 1442.43,946.5 1443.03,950.1 1443.33,949.5 1443.63,948.1 1443.93,948.9 1444.23,949.3 1444.53,951.3 1444.83,952.2 1445.13,949.8 1445.43,951.5 1445.73,951.1 1446.03,952.1 1446.33,951.3 1446.63,949.8 1446.93,949.5 1447.23,948.7 1447.53,950.0 1447.83,948.3 1448.13,949.8 1448.43,948.8 1448.73,949.2 1449.03,950.4 1449.33,949.9 1449.63,952.6 1449.93,952.3 1450.23,950.1 1450.53,951.7 1450.83,952.6 1451.13,950.2 1451.43,950.9 1451.73,952.7 1452.03,950.6 1452.33,952.0 1452.63,951.4 1452.93,951.7 1453.23,950.6 1453.53,951.5 1453.83,951.2 1454.13,953.3 1454.43,952.3 1454.73,951.8 1455.03,951.7 1455.33,951.9 1455.63,949.3 1455.93,949.4 1456.53,948.7 1456.83,947.5 1457.13,949.0 1457.43,947.7 1457.73,949.2 1458.03,948.0 1458.33,947.8 1458.63,948.6 1458.93,948.7 1459.23,948.1 1459.83,949.6 1459.50,948.9 1460,932.5 1460.50,948.9 1460.13,948.1 1460.43,949.8 1460.73,948.3 1461.03,948.8 1461.33,947.5 1461.63,946.8 1461.93,946.9 1462.23,945.2 1462.53,944.3 1462.83,945.3 1463.43,944.1 1463.73,947.4 1464.03,946.1 1464.33,945.4 1464.63,946.8 1464.93,947.2 1465.23,946.6 1465.53,947.0 1465.83,945.9 1466.43,949.7 1466.73,949.1 1467.03,949.0 1467.33,947.6 1467.63,947.2 1467.93,949.0 1468.53,948.1 1468.83,948.0 1469.13,949.2 1469.43,949.0 1469.73,948.0 1470.03,948.4 1470.33,947.0 1470.63,947.5 1470.93,949.1 1471.23,948.2 1471.53,947.7 1472.13,949.3 1472.43,947.3 1472.73,947.6 1473.03,947.5 1473.33,949.8 1473.63,948.4 1473.93,947.5 1474.23,945.8 1474.53,947.7 1474.83,947.3 1475.43,945.9 1475.73,946.1 1476.03,945.0 1476.33,946.1 1476.63,945.9 1476.93,945.4 1477.23,945.9 1477.53,944.7 1477.83,947.1 1478.43,944.8 1478.73,946.5 1479.03,946.2 1479.63,944.4 1479.93,945.4 1480.23,946.1 1480.83,947.1 1481.13,947.4 1481.43,945.6 1481.73,947.3 1482.03,945.8 1482.33,948.7 1482.63,948.5 1482.93,949.3 1483.23,948.7 1483.53,949.0 1483.83,948.8 1484.13,946.8 1484.73,951.8 1485.33,949.5 1485.63,950.1 1485.93,950.3 1486.23,949.4 1486.53,950.0 1486.83,950.4 1487.13,949.7 1487.73,951.5 1488.03,951.2 1488.63,950.1 1488.93,950.8 1489.23,949.5 1489.53,949.3 1489.83,950.9 1490.13,949.3 1490.43,948.3 1490.73,950.2 1491.03,949.9 1491.33,950.1 1491.63,948.9 1491.93,949.9 1492.53,947.6 1492.83,947.5 1493.13,947.1 1493.43,945.0 1493.73,945.0 1494.03,944.6 1494.33,943.1 1494.63,942.7 1494.93,941.8 1495.23,940.3 1495.53,940.5 1495.83,940.8 1496.13,939.1 1496.73,942.8 1497.03,943.1 1497.33,941.6 1497.63,944.0 1497.93,945.4 1498.23,945.2 1498.53,945.4 1498.83,944.9 1499.38,932.5 1499.88,945.0 1499.43,944.6 1499.73,945.9 1500.03,948.3 1500.33,946.5 1500.63,946.0 1500.93,947.1 1501.23,944.7 1501.53,948.5 1501.83,946.9 1502.13,945.9 1502.43,945.7 1502.73,945.1 1503.03,945.9 1503.33,945.7 1503.63,944.1 1503.93,946.3 1504.23,945.0 1504.53,944.2 1504.83,945.9 1505.13,945.4 1505.43,943.6 1505.73,942.9 1506.03,943.9 1506.33,941.9 1506.63,941.9 1506.93,942.3 1507.23,939.4 1507.53,938.5 1507.83,938.5 1508.13,938.2 1508.43,938.6 1508.73,939.4 1509.03,938.0 1509.33,939.8 1509.63,938.3 1509.93,936.2 1510.23,937.9 1510.53,938.4 1510.83,938.6 1511.13,936.9 1511.43,937.1 1511.73,938.7 1512.03,936.3 1512.63,933.7 1512.93,934.2 1513.23,934.4 1513.53,932.5 1513.83,934.3 1514.13,932.4 1514.43,931.3 1514.73,933.5 1515,940.0 1515.25,933.2 1515.03,932.9 1515.33,932.6 1515.63,934.0 1515.93,932.2 1516.23,933.3 1516.53,932.2 1516.83,934.1 1517.13,932.6 1517.43,932.5 1517.73,933.0 1518.03,932.4 1518.33,932.9 1518.63,932.3 1518.93,933.1 1519.53,932.0 1519.83,933.0 1520.13,932.9 1520.43,931.6 1520.73,931.8 1521.03,929.4 1521.33,929.8 1521.63,929.2 1521.93,929.5 1522.23,926.3 1522.53,925.8 1522.83,925.0 1523.43,921.3 1523.73,923.1 1524.03,924.3 1524.63,925.1 1524.93,924.7 1525.23,924.0 1525.53,926.0 1525.83,926.7 1526.13,925.2 1526.43,926.1 1526.73,925.2 1527.03,925.5 1527.33,925.1 1527.63,926.4 1527.93,924.8 1528.53,926.5 1529.13,924.5 1529.43,925.9 1529.73,925.1 1530.03,923.8 1530.33,924.5 1530.63,924.1 1530.93,924.6 1531.23,923.4 1531.83,923.7 1532.13,921.2 1532.43,923.5 1533.03,921.4 1533.63,922.9 1533.93,921.2 1534.23,921.2 1534.53,922.7 1534.83,922.7 1535.13,923.0 1535.43,921.1 1535.73,920.0 1536.03,919.9 1536.33,920.4 1536.63,919.9 1536.93,921.3 1537.23,922.1 1537.53,920.1 1537.83,922.5 1538.13,920.5 1538.43,920.7 1538.73,920.2 1539.03,922.2 1539.33,921.6 1539.63,921.8 1539.93,919.3 1540.23,921.1 1540.53,921.6 1540.83,918.6 1541.13,922.5 1541.43,920.7 1541.73,921.1 1542.03,919.6 1542.33,920.4 1542.63,920.4 1542.93,921.3 1543.23,918.5 1543.53,923.1 1543.83,921.5 1544.13,922.4 1544.43,921.7 1544.73,921.7 1545.03,920.0 1545.33,921.2 1545.63,920.2 1545.93,920.9 1546.23,921.1 1546.83,920.4 1547.13,921.6 1547.43,920.4 1547.73,920.6 1548.03,921.1 1548.33,919.8 1548.63,919.9 1548.93,920.3 1549.23,919.4 1549.53,920.7 1549.83,918.9 1550.13,919.2 1550.43,919.2 1550.73,919.0 1551.03,919.2 1551.33,918.7 1551.63,916.9 1551.93,920.0 1552.23,918.5 1552.53,919.5 1552.83,917.9 1553.13,919.4 1553.43,917.8 1553.73,920.3 1554.03,918.9 1554.33,918.6 1554.63,916.5 1554.93,917.1 1555.23,918.7 1555.53,918.6 1556.13,918.8 1556.43,920.1 1556.73,918.9 1557.03,919.0 1557.63,918.4 1557.93,919.7 1558.23,919.0 1558.53,919.0 1558.83,919.6 1559.13,919.4 1559.43,920.1 1559.73,920.0 1560.03,918.2 1560.33,918.7 1560.63,920.2 1560.93,919.0 1561.23,919.9 1561.83,917.2 1562.13,917.4 1562.43,918.8 1562.73,919.1 1563.03,921.7 1563.33,920.4 1563.63,920.4 1563.93,920.8 1564.23,918.6 1564.53,920.2 1564.83,920.2 1565.13,922.2 1565.43,919.9 1565.73,919.3 1566.03,920.8 1566.33,920.7 1566.93,921.3 1567.23,921.3 1567.53,920.7 1567.83,920.7 1568.13,922.9 1568.43,920.1 1568.73,920.9 1569.03,919.3 1569.33,918.5 1569.63,920.6 1569.93,919.8 1570.23,920.6 1570.53,920.1 1571.13,918.1 1571.43,920.3 1571.73,918.4 1572.03,920.2 1572.33,918.9 1572.63,919.1 1572.93,918.8 1573.23,918.7 1573.53,918.1 1573.83,920.4 1574.13,917.5 1574.43,917.0 1574.73,918.6 1575.03,917.8 1575.33,919.5 1575.63,918.7 1575.93,920.2 1576.53,918.9 1576.83,919.6 1577.13,920.7 1577.43,919.8 1577.73,919.8 1578.33,921.4 1578.63,922.4 1578.93,922.0 1579.23,922.7 1579.53,922.0 1579.83,924.2 1580.13,924.8 1580.43,922.5 1580.73,923.6 1581.03,923.6 1581.33,924.3 1581.63,924.0 1581.93,924.0 1582.23,923.8 1582.83,925.5 1583.13,926.7 1583.43,925.8 1583.73,924.4 1584.03,923.6 1584.33,922.3 1584.63,923.8 1584.93,922.7 1585.23,922.6 1586.13,921.6 1586.43,921.6 1586.73,921.1 1587.03,921.5 1587.33,922.6 1587.63,924.4 1587.93,922.2 1588.23,922.9 1588.53,925.7 1588.83,923.1 1589.13,922.8 1589.43,923.3 1589.73,923.1 1590.03,921.7 1590.33,924.3 1590.63,922.0 1590.93,923.2 1591.23,923.4 1591.53,924.2 1591.83,923.7 1592.43,923.3 1592.73,924.4 1593.03,923.9 1593.33,923.7 1593.63,923.2 1593.93,923.8 1594.23,925.0 1594.53,923.8 1594.83,925.6 1595.13,925.8 1595.43,927.1 1595.73,925.7 1596.03,925.8 1596.33,926.9 1596.63,926.9 1596.93,925.2 1597.23,928.7 1597.53,927.9 1597.83,928.0 1598.13,927.2 1598.43,928.4 1598.73,928.0 1599.03,929.7 1599.33,929.1 1599.63,929.8 1599.93,927.6 1600.53,929.1 1600.83,929.3 1601.13,931.7 1601.73,930.2 1602.03,931.3 1602.33,933.6 1602.63,932.1 1602.93,933.4 1603.23,931.6 1603.53,932.7 1603.83,933.1 1604.13,933.1 1604.73,933.7 1605.03,934.5 1605.33,932.0 1605.63,933.6 1605.93,934.3 1606.23,933.9 1606.53,934.8 1606.83,933.8 1607.43,933.4 1607.73,935.0 1608.03,933.2 1608.33,934.0 1608.63,934.5 1608.93,935.2 1609.23,934.4 1609.53,934.0 1609.83,935.4 1610.13,933.6 1610.43,933.2 1610.73,931.3 1611.03,932.5 1611.33,931.7 1611.63,929.3 1611.93,929.9 1612.23,929.9 1612.53,928.1 1612.83,926.9 1613.13,928.1 1613.43,928.5 1613.73,926.1 1614.03,928.3 1614.33,927.2 1614.63,927.9 1614.93,925.9 1615.23,928.4 1615.53,928.9 1615.83,930.4 1616.13,930.8 1616.43,932.7 1616.73,932.7 1617.03,933.5 1617.33,934.0 1617.63,934.4 1617.93,936.3 1618.23,936.4 1618.53,937.1 1618.83,937.4 1619.13,938.5 1619.43,938.7 1619.73,938.6 1620.33,942.0 1620.63,939.8 1620.93,940.4 1621.23,941.6 1621.53,940.7 1621.83,942.5 1622.13,941.3 1622.43,941.1 1622.73,941.6 1623.03,943.6 1622.88,942.4 1623.12,950.0 1623.38,942.4 1623.33,941.1 1623.63,943.3 1623.93,941.6 1624.23,944.4 1624.53,944.4 1624.83,944.9 1625.13,946.5 1625.43,944.8 1625.73,946.0 1626.03,945.3 1626.33,945.5 1626.63,943.8 1626.93,945.3 1627.23,943.8 1627.53,945.2 1627.83,944.6 1628.13,943.6 1628.43,943.9 1628.73,943.7 1629.03,942.8 1629.33,944.4 1629.63,940.6 1629.93,939.4 1630.23,938.8 1630.53,939.1 1630.83,938.6 1631.13,938.6 1631.43,938.2 1631.73,936.9 1632.03,936.6 1632.33,935.9 1632.63,937.9 1632.93,938.5 1633.23,937.4 1633.53,938.4 1633.83,937.4 1634.13,938.2 1634.43,938.5 1634.73,939.5 1635.03,937.7 1635.33,939.5 1635.63,940.8 1635.93,940.8 1636.23,941.6 1636.53,939.2 1636.83,941.2 1637.13,942.1 1637.43,942.3 1637.73,941.3 1638.03,944.9 1638.33,944.6 1638.63,943.2 1638.93,944.7 1639.23,945.1 1639.53,946.0 1639.83,945.7 1640.13,944.2 1640.43,944.5 1641.03,946.0 1641.33,944.7 1641.63,944.5 1641.93,945.6 1642.23,945.2 1642.53,946.3 1642.83,945.5 1643.13,946.0 1643.43,943.0 1643.73,943.3 1644.03,942.9 1644.63,944.1 1644.93,943.3 1645.23,943.7 1645.53,942.3 1645.83,943.7 1646.13,943.3 1646.43,940.7 1647.03,941.5 1647.33,943.2 1647.63,943.5 1647.93,944.8 1648.23,942.1 1648.53,944.1 1649.13,944.3 1649.43,944.8 1649.73,943.4 1650.03,945.9 1650.63,945.5 1650.93,948.4 1651.23,947.0 1651.53,948.4 1652.13,947.7 1652.73,950.4 1653.03,949.7 1653.63,953.2 1653.93,953.1 1654.23,951.9 1654.53,951.7 1654.83,953.4 1655.13,951.5 1655.43,952.0 1655.73,954.8 1656.03,953.7 1656.33,954.1 1656.63,953.6 1656.93,956.6 1657.23,957.1 1657.53,954.2 1657.83,954.7 1658.13,953.3 1658.73,954.0 1659.03,953.6 1659.33,951.8 1659.63,953.1 1659.93,956.2 1660.23,955.4 1660.53,956.7 1661.13,954.8 1661.43,953.4 1661.73,953.0 1662.03,951.9 1662.63,951.9 1662.93,953.8 1663.23,951.9 1663.53,954.2 1663.83,952.3 1664.13,956.9 1664.43,954.3 1664.73,955.3 1665.03,957.2 1665.33,955.7 1665.63,956.3 1665.93,956.7 1666.23,957.5 1666.53,956.6 1666.83,958.9 1667.13,958.5 1667.43,957.7 1667.73,958.8 1668.03,957.8 1668.33,957.5 1668.93,958.7 1669.23,957.0 1669.53,958.3 1669.83,959.2 1670.13,957.7 1670.43,958.8 1670.73,957.3 1671.03,958.3 1671.33,957.8 1671.63,958.0 1672.23,955.4 1672.53,954.6 1672.83,960.2 1673.13,955.2 1673.43,955.6 1673.73,954.6 1674.03,957.2 1674.33,956.4 1674.63,956.6 1674.93,954.9 1675.23,957.0 1675.53,955.4 1675.83,957.4 1676.13,956.3 1676.43,954.4 1676.73,956.5 1677.03,955.9 1677.33,959.1 1677.63,955.8 1677.93,957.0 1678.23,957.2 1678.53,956.9 1678.83,957.2 1679.43,958.7 1679.73,958.2 1680.03,958.6 1680.33,959.3 1680.63,958.8 1680.93,959.9 1681.23,960.6 1681.53,962.0 1681.83,962.1 1682.13,962.4 1682.43,963.3 1682.73,962.1 1683.03,964.4 1683.33,963.4 1683.63,964.1 1683.93,964.2 1684.23,965.4 1684.53,964.4 1684.83,965.8 1685.13,965.2 1685.43,965.3 1685.73,966.4 1686.03,965.5 1686.33,967.6 1686.63,966.1 1686.93,966.6 1687.23,968.4 1687.53,966.1 1687.83,968.1 1688.13,967.2 1688.73,967.0 1689.03,965.8 1689.33,968.0 1689.63,966.8 1690.53,966.6 1690.83,965.9 1691.13,964.5 1691.43,964.0 1691.73,963.8 1692.03,964.3 1692.33,965.1 1692.63,962.5 1693.23,963.1 1693.53,961.8 1693.83,961.3 1694.13,960.0 1694.43,960.7 1694.73,959.4 1695.03,959.9 1695.33,960.8 1695.93,963.2 1696.23,961.9 1696.53,964.0 1696.83,963.2 1697.13,963.1 1697.43,964.8 1697.73,965.7 1698.03,965.7 1698.33,966.2 1698.63,964.1 1698.93,967.3 1699.23,966.9 1699.53,966.8 1699.83,964.9 1700.13,966.9 1700.43,966.1 1700.73,966.2 1701.03,966.8 1701.33,965.4 1701.63,967.9 1701.93,967.9 1702.23,967.7 1702.53,968.3 1702.83,965.5 1703.13,966.9 1703.43,966.9 1703.73,966.1 1704.33,969.7 1704.63,966.4 1704.93,968.0 1705.23,967.4 1705.83,967.0 1706.13,967.3 1706.43,965.9 1706.73,966.0 1707.03,967.6 1707.33,965.9 1707.63,965.7 1707.93,963.9 1708.23,965.7 1708.53,965.7 1708.83,965.0 1709.13,965.5 1709.43,961.5 1709.73,963.3 1710.03,960.3 1710.33,960.1 1710.63,958.5 1710.93,960.3 1711.23,958.6 1711.53,958.8 1711.83,959.7 1712.13,958.2 1712.43,960.1 1712.73,961.3 1713.03,961.1 1713.33,962.1 1713.63,961.2 1713.93,963.3 1714.23,963.4 1714.53,964.3 1714.83,966.0 1715.13,965.0 1715.43,964.4 1715.73,965.3 1716.03,963.9 1716.33,966.4 1716.63,964.9 1716.93,964.9 1717.23,965.3 1717.53,963.7 1717.83,964.8 1718.13,964.5 1718.43,966.5 1718.73,965.8 1719.03,966.0 1719.33,964.3 1719.63,964.6 1719.93,965.6 1720.23,964.2 1720.53,964.2 1720.75,966.2 1720.50,967.8 1721,956.2 1721.50,967.8 1721,969.4 1721.25,966.2 1721.13,965.9 1721.43,966.0 1721.73,964.1 1722.03,965.4 1722.33,965.4 1722.63,965.3 1722.93,966.3 1723.23,965.2 1723.53,964.8 1723.83,967.4 1724.43,964.3 1724.73,967.0 1725.03,965.4 1725.33,965.0 1725.63,962.0 1725.93,965.6 1726.23,964.2 1726.53,965.0 1726.83,965.3 1727.13,962.3 1727.43,964.8 1728.03,962.6 1728.33,960.2 1728.63,963.7 1728.93,962.0 1729.23,961.9 1729.53,960.0 1729.83,961.3 1730.13,961.3 1730.43,962.6 1730.73,960.9 1731.03,960.2 1731.33,962.0 1731.63,962.1 1731.93,963.7 1732.23,963.8 1732.53,964.6 1732.83,966.0 1733.13,966.8 1733.73,964.7 1734.03,966.0 1734.33,965.6 1734.63,965.4 1734.93,965.1 1735.23,965.0 1735.53,962.8 1735.83,965.0 1736.43,964.3 1736.73,963.7 1737.03,964.2 1737.33,961.4 1737.63,962.4 1737.93,962.5 1738.23,961.1 1738.53,960.9 1738.83,961.4 1739.43,958.8 1739.73,958.6 1740.03,959.0 1740.33,957.9 1740.63,959.1 1740.93,958.9 1741.53,960.3 1741.83,960.5 1742.13,960.1 1742.43,960.5 1742.73,961.2 1743.03,960.0 1743.33,961.0 1743.63,960.0 1743.93,962.1 1743.62,961.4 1744.12,948.8 1744.62,961.4 1744.23,960.8 1744.53,959.2 1744.83,959.6 1745.13,960.4 1745.43,959.7 1745.73,957.7 1746.03,960.4 1746.33,958.7 1746.63,958.0 1747.53,954.1 1747.83,954.9 1748.43,953.0 1748.73,953.1 1749.03,952.1 1749.33,950.2 1749.63,950.1 1749.93,950.8 1750.23,947.9 1750.53,950.4 1750.83,947.4 1751.13,949.5 1751.73,944.5 1752.03,945.7 1752.63,943.8 1752.93,943.7 1753.23,943.2 1753.53,939.7 1753.83,942.7 1754.13,941.3 1754.43,941.0 1754.73,941.1 1755.03,939.9 1755.33,937.9 1755.63,938.8 1755.93,936.9 1756.23,936.5 1756.53,934.7 1756.83,934.3 1757.13,932.7 1757.43,934.1 1757.73,930.4 1758.03,930.7 1757.62,928.7 1758.12,925.0 1758.33,926.6 1758.63,927.0 1758.93,925.1 1759.23,924.7 1759.53,922.5 1759.83,922.8 1760.13,921.9 1760.43,917.3 1760.73,916.9 1761.03,914.0 1761.33,912.9 1761.93,914.1 1762.23,913.7 1762.53,913.0 1762.83,913.7 1763.13,912.0 1763.43,912.1 1763.73,912.4 1764.03,910.8 1764.33,912.1 1764.63,910.7 1764.93,910.0 1765.23,909.8 1765.53,908.3 1765.83,908.3 1766.13,907.0 1766.43,906.7 1766.73,905.6 1767.03,905.0 1767.33,903.2 1767.63,902.4 1768.23,899.1"/>
<polyline stroke="#000" stroke-width="2.083" points="1767.63,902.4 1768.23,899.1 1768.53,898.6 1769.43,893.1 1770.63,885.0 1772.73,867.7 1777.83,820.4 1790.73,637.5 1811.13,258.0 1815.63,190.3 1820.43,145.5 1822.53,130.2 1824.33,122.4 1825.53,118.8 1827.33,116.0 1827.63,115.6 1830.03,114.0 1864.53,113.2"/>
</g>
<g class="mj">
<line x1="404.5" y1="1177.5" x2="404.5" y2="1192.5"/>
<line x1="629.5" y1="1177.5" x2="629.5" y2="1192.5"/>
<line x1="853.5" y1="1177.5" x2="853.5" y2="1192.5"/>
<line x1="1078.5" y1="1177.5" x2="1078.5" y2="1192.5"/>
<line x1="1302.5" y1="1177.5" x2="1302.5" y2="1192.5"/>
<line x1="1527.5" y1="1177.5" x2="1527.5" y2="1192.5"/>
<line x1="1752.5" y1="1177.5" x2="1752.5" y2="1192.5"/>
<line x1="280.5" y1="528.5" x2="265.5" y2="528.5"/>
</g><g class="mn">
<line x1="280.5" y1="1113.5" x2="272.5" y2="1113.5"/>
<line x1="280.5" y1="973.5" x2="272.5" y2="973.5"/>
<line x1="280.5" y1="865.5" x2="272.5" y2="865.5"/>
<line x1="280.5" y1="776.5" x2="272.5" y2="776.5"/>
<line x1="280.5" y1="701.5" x2="272.5" y2="701.5"/>
<line x1="280.5" y1="636.5" x2="272.5" y2="636.5"/>
<line x1="280.5" y1="579.5" x2="272.5" y2="579.5"/>
<line x1="280.5" y1="190.5" x2="272.5" y2="190.5"/>
</g>
<rect class="sp" x="280.5" y="112.5" width="1585.0" height="1065.0"/>
<g class="t10">
<text transform="translate(328.12 1328.89) rotate(-30)">12-12 17</text>
<text transform="translate(552.50 1328.03) rotate(-30)">12-12 19</text>
<text transform="translate(777.10 1328.96) rotate(-30)">12-12 21</text>
<text transform="translate(1001.52 1328.08) rotate(-30)">12-12 23</text>
<text transform="translate(1226.89 1327.95) rotate(-30)">12-13 01</text>
<text transform="translate(1450.76 1328.00) rotate(-30)">12-13 03</text>
<text transform="translate(1675.64 1328.07) rotate(-30)">12-13 05</text>
</g>
<text class="t10"><tspan x="108.70" y="207.34">2</tspan><tspan x="143.32" y="207.34">×</tspan><tspan x="186.35" y="207.34">10</tspan><tspan class="t7" x="239.77" y="191.39">8</tspan></text>
<text class="t10"><tspan x="179.08" y="543.67">10</tspan><tspan class="t7" x="232.50" y="527.72">8</tspan></text>
<text class="t10"><tspan x="108.36" y="791.55">6</tspan><tspan x="142.98" y="791.55">×</tspan><tspan x="186.01" y="791.55">10</tspan><tspan class="t7" x="239.43" y="775.60">7</tspan></text>
<text class="t10"><tspan x="108.32" y="989.41">4</tspan><tspan x="142.94" y="989.41">×</tspan><tspan x="185.97" y="989.41">10</tspan><tspan class="t7" x="239.39" y="973.46">7</tspan></text>
<text class="t10"><tspan x="108.30" y="1128.52">3</tspan><tspan x="142.92" y="1128.52">×</tspan><tspan x="185.95" y="1128.52">10</tspan><tspan class="t7" x="239.37" y="1112.57">7</tspan></text>
<text class="t10" text-anchor="middle" transform="translate(1072.38 1385.54) scale(1 1.035)">Time</text>
<text class="t10" text-anchor="middle" transform="translate(81.42 645.91) rotate(-90)">ADU</text>
<text class="t12" text-anchor="middle" letter-spacing="0.036" x="1072.12" y="87.40">Peak field sums for HR000V_20251212_155234_843703</text>
<rect x="1520.0" y="1018.0" width="324.0" height="137.79999999999995" rx="8.33" ry="8.33" fill="#fff" stroke="#ccc" stroke-width="4.167" opacity="0.8"/>
<line x1="1537.07" y1="1053.0" x2="1620.00" y2="1053.0" stroke="#f00" stroke-width="2.083" stroke-linecap="square"/>
<line x1="1537.07" y1="1116.0" x2="1620.00" y2="1116.0" stroke="#000" stroke-width="2.083" stroke-linecap="square"/>
<text class="t10" transform="translate(1653.51 1068.24) scale(1 1.035)">Peak</text>
<text class="t10" transform="translate(1653.58 1130.61) scale(1 1.035)">Average</text>
</svg></body></html>
